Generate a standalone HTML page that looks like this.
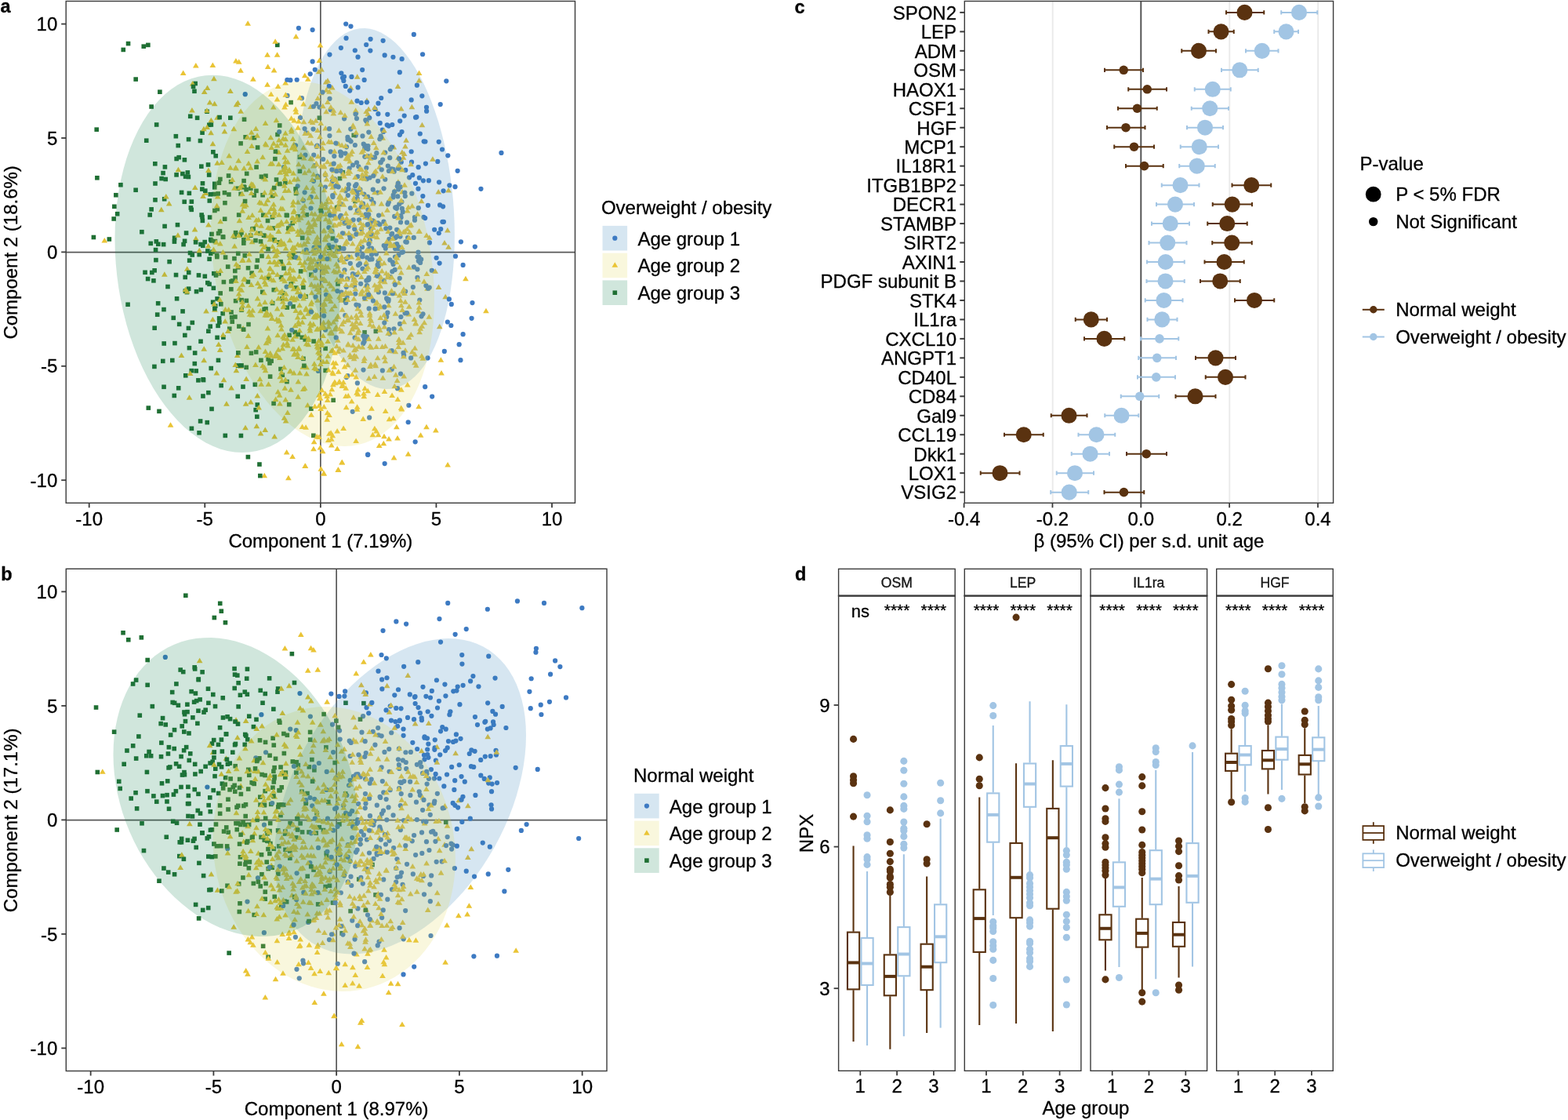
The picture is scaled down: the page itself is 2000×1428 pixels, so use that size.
<!DOCTYPE html>
<html lang="en">
<head>
<meta charset="utf-8">
<title>Figure: proteomic age associations by weight group</title>
<style>
html,body{margin:0;padding:0;background:#fff;}
body{width:2000px;height:1428px;overflow:hidden;}
svg{display:block;font-family:'Liberation Sans', sans-serif;}
text{stroke:#000;stroke-width:0.3px;}
</style>
</head>
<body>
<svg width="2000" height="1428" viewBox="0 0 2000 1428">
<rect x="0" y="0" width="2000" height="1428" fill="#ffffff"/>
<text x="0.6" y="16.4" font-size="23.5" font-weight="bold">a</text>
<line x1="84.2" y1="321.7" x2="733.5" y2="321.7" stroke="#585858" stroke-width="1.7"/>
<line x1="408.85" y1="1.5" x2="408.85" y2="641.3" stroke="#585858" stroke-width="1.7"/>
<g fill="#3D7AC2"><circle cx="583.65" cy="217.8" r="3.1"/></g>
<g fill="#1F6F33"><rect x="146.86" y="269.92" width="5.6" height="5.6"/><rect x="239.92" y="145.45" width="5.6" height="5.6"/></g>
<g fill="#3D7AC2"><circle cx="400.51" cy="315.55" r="3.1"/><circle cx="531.87" cy="108.63" r="3.1"/></g>
<g fill="#1F6F33"><rect x="296.49" y="298.91" width="5.6" height="5.6"/><rect x="178.09" y="292.92" width="5.6" height="5.6"/></g>
<g fill="#3D7AC2"><circle cx="378.68" cy="101.74" r="3.1"/><circle cx="561.69" cy="133.1" r="3.1"/><circle cx="365.56" cy="365.55" r="3.1"/></g>
<g fill="#1F6F33"><rect x="309.5" y="323.11" width="5.6" height="5.6"/></g>
<g fill="#3D7AC2"><circle cx="482.4" cy="145.13" r="3.1"/></g>
<g fill="#1F6F33"><rect x="268.23" y="318.39" width="5.6" height="5.6"/></g>
<g fill="#3D7AC2"><circle cx="419.43" cy="290.07" r="3.1"/><circle cx="470.19" cy="273.32" r="3.1"/><circle cx="462.49" cy="324.84" r="3.1"/><circle cx="456.13" cy="224.99" r="3.1"/></g>
<g fill="#1F6F33"><rect x="275.67" y="456.55" width="5.6" height="5.6"/><rect x="240.57" y="262.14" width="5.6" height="5.6"/></g>
<g fill="#3D7AC2"><circle cx="469.15" cy="579.7" r="3.1"/></g>
<g fill="#1F6F33"><rect x="357.15" y="377.9" width="5.6" height="5.6"/></g>
<g fill="#3D7AC2"><circle cx="511.01" cy="283.47" r="3.1"/><circle cx="466.28" cy="153.07" r="3.1"/><circle cx="447.47" cy="33.61" r="3.1"/><circle cx="529.65" cy="563.34" r="3.1"/><circle cx="468.17" cy="328.35" r="3.1"/></g>
<g fill="#1F6F33"><rect x="284.14" y="255.91" width="5.6" height="5.6"/></g>
<g fill="#3D7AC2"><circle cx="511.54" cy="277.31" r="3.1"/></g>
<g fill="#1F6F33"><rect x="287.91" y="337.28" width="5.6" height="5.6"/></g>
<g fill="#3D7AC2"><circle cx="497.75" cy="353.2" r="3.1"/></g>
<g fill="#1F6F33"><rect x="311.32" y="238.91" width="5.6" height="5.6"/><rect x="308.02" y="307.26" width="5.6" height="5.6"/></g>
<g fill="#3D7AC2"><circle cx="312.73" cy="120.14" r="3.1"/><circle cx="510.48" cy="301.57" r="3.1"/><circle cx="467.82" cy="228.23" r="3.1"/></g>
<g fill="#1F6F33"><rect x="281.61" y="299.13" width="5.6" height="5.6"/><rect x="430.68" y="224.77" width="5.6" height="5.6"/></g>
<g fill="#3D7AC2"><circle cx="474.05" cy="298.68" r="3.1"/><circle cx="450.64" cy="280.32" r="3.1"/><circle cx="539.89" cy="230.32" r="3.1"/><circle cx="467.11" cy="337.18" r="3.1"/><circle cx="546.9" cy="230.17" r="3.1"/></g>
<g fill="#1F6F33"><rect x="384.15" y="454.53" width="5.6" height="5.6"/></g>
<g fill="#3D7AC2"><circle cx="515.07" cy="452.97" r="3.1"/><circle cx="547.75" cy="366.52" r="3.1"/></g>
<g fill="#1F6F33"><rect x="246.35" y="103.67" width="5.6" height="5.6"/><rect x="313.74" y="338.87" width="5.6" height="5.6"/></g>
<g fill="#3D7AC2"><circle cx="410" cy="270.52" r="3.1"/></g>
<g fill="#1F6F33"><rect x="307.2" y="490.29" width="5.6" height="5.6"/></g>
<g fill="#3D7AC2"><circle cx="414.83" cy="238.48" r="3.1"/><circle cx="435.08" cy="260.03" r="3.1"/></g>
<g fill="#1F6F33"><rect x="231.29" y="308.83" width="5.6" height="5.6"/><rect x="331.92" y="369.51" width="5.6" height="5.6"/></g>
<g fill="#3D7AC2"><circle cx="469.91" cy="199.35" r="3.1"/><circle cx="435.34" cy="93.26" r="3.1"/><circle cx="414.99" cy="420.6" r="3.1"/></g>
<g fill="#1F6F33"><rect x="205.25" y="217.8" width="5.6" height="5.6"/><rect x="305.15" y="293.99" width="5.6" height="5.6"/><rect x="361.1" y="230.03" width="5.6" height="5.6"/></g>
<g fill="#3D7AC2"><circle cx="558.28" cy="205.97" r="3.1"/><circle cx="433.58" cy="331.73" r="3.1"/><circle cx="453.75" cy="172.69" r="3.1"/></g>
<g fill="#1F6F33"><rect x="317.64" y="447.52" width="5.6" height="5.6"/><rect x="344.87" y="383.72" width="5.6" height="5.6"/></g>
<g fill="#3D7AC2"><circle cx="507.79" cy="214.71" r="3.1"/><circle cx="443.22" cy="355.27" r="3.1"/><circle cx="465.34" cy="199.86" r="3.1"/></g>
<g fill="#1F6F33"><rect x="421.55" y="301.24" width="5.6" height="5.6"/></g>
<g fill="#3D7AC2"><circle cx="505.9" cy="264.01" r="3.1"/><circle cx="389.45" cy="197.7" r="3.1"/><circle cx="444.81" cy="235.35" r="3.1"/></g>
<g fill="#1F6F33"><rect x="462.25" y="420.9" width="5.6" height="5.6"/><rect x="331.18" y="323.66" width="5.6" height="5.6"/><rect x="254.35" y="271.22" width="5.6" height="5.6"/></g>
<g fill="#3D7AC2"><circle cx="457.3" cy="212.35" r="3.1"/></g>
<g fill="#1F6F33"><rect x="363.31" y="271.81" width="5.6" height="5.6"/></g>
<g fill="#3D7AC2"><circle cx="456.54" cy="72.69" r="3.1"/><circle cx="470.67" cy="393.44" r="3.1"/></g>
<g fill="#1F6F33"><rect x="277.04" y="408.21" width="5.6" height="5.6"/></g>
<g fill="#3D7AC2"><circle cx="401.76" cy="88.74" r="3.1"/><circle cx="435.19" cy="194.66" r="3.1"/><circle cx="454.95" cy="244.14" r="3.1"/></g>
<g fill="#1F6F33"><rect x="276.42" y="346.05" width="5.6" height="5.6"/><rect x="343.33" y="457.46" width="5.6" height="5.6"/><rect x="379.62" y="215.56" width="5.6" height="5.6"/><rect x="304.36" y="244.57" width="5.6" height="5.6"/><rect x="234.78" y="294.25" width="5.6" height="5.6"/><rect x="365.96" y="512.93" width="5.6" height="5.6"/><rect x="274.28" y="427.56" width="5.6" height="5.6"/><rect x="333.19" y="223.73" width="5.6" height="5.6"/><rect x="422.36" y="507.45" width="5.6" height="5.6"/><rect x="336.17" y="221.43" width="5.6" height="5.6"/><rect x="195.78" y="315.78" width="5.6" height="5.6"/></g>
<g fill="#3D7AC2"><circle cx="434.88" cy="61.11" r="3.1"/><circle cx="515.69" cy="147.58" r="3.1"/></g>
<g fill="#1F6F33"><rect x="293.42" y="407.37" width="5.6" height="5.6"/><rect x="394.01" y="347.42" width="5.6" height="5.6"/></g>
<g fill="#3D7AC2"><circle cx="379.58" cy="237.32" r="3.1"/></g>
<g fill="#1F6F33"><rect x="265.98" y="320.42" width="5.6" height="5.6"/></g>
<g fill="#3D7AC2"><circle cx="420.42" cy="173.09" r="3.1"/></g>
<g fill="#1F6F33"><rect x="253.5" y="366.66" width="5.6" height="5.6"/></g>
<g fill="#3D7AC2"><circle cx="474.48" cy="330.43" r="3.1"/><circle cx="533.47" cy="240.65" r="3.1"/><circle cx="432.7" cy="359.21" r="3.1"/><circle cx="433.68" cy="277.17" r="3.1"/></g>
<g fill="#1F6F33"><rect x="190.33" y="133.22" width="5.6" height="5.6"/></g>
<g fill="#3D7AC2"><circle cx="362.13" cy="213.14" r="3.1"/></g>
<g fill="#1F6F33"><rect x="272.43" y="195.96" width="5.6" height="5.6"/></g>
<g fill="#3D7AC2"><circle cx="509.83" cy="92.22" r="3.1"/></g>
<g fill="#1F6F33"><rect x="388.38" y="271.02" width="5.6" height="5.6"/></g>
<g fill="#3D7AC2"><circle cx="488.14" cy="203.54" r="3.1"/><circle cx="587.46" cy="459.15" r="3.1"/><circle cx="460.1" cy="361.81" r="3.1"/><circle cx="480.29" cy="195.2" r="3.1"/><circle cx="444.7" cy="327.58" r="3.1"/><circle cx="501.43" cy="72.73" r="3.1"/><circle cx="493.1" cy="380.38" r="3.1"/><circle cx="403.81" cy="186.9" r="3.1"/><circle cx="370.1" cy="288.3" r="3.1"/></g>
<g fill="#1F6F33"><rect x="310.34" y="172.01" width="5.6" height="5.6"/><rect x="196.12" y="328.78" width="5.6" height="5.6"/><rect x="359.16" y="339.17" width="5.6" height="5.6"/><rect x="476.53" y="419.59" width="5.6" height="5.6"/><rect x="274.53" y="263.76" width="5.6" height="5.6"/><rect x="217" y="456.66" width="5.6" height="5.6"/><rect x="237.67" y="415.62" width="5.6" height="5.6"/></g>
<g fill="#3D7AC2"><circle cx="462.43" cy="342.56" r="3.1"/></g>
<g fill="#1F6F33"><rect x="265.4" y="413.34" width="5.6" height="5.6"/><rect x="219.49" y="501.64" width="5.6" height="5.6"/></g>
<g fill="#3D7AC2"><circle cx="390.62" cy="169.32" r="3.1"/><circle cx="537.56" cy="403.3" r="3.1"/></g>
<g fill="#1F6F33"><rect x="208.43" y="225.7" width="5.6" height="5.6"/></g>
<g fill="#3D7AC2"><circle cx="485.61" cy="173.48" r="3.1"/><circle cx="462.03" cy="315.02" r="3.1"/></g>
<g fill="#1F6F33"><rect x="248.81" y="147.49" width="5.6" height="5.6"/></g>
<g fill="#3D7AC2"><circle cx="569.31" cy="103.3" r="3.1"/><circle cx="503.15" cy="275.88" r="3.1"/></g>
<g fill="#1F6F33"><rect x="339.34" y="455.11" width="5.6" height="5.6"/></g>
<g fill="#3D7AC2"><circle cx="452.04" cy="364.7" r="3.1"/><circle cx="547.92" cy="309.45" r="3.1"/><circle cx="412.19" cy="202.99" r="3.1"/><circle cx="525.04" cy="206.71" r="3.1"/></g>
<g fill="#1F6F33"><rect x="351" y="54.57" width="5.6" height="5.6"/></g>
<g fill="#3D7AC2"><circle cx="440.78" cy="243.29" r="3.1"/><circle cx="573.34" cy="236.35" r="3.1"/><circle cx="443.54" cy="178.1" r="3.1"/><circle cx="522.03" cy="226.3" r="3.1"/><circle cx="531.3" cy="149.16" r="3.1"/></g>
<g fill="#1F6F33"><rect x="253.24" y="432.46" width="5.6" height="5.6"/><rect x="256.16" y="502.22" width="5.6" height="5.6"/></g>
<g fill="#3D7AC2"><circle cx="467.32" cy="214.05" r="3.1"/><circle cx="452.8" cy="64.24" r="3.1"/><circle cx="551.16" cy="505.53" r="3.1"/><circle cx="434.87" cy="316.73" r="3.1"/></g>
<g fill="#1F6F33"><rect x="275.79" y="294.75" width="5.6" height="5.6"/></g>
<g fill="#3D7AC2"><circle cx="496.43" cy="304.84" r="3.1"/><circle cx="513.81" cy="270.14" r="3.1"/></g>
<g fill="#1F6F33"><rect x="355.51" y="308.12" width="5.6" height="5.6"/></g>
<g fill="#3D7AC2"><circle cx="575.36" cy="415.01" r="3.1"/><circle cx="435.65" cy="278.71" r="3.1"/></g>
<g fill="#1F6F33"><rect x="377.23" y="273.15" width="5.6" height="5.6"/></g>
<g fill="#3D7AC2"><circle cx="545.95" cy="261.83" r="3.1"/><circle cx="503.98" cy="327.54" r="3.1"/></g>
<g fill="#1F6F33"><rect x="282.1" y="427.24" width="5.6" height="5.6"/></g>
<g fill="#3D7AC2"><circle cx="532.5" cy="327.5" r="3.1"/></g>
<g fill="#1F6F33"><rect x="211.19" y="362.7" width="5.6" height="5.6"/></g>
<g fill="#3D7AC2"><circle cx="550.78" cy="344.76" r="3.1"/></g>
<g fill="#1F6F33"><rect x="296.98" y="342.67" width="5.6" height="5.6"/><rect x="368.3" y="127.77" width="5.6" height="5.6"/><rect x="237.79" y="174.86" width="5.6" height="5.6"/></g>
<g fill="#3D7AC2"><circle cx="495.9" cy="217.98" r="3.1"/><circle cx="451.53" cy="356.68" r="3.1"/></g>
<g fill="#1F6F33"><rect x="366.31" y="424.48" width="5.6" height="5.6"/></g>
<g fill="#3D7AC2"><circle cx="485.7" cy="207.23" r="3.1"/><circle cx="501.08" cy="216.36" r="3.1"/></g>
<g fill="#1F6F33"><rect x="160.28" y="385.44" width="5.6" height="5.6"/><rect x="412.35" y="469.57" width="5.6" height="5.6"/><rect x="198.85" y="383.95" width="5.6" height="5.6"/></g>
<g fill="#3D7AC2"><circle cx="390.68" cy="318.56" r="3.1"/></g>
<g fill="#1F6F33"><rect x="328.15" y="589.24" width="5.6" height="5.6"/></g>
<g fill="#3D7AC2"><circle cx="564.38" cy="282.78" r="3.1"/><circle cx="439.34" cy="284.68" r="3.1"/><circle cx="459.4" cy="241.71" r="3.1"/></g>
<g fill="#1F6F33"><rect x="304.3" y="180.04" width="5.6" height="5.6"/><rect x="284.49" y="552.59" width="5.6" height="5.6"/><rect x="303.46" y="296.56" width="5.6" height="5.6"/></g>
<g fill="#3D7AC2"><circle cx="613.45" cy="240.87" r="3.1"/><circle cx="482.03" cy="350.35" r="3.1"/></g>
<g fill="#1F6F33"><rect x="370.17" y="325.11" width="5.6" height="5.6"/></g>
<g fill="#3D7AC2"><circle cx="416.01" cy="375.76" r="3.1"/><circle cx="511.74" cy="206.7" r="3.1"/><circle cx="406.77" cy="313.49" r="3.1"/><circle cx="453.06" cy="237.19" r="3.1"/><circle cx="467.18" cy="57.01" r="3.1"/></g>
<g fill="#1F6F33"><rect x="264.31" y="327.47" width="5.6" height="5.6"/><rect x="222.8" y="377.98" width="5.6" height="5.6"/><rect x="186.07" y="54.57" width="5.6" height="5.6"/><rect x="264.25" y="359.51" width="5.6" height="5.6"/></g>
<g fill="#3D7AC2"><circle cx="472.21" cy="285.39" r="3.1"/><circle cx="501.69" cy="248.7" r="3.1"/><circle cx="501.5" cy="251.52" r="3.1"/><circle cx="430.21" cy="319.93" r="3.1"/></g>
<g fill="#1F6F33"><rect x="222.27" y="220.09" width="5.6" height="5.6"/></g>
<g fill="#3D7AC2"><circle cx="590.59" cy="426.21" r="3.1"/><circle cx="458.92" cy="336.17" r="3.1"/></g>
<g fill="#1F6F33"><rect x="434.58" y="216.94" width="5.6" height="5.6"/></g>
<g fill="#3D7AC2"><circle cx="471.29" cy="316.98" r="3.1"/><circle cx="437.08" cy="99.14" r="3.1"/><circle cx="530.05" cy="149.65" r="3.1"/></g>
<g fill="#1F6F33"><rect x="183.94" y="176.4" width="5.6" height="5.6"/></g>
<g fill="#EAC435"><path d="M363.01 423.32l3.85 6.5h-7.7z"/><path d="M288.95 511.2l3.85 6.5h-7.7z"/><path d="M386.34 317.23l3.85 6.5h-7.7z"/><path d="M286.44 164.02l3.85 6.5h-7.7z"/></g>
<g fill="#1F6F33"><rect x="450.2" y="253.74" width="5.6" height="5.6"/></g>
<g fill="#EAC435"><path d="M441.54 280.82l3.85 6.5h-7.7z"/></g>
<g fill="#1F6F33"><rect x="373.31" y="420.75" width="5.6" height="5.6"/></g>
<g fill="#EAC435"><path d="M455.07 291.59l3.85 6.5h-7.7z"/><path d="M422.08 548.28l3.85 6.5h-7.7z"/></g>
<g fill="#1F6F33"><rect x="196.89" y="156.17" width="5.6" height="5.6"/></g>
<g fill="#EAC435"><path d="M429.47 437.72l3.85 6.5h-7.7z"/><path d="M395.23 415.09l3.85 6.5h-7.7z"/><path d="M426.91 386.4l3.85 6.5h-7.7z"/><path d="M508.63 356.64l3.85 6.5h-7.7z"/></g>
<g fill="#3D7AC2"><circle cx="504.11" cy="317.07" r="3.1"/><circle cx="467.37" cy="357.73" r="3.1"/><circle cx="469.21" cy="579.72" r="3.1"/></g>
<g fill="#1F6F33"><rect x="224.9" y="492.03" width="5.6" height="5.6"/></g>
<g fill="#EAC435"><path d="M401.39 280.39l3.85 6.5h-7.7z"/><path d="M357.18 216.34l3.85 6.5h-7.7z"/></g>
<g fill="#1F6F33"><rect x="352.86" y="306.06" width="5.6" height="5.6"/></g>
<g fill="#3D7AC2"><circle cx="441.98" cy="187.28" r="3.1"/></g>
<g fill="#EAC435"><path d="M379.25 447.04l3.85 6.5h-7.7z"/></g>
<g fill="#1F6F33"><rect x="228.8" y="242.6" width="5.6" height="5.6"/><rect x="186.52" y="517.31" width="5.6" height="5.6"/><rect x="241.47" y="264.55" width="5.6" height="5.6"/></g>
<g fill="#EAC435"><path d="M451.48 357.47l3.85 6.5h-7.7z"/><path d="M388.81 216.74l3.85 6.5h-7.7z"/><path d="M249.89 300.62l3.85 6.5h-7.7z"/><path d="M497.26 370.62l3.85 6.5h-7.7z"/></g>
<g fill="#1F6F33"><rect x="225.87" y="410.58" width="5.6" height="5.6"/><rect x="136.55" y="302.19" width="5.6" height="5.6"/></g>
<g fill="#EAC435"><path d="M490.46 495.52l3.85 6.5h-7.7z"/><path d="M371.7 161.38l3.85 6.5h-7.7z"/></g>
<g fill="#3D7AC2"><circle cx="516.76" cy="250.06" r="3.1"/></g>
<g fill="#EAC435"><path d="M276.6 258.78l3.85 6.5h-7.7z"/><path d="M514.69 292.34l3.85 6.5h-7.7z"/></g>
<g fill="#3D7AC2"><circle cx="539.34" cy="250.1" r="3.1"/></g>
<g fill="#EAC435"><path d="M503.32 239.82l3.85 6.5h-7.7z"/><path d="M292.19 194.93l3.85 6.5h-7.7z"/><path d="M479.52 383.34l3.85 6.5h-7.7z"/><path d="M360.89 374.9l3.85 6.5h-7.7z"/><path d="M426.81 242.19l3.85 6.5h-7.7z"/></g>
<g fill="#3D7AC2"><circle cx="464.64" cy="101.9" r="3.1"/></g>
<g fill="#EAC435"><path d="M363.15 354.79l3.85 6.5h-7.7z"/></g>
<g fill="#1F6F33"><rect x="250.68" y="348.11" width="5.6" height="5.6"/></g>
<g fill="#3D7AC2"><circle cx="440.31" cy="402.16" r="3.1"/></g>
<g fill="#EAC435"><path d="M436.56 391.24l3.85 6.5h-7.7z"/><path d="M406.49 365.39l3.85 6.5h-7.7z"/></g>
<g fill="#3D7AC2"><circle cx="446.03" cy="300.42" r="3.1"/><circle cx="520.68" cy="538.24" r="3.1"/><circle cx="421.76" cy="193.42" r="3.1"/><circle cx="481.7" cy="245.59" r="3.1"/></g>
<g fill="#1F6F33"><rect x="255.19" y="273.79" width="5.6" height="5.6"/></g>
<g fill="#3D7AC2"><circle cx="505.95" cy="265.78" r="3.1"/></g>
<g fill="#1F6F33"><rect x="194.34" y="342.02" width="5.6" height="5.6"/></g>
<g fill="#EAC435"><path d="M436.27 585.7l3.85 6.5h-7.7z"/><path d="M356.56 500.28l3.85 6.5h-7.7z"/><path d="M422.78 443.86l3.85 6.5h-7.7z"/></g>
<g fill="#1F6F33"><rect x="297.76" y="293.85" width="5.6" height="5.6"/></g>
<g fill="#3D7AC2"><circle cx="470.38" cy="354.14" r="3.1"/></g>
<g fill="#EAC435"><path d="M470.9 297.54l3.85 6.5h-7.7z"/><path d="M391.19 318.28l3.85 6.5h-7.7z"/><path d="M282.89 203.54l3.85 6.5h-7.7z"/></g>
<g fill="#1F6F33"><rect x="247.39" y="470.1" width="5.6" height="5.6"/><rect x="301.88" y="271.21" width="5.6" height="5.6"/></g>
<g fill="#EAC435"><path d="M346.34 246.48l3.85 6.5h-7.7z"/></g>
<g fill="#1F6F33"><rect x="345.17" y="246.41" width="5.6" height="5.6"/><rect x="308.17" y="235.27" width="5.6" height="5.6"/><rect x="207.62" y="210.09" width="5.6" height="5.6"/><rect x="371.25" y="388.08" width="5.6" height="5.6"/></g>
<g fill="#EAC435"><path d="M420.02 113.21l3.85 6.5h-7.7z"/></g>
<g fill="#1F6F33"><rect x="291" y="147.44" width="5.6" height="5.6"/></g>
<g fill="#3D7AC2"><circle cx="454.56" cy="235.06" r="3.1"/></g>
<g fill="#EAC435"><path d="M309.78 327.91l3.85 6.5h-7.7z"/></g>
<g fill="#3D7AC2"><circle cx="411.16" cy="356.38" r="3.1"/></g>
<g fill="#EAC435"><path d="M521.82 387.35l3.85 6.5h-7.7z"/><path d="M403.37 204.8l3.85 6.5h-7.7z"/></g>
<g fill="#3D7AC2"><circle cx="536.12" cy="334.91" r="3.1"/></g>
<g fill="#EAC435"><path d="M397.2 285.46l3.85 6.5h-7.7z"/><path d="M496.81 306.48l3.85 6.5h-7.7z"/></g>
<g fill="#1F6F33"><rect x="346.46" y="366.8" width="5.6" height="5.6"/></g>
<g fill="#EAC435"><path d="M425.37 141.09l3.85 6.5h-7.7z"/></g>
<g fill="#3D7AC2"><circle cx="388.63" cy="245.34" r="3.1"/></g>
<g fill="#EAC435"><path d="M342.45 486.27l3.85 6.5h-7.7z"/><path d="M525.7 444.92l3.85 6.5h-7.7z"/></g>
<g fill="#3D7AC2"><circle cx="513.96" cy="321.29" r="3.1"/><circle cx="401.65" cy="210.99" r="3.1"/></g>
<g fill="#EAC435"><path d="M551.93 199.29l3.85 6.5h-7.7z"/></g>
<g fill="#3D7AC2"><circle cx="495.3" cy="384.2" r="3.1"/></g>
<g fill="#EAC435"><path d="M425.31 406.89l3.85 6.5h-7.7z"/></g>
<g fill="#3D7AC2"><circle cx="488.61" cy="51.86" r="3.1"/></g>
<g fill="#EAC435"><path d="M406.93 326.7l3.85 6.5h-7.7z"/><path d="M463.87 256.77l3.85 6.5h-7.7z"/><path d="M427.71 484.83l3.85 6.5h-7.7z"/></g>
<g fill="#3D7AC2"><circle cx="454.39" cy="388.58" r="3.1"/></g>
<g fill="#1F6F33"><rect x="241.55" y="254.31" width="5.6" height="5.6"/><rect x="283.88" y="276.4" width="5.6" height="5.6"/></g>
<g fill="#3D7AC2"><circle cx="512.84" cy="265.92" r="3.1"/></g>
<g fill="#EAC435"><path d="M464.96 342.52l3.85 6.5h-7.7z"/></g>
<g fill="#3D7AC2"><circle cx="566.84" cy="447.94" r="3.1"/></g>
<g fill="#EAC435"><path d="M472.5 198.18l3.85 6.5h-7.7z"/><path d="M308.85 232.92l3.85 6.5h-7.7z"/><path d="M332.52 549.03l3.85 6.5h-7.7z"/></g>
<g fill="#3D7AC2"><circle cx="441.55" cy="48.64" r="3.1"/></g>
<g fill="#EAC435"><path d="M452.68 356.64l3.85 6.5h-7.7z"/></g>
<g fill="#3D7AC2"><circle cx="465.63" cy="185.68" r="3.1"/></g>
<g fill="#EAC435"><path d="M509.53 433.19l3.85 6.5h-7.7z"/><path d="M436.36 409.87l3.85 6.5h-7.7z"/><path d="M284.58 423.24l3.85 6.5h-7.7z"/></g>
<g fill="#1F6F33"><rect x="281.39" y="396.96" width="5.6" height="5.6"/></g>
<g fill="#EAC435"><path d="M414.07 384.6l3.85 6.5h-7.7z"/><path d="M293.87 210.36l3.85 6.5h-7.7z"/><path d="M559.5 362.43l3.85 6.5h-7.7z"/></g>
<g fill="#1F6F33"><rect x="246.81" y="306.05" width="5.6" height="5.6"/></g>
<g fill="#EAC435"><path d="M358.98 416.08l3.85 6.5h-7.7z"/><path d="M417.26 531.15l3.85 6.5h-7.7z"/></g>
<g fill="#1F6F33"><rect x="397.03" y="552.5" width="5.6" height="5.6"/><rect x="297.79" y="380.85" width="5.6" height="5.6"/></g>
<g fill="#EAC435"><path d="M504.33 444.71l3.85 6.5h-7.7z"/><path d="M345.92 449.94l3.85 6.5h-7.7z"/><path d="M367.92 605.87l3.85 6.5h-7.7z"/><path d="M423.75 108.11l3.85 6.5h-7.7z"/><path d="M516.92 183.07l3.85 6.5h-7.7z"/></g>
<g fill="#1F6F33"><rect x="300.45" y="502.54" width="5.6" height="5.6"/></g>
<g fill="#EAC435"><path d="M418.34 337.1l3.85 6.5h-7.7z"/><path d="M399.85 275.9l3.85 6.5h-7.7z"/><path d="M364.21 173.7l3.85 6.5h-7.7z"/><path d="M441.67 515.76l3.85 6.5h-7.7z"/></g>
<g fill="#1F6F33"><rect x="292.05" y="365.9" width="5.6" height="5.6"/><rect x="206.25" y="490.49" width="5.6" height="5.6"/></g>
<g fill="#EAC435"><path d="M395.86 330.92l3.85 6.5h-7.7z"/><path d="M514.85 450.64l3.85 6.5h-7.7z"/></g>
<g fill="#3D7AC2"><circle cx="384.96" cy="125.19" r="3.1"/></g>
<g fill="#1F6F33"><rect x="300.38" y="237.41" width="5.6" height="5.6"/></g>
<g fill="#EAC435"><path d="M450.3 156.35l3.85 6.5h-7.7z"/></g>
<g fill="#1F6F33"><rect x="263.87" y="220.22" width="5.6" height="5.6"/></g>
<g fill="#3D7AC2"><circle cx="453.27" cy="374.53" r="3.1"/></g>
<g fill="#EAC435"><path d="M372.32 185.12l3.85 6.5h-7.7z"/><path d="M309.39 385.89l3.85 6.5h-7.7z"/><path d="M572.04 238.94l3.85 6.5h-7.7z"/></g>
<g fill="#1F6F33"><rect x="323.87" y="446.11" width="5.6" height="5.6"/></g>
<g fill="#3D7AC2"><circle cx="503.88" cy="312.06" r="3.1"/></g>
<g fill="#EAC435"><path d="M409.38 594.22l3.85 6.5h-7.7z"/></g>
<g fill="#1F6F33"><rect x="355.17" y="467.68" width="5.6" height="5.6"/><rect x="206.88" y="250.97" width="5.6" height="5.6"/></g>
<g fill="#EAC435"><path d="M428.56 231.25l3.85 6.5h-7.7z"/><path d="M419.98 525.62l3.85 6.5h-7.7z"/><path d="M485.04 386.56l3.85 6.5h-7.7z"/></g>
<g fill="#1F6F33"><rect x="428.18" y="359.23" width="5.6" height="5.6"/></g>
<g fill="#EAC435"><path d="M399 235.89l3.85 6.5h-7.7z"/><path d="M479.02 135.23l3.85 6.5h-7.7z"/><path d="M436.71 352.69l3.85 6.5h-7.7z"/><path d="M477.87 542.77l3.85 6.5h-7.7z"/><path d="M547.74 299.27l3.85 6.5h-7.7z"/><path d="M367.82 286.41l3.85 6.5h-7.7z"/><path d="M399.76 208.01l3.85 6.5h-7.7z"/></g>
<g fill="#3D7AC2"><circle cx="366.54" cy="121.88" r="3.1"/></g>
<g fill="#EAC435"><path d="M503.21 355.19l3.85 6.5h-7.7z"/><path d="M469.89 203.7l3.85 6.5h-7.7z"/><path d="M327.36 539.66l3.85 6.5h-7.7z"/><path d="M332.27 392.86l3.85 6.5h-7.7z"/><path d="M478.27 342.55l3.85 6.5h-7.7z"/><path d="M368.92 212.75l3.85 6.5h-7.7z"/></g>
<g fill="#3D7AC2"><circle cx="440.58" cy="195.53" r="3.1"/></g>
<g fill="#EAC435"><path d="M399.38 291.16l3.85 6.5h-7.7z"/></g>
<g fill="#3D7AC2"><circle cx="512.47" cy="321.84" r="3.1"/></g>
<g fill="#EAC435"><path d="M347.88 298.65l3.85 6.5h-7.7z"/><path d="M423.14 229.99l3.85 6.5h-7.7z"/></g>
<g fill="#3D7AC2"><circle cx="400.02" cy="230.78" r="3.1"/><circle cx="400.23" cy="197.71" r="3.1"/></g>
<g fill="#EAC435"><path d="M231.45 449.61l3.85 6.5h-7.7z"/><path d="M443.47 196.54l3.85 6.5h-7.7z"/></g>
<g fill="#3D7AC2"><circle cx="497.54" cy="116.08" r="3.1"/></g>
<g fill="#EAC435"><path d="M395.39 338.37l3.85 6.5h-7.7z"/><path d="M338.25 544.5l3.85 6.5h-7.7z"/><path d="M391.07 464.85l3.85 6.5h-7.7z"/></g>
<g fill="#3D7AC2"><circle cx="439.02" cy="97.85" r="3.1"/></g>
<g fill="#EAC435"><path d="M352.19 447.22l3.85 6.5h-7.7z"/></g>
<g fill="#3D7AC2"><circle cx="473.76" cy="254.22" r="3.1"/></g>
<g fill="#EAC435"><path d="M374.98 448.18l3.85 6.5h-7.7z"/><path d="M415.11 159.92l3.85 6.5h-7.7z"/><path d="M517.02 443.04l3.85 6.5h-7.7z"/><path d="M473.46 374.78l3.85 6.5h-7.7z"/></g>
<g fill="#3D7AC2"><circle cx="575.8" cy="387.89" r="3.1"/></g>
<g fill="#EAC435"><path d="M508.93 491.69l3.85 6.5h-7.7z"/><path d="M479.19 462.77l3.85 6.5h-7.7z"/><path d="M392.38 513.05l3.85 6.5h-7.7z"/><path d="M307.15 138.31l3.85 6.5h-7.7z"/><path d="M380.63 406.91l3.85 6.5h-7.7z"/><path d="M355.05 442.13l3.85 6.5h-7.7z"/></g>
<g fill="#3D7AC2"><circle cx="518.79" cy="308.67" r="3.1"/></g>
<g fill="#EAC435"><path d="M500.08 500.47l3.85 6.5h-7.7z"/></g>
<g fill="#1F6F33"><rect x="397.33" y="432.31" width="5.6" height="5.6"/></g>
<g fill="#3D7AC2"><circle cx="452.87" cy="185.02" r="3.1"/></g>
<g fill="#1F6F33"><rect x="258.51" y="349.49" width="5.6" height="5.6"/></g>
<g fill="#3D7AC2"><circle cx="507.34" cy="250.42" r="3.1"/></g>
<g fill="#EAC435"><path d="M406.12 273.89l3.85 6.5h-7.7z"/></g>
<g fill="#3D7AC2"><circle cx="471.54" cy="330.75" r="3.1"/><circle cx="411.92" cy="342.83" r="3.1"/></g>
<g fill="#EAC435"><path d="M400.64 559.71l3.85 6.5h-7.7z"/><path d="M371.76 286.66l3.85 6.5h-7.7z"/></g>
<g fill="#3D7AC2"><circle cx="428.62" cy="306.74" r="3.1"/></g>
<g fill="#EAC435"><path d="M417.1 501.51l3.85 6.5h-7.7z"/></g>
<g fill="#3D7AC2"><circle cx="484.44" cy="286.19" r="3.1"/></g>
<g fill="#EAC435"><path d="M382.82 331.38l3.85 6.5h-7.7z"/><path d="M389 308.09l3.85 6.5h-7.7z"/><path d="M345.16 205.13l3.85 6.5h-7.7z"/><path d="M317.42 327.89l3.85 6.5h-7.7z"/><path d="M390.35 389.51l3.85 6.5h-7.7z"/><path d="M456.61 492.91l3.85 6.5h-7.7z"/></g>
<g fill="#1F6F33"><rect x="370.47" y="281.66" width="5.6" height="5.6"/><rect x="362.57" y="271.51" width="5.6" height="5.6"/></g>
<g fill="#EAC435"><path d="M333.69 133.03l3.85 6.5h-7.7z"/><path d="M355.09 291.47l3.85 6.5h-7.7z"/><path d="M518.09 175.26l3.85 6.5h-7.7z"/><path d="M404.13 416.13l3.85 6.5h-7.7z"/></g>
<g fill="#1F6F33"><rect x="318.35" y="345.32" width="5.6" height="5.6"/><rect x="374.33" y="238.17" width="5.6" height="5.6"/></g>
<g fill="#EAC435"><path d="M444.2 500.89l3.85 6.5h-7.7z"/></g>
<g fill="#3D7AC2"><circle cx="509.96" cy="171.87" r="3.1"/></g>
<g fill="#EAC435"><path d="M341.7 81.5l3.85 6.5h-7.7z"/><path d="M347.29 237.66l3.85 6.5h-7.7z"/><path d="M455.02 497.22l3.85 6.5h-7.7z"/><path d="M435.43 418.65l3.85 6.5h-7.7z"/><path d="M407.96 170.86l3.85 6.5h-7.7z"/></g>
<g fill="#3D7AC2"><circle cx="491.77" cy="316.72" r="3.1"/><circle cx="455.88" cy="488.47" r="3.1"/></g>
<g fill="#EAC435"><path d="M469.24 337.09l3.85 6.5h-7.7z"/></g>
<g fill="#3D7AC2"><circle cx="533.75" cy="265.15" r="3.1"/><circle cx="434.8" cy="274.84" r="3.1"/></g>
<g fill="#1F6F33"><rect x="207.28" y="285.67" width="5.6" height="5.6"/></g>
<g fill="#EAC435"><path d="M339.66 297.28l3.85 6.5h-7.7z"/></g>
<g fill="#1F6F33"><rect x="379.59" y="197.53" width="5.6" height="5.6"/></g>
<g fill="#EAC435"><path d="M429.84 229.67l3.85 6.5h-7.7z"/><path d="M536.59 551.17l3.85 6.5h-7.7z"/></g>
<g fill="#3D7AC2"><circle cx="452.57" cy="430.48" r="3.1"/></g>
<g fill="#EAC435"><path d="M422.61 317.17l3.85 6.5h-7.7z"/></g>
<g fill="#1F6F33"><rect x="268.87" y="382.45" width="5.6" height="5.6"/></g>
<g fill="#3D7AC2"><circle cx="484.38" cy="177.24" r="3.1"/></g>
<g fill="#EAC435"><path d="M397.57 253.75l3.85 6.5h-7.7z"/><path d="M451.57 453.73l3.85 6.5h-7.7z"/><path d="M480.08 347.52l3.85 6.5h-7.7z"/><path d="M308.29 289.65l3.85 6.5h-7.7z"/></g>
<g fill="#3D7AC2"><circle cx="445.66" cy="214.57" r="3.1"/></g>
<g fill="#EAC435"><path d="M547.29 400.17l3.85 6.5h-7.7z"/></g>
<g fill="#3D7AC2"><circle cx="478.43" cy="139.04" r="3.1"/></g>
<g fill="#EAC435"><path d="M248.85 235.39l3.85 6.5h-7.7z"/></g>
<g fill="#1F6F33"><rect x="255.25" y="166.4" width="5.6" height="5.6"/></g>
<g fill="#EAC435"><path d="M321.53 304.67l3.85 6.5h-7.7z"/><path d="M406.93 275.78l3.85 6.5h-7.7z"/><path d="M469.41 282.33l3.85 6.5h-7.7z"/></g>
<g fill="#3D7AC2"><circle cx="490.83" cy="373.41" r="3.1"/></g>
<g fill="#EAC435"><path d="M315.52 189.39l3.85 6.5h-7.7z"/><path d="M322.88 97.19l3.85 6.5h-7.7z"/><path d="M441.51 377.95l3.85 6.5h-7.7z"/><path d="M244.93 137.1l3.85 6.5h-7.7z"/></g>
<g fill="#1F6F33"><rect x="357.79" y="370.8" width="5.6" height="5.6"/></g>
<g fill="#EAC435"><path d="M260.73 113.59l3.85 6.5h-7.7z"/><path d="M388.36 340.27l3.85 6.5h-7.7z"/><path d="M356.5 308.23l3.85 6.5h-7.7z"/><path d="M413.56 290.16l3.85 6.5h-7.7z"/></g>
<g fill="#3D7AC2"><circle cx="471.62" cy="226.49" r="3.1"/></g>
<g fill="#EAC435"><path d="M403.39 306.19l3.85 6.5h-7.7z"/></g>
<g fill="#3D7AC2"><circle cx="478.08" cy="200.72" r="3.1"/></g>
<g fill="#1F6F33"><rect x="267.25" y="518.6" width="5.6" height="5.6"/></g>
<g fill="#EAC435"><path d="M375.11 278.76l3.85 6.5h-7.7z"/></g>
<g fill="#3D7AC2"><circle cx="495.82" cy="160.62" r="3.1"/></g>
<g fill="#EAC435"><path d="M451.46 377.32l3.85 6.5h-7.7z"/></g>
<g fill="#1F6F33"><rect x="205.84" y="308.84" width="5.6" height="5.6"/></g>
<g fill="#EAC435"><path d="M488.19 172.13l3.85 6.5h-7.7z"/></g>
<g fill="#1F6F33"><rect x="266.43" y="466.73" width="5.6" height="5.6"/></g>
<g fill="#EAC435"><path d="M619.95 392.76l3.85 6.5h-7.7z"/><path d="M260.15 455.79l3.85 6.5h-7.7z"/></g>
<g fill="#1F6F33"><rect x="196.51" y="305.08" width="5.6" height="5.6"/></g>
<g fill="#EAC435"><path d="M350.97 322.86l3.85 6.5h-7.7z"/><path d="M444.69 404.7l3.85 6.5h-7.7z"/></g>
<g fill="#3D7AC2"><circle cx="511.39" cy="404.02" r="3.1"/></g>
<g fill="#EAC435"><path d="M416.17 138.73l3.85 6.5h-7.7z"/><path d="M363.4 223.81l3.85 6.5h-7.7z"/></g>
<g fill="#1F6F33"><rect x="333.75" y="297.34" width="5.6" height="5.6"/></g>
<g fill="#3D7AC2"><circle cx="503.74" cy="343.97" r="3.1"/><circle cx="471.14" cy="532.45" r="3.1"/></g>
<g fill="#EAC435"><path d="M480.43 336.38l3.85 6.5h-7.7z"/></g>
<g fill="#3D7AC2"><circle cx="482.59" cy="333.11" r="3.1"/><circle cx="543.45" cy="364.2" r="3.1"/></g>
<g fill="#1F6F33"><rect x="247.73" y="368.9" width="5.6" height="5.6"/><rect x="345.44" y="288.23" width="5.6" height="5.6"/></g>
<g fill="#EAC435"><path d="M348.77 132.93l3.85 6.5h-7.7z"/><path d="M484.24 325.71l3.85 6.5h-7.7z"/></g>
<g fill="#3D7AC2"><circle cx="487.82" cy="165.55" r="3.1"/></g>
<g fill="#1F6F33"><rect x="308.29" y="227.77" width="5.6" height="5.6"/></g>
<g fill="#EAC435"><path d="M509.49 373.02l3.85 6.5h-7.7z"/><path d="M433.34 355.23l3.85 6.5h-7.7z"/></g>
<g fill="#1F6F33"><rect x="251.27" y="549.01" width="5.6" height="5.6"/></g>
<g fill="#EAC435"><path d="M422.04 205.76l3.85 6.5h-7.7z"/></g>
<g fill="#3D7AC2"><circle cx="461.02" cy="291.89" r="3.1"/></g>
<g fill="#EAC435"><path d="M471.84 281.45l3.85 6.5h-7.7z"/></g>
<g fill="#3D7AC2"><circle cx="489.43" cy="282.69" r="3.1"/></g>
<g fill="#EAC435"><path d="M568.15 374.86l3.85 6.5h-7.7z"/></g>
<g fill="#3D7AC2"><circle cx="440.89" cy="283.71" r="3.1"/><circle cx="465.35" cy="226.07" r="3.1"/></g>
<g fill="#1F6F33"><rect x="308.74" y="149.45" width="5.6" height="5.6"/></g>
<g fill="#EAC435"><path d="M425.79 214.06l3.85 6.5h-7.7z"/><path d="M355.62 190.48l3.85 6.5h-7.7z"/></g>
<g fill="#1F6F33"><rect x="195.21" y="231.18" width="5.6" height="5.6"/></g>
<g fill="#EAC435"><path d="M451.61 248.47l3.85 6.5h-7.7z"/><path d="M401.78 269.14l3.85 6.5h-7.7z"/><path d="M453.37 364.96l3.85 6.5h-7.7z"/><path d="M339.02 310.4l3.85 6.5h-7.7z"/><path d="M352.91 403.62l3.85 6.5h-7.7z"/></g>
<g fill="#1F6F33"><rect x="297.25" y="351.24" width="5.6" height="5.6"/></g>
<g fill="#EAC435"><path d="M390.95 235.48l3.85 6.5h-7.7z"/><path d="M408.13 503.44l3.85 6.5h-7.7z"/><path d="M425.89 341.71l3.85 6.5h-7.7z"/><path d="M408.91 413.93l3.85 6.5h-7.7z"/></g>
<g fill="#3D7AC2"><circle cx="463.32" cy="437.93" r="3.1"/></g>
<g fill="#EAC435"><path d="M359.12 397.13l3.85 6.5h-7.7z"/></g>
<g fill="#1F6F33"><rect x="317.05" y="237.26" width="5.6" height="5.6"/></g>
<g fill="#3D7AC2"><circle cx="516.61" cy="399.36" r="3.1"/><circle cx="449.96" cy="349.13" r="3.1"/></g>
<g fill="#EAC435"><path d="M280.83 306.95l3.85 6.5h-7.7z"/></g>
<g fill="#1F6F33"><rect x="269.58" y="364.51" width="5.6" height="5.6"/></g>
<g fill="#3D7AC2"><circle cx="423.97" cy="230.99" r="3.1"/></g>
<g fill="#EAC435"><path d="M491.47 437.7l3.85 6.5h-7.7z"/></g>
<g fill="#1F6F33"><rect x="116.61" y="299.72" width="5.6" height="5.6"/></g>
<g fill="#EAC435"><path d="M360.73 307.78l3.85 6.5h-7.7z"/><path d="M436.42 488.48l3.85 6.5h-7.7z"/></g>
<g fill="#3D7AC2"><circle cx="565.55" cy="243.3" r="3.1"/></g>
<g fill="#EAC435"><path d="M361.4 387.77l3.85 6.5h-7.7z"/><path d="M455.57 401.86l3.85 6.5h-7.7z"/><path d="M410.28 433.15l3.85 6.5h-7.7z"/><path d="M364.11 101.89l3.85 6.5h-7.7z"/><path d="M312.71 352.81l3.85 6.5h-7.7z"/><path d="M379.9 307.93l3.85 6.5h-7.7z"/></g>
<g fill="#3D7AC2"><circle cx="442.58" cy="378.86" r="3.1"/><circle cx="497.87" cy="190.15" r="3.1"/><circle cx="443.88" cy="249.03" r="3.1"/></g>
<g fill="#1F6F33"><rect x="291.75" y="228.91" width="5.6" height="5.6"/></g>
<g fill="#EAC435"><path d="M509.34 294.47l3.85 6.5h-7.7z"/><path d="M360.62 262.81l3.85 6.5h-7.7z"/><path d="M512.94 190.53l3.85 6.5h-7.7z"/><path d="M408.48 566.88l3.85 6.5h-7.7z"/></g>
<g fill="#3D7AC2"><circle cx="458.5" cy="319.84" r="3.1"/><circle cx="540.69" cy="180.31" r="3.1"/></g>
<g fill="#EAC435"><path d="M413.18 412.68l3.85 6.5h-7.7z"/></g>
<g fill="#3D7AC2"><circle cx="495.37" cy="352.38" r="3.1"/></g>
<g fill="#EAC435"><path d="M469.18 494.64l3.85 6.5h-7.7z"/><path d="M419.99 549.14l3.85 6.5h-7.7z"/></g>
<g fill="#1F6F33"><rect x="267.26" y="295.63" width="5.6" height="5.6"/></g>
<g fill="#3D7AC2"><circle cx="565.06" cy="263.35" r="3.1"/></g>
<g fill="#EAC435"><path d="M373.17 354.81l3.85 6.5h-7.7z"/></g>
<g fill="#1F6F33"><rect x="245.17" y="113.49" width="5.6" height="5.6"/></g>
<g fill="#EAC435"><path d="M360.64 381.06l3.85 6.5h-7.7z"/><path d="M436.08 181.44l3.85 6.5h-7.7z"/><path d="M426.68 189.29l3.85 6.5h-7.7z"/></g>
<g fill="#1F6F33"><rect x="206.19" y="391.78" width="5.6" height="5.6"/></g>
<g fill="#EAC435"><path d="M380.41 483.08l3.85 6.5h-7.7z"/></g>
<g fill="#3D7AC2"><circle cx="485.21" cy="207.06" r="3.1"/></g>
<g fill="#1F6F33"><rect x="219.63" y="305.29" width="5.6" height="5.6"/></g>
<g fill="#EAC435"><path d="M438.14 542.52l3.85 6.5h-7.7z"/></g>
<g fill="#3D7AC2"><circle cx="533.67" cy="213.13" r="3.1"/></g>
<g fill="#EAC435"><path d="M366.61 188.25l3.85 6.5h-7.7z"/><path d="M374.81 180.19l3.85 6.5h-7.7z"/></g>
<g fill="#3D7AC2"><circle cx="580.51" cy="238.19" r="3.1"/><circle cx="447.55" cy="180.33" r="3.1"/><circle cx="482.11" cy="230.81" r="3.1"/><circle cx="439.11" cy="151.3" r="3.1"/></g>
<g fill="#EAC435"><path d="M383.11 145.29l3.85 6.5h-7.7z"/></g>
<g fill="#3D7AC2"><circle cx="486.2" cy="124.99" r="3.1"/></g>
<g fill="#1F6F33"><rect x="293.88" y="355.19" width="5.6" height="5.6"/></g>
<g fill="#EAC435"><path d="M374.65 350.69l3.85 6.5h-7.7z"/><path d="M415.07 269.39l3.85 6.5h-7.7z"/><path d="M313.92 257.64l3.85 6.5h-7.7z"/><path d="M398.63 152.51l3.85 6.5h-7.7z"/><path d="M410.05 85.09l3.85 6.5h-7.7z"/></g>
<g fill="#1F6F33"><rect x="339.69" y="351.46" width="5.6" height="5.6"/></g>
<g fill="#EAC435"><path d="M411.07 337.37l3.85 6.5h-7.7z"/></g>
<g fill="#3D7AC2"><circle cx="426.27" cy="199.05" r="3.1"/><circle cx="565.94" cy="282.78" r="3.1"/></g>
<g fill="#EAC435"><path d="M431.12 400.36l3.85 6.5h-7.7z"/><path d="M338.86 358.99l3.85 6.5h-7.7z"/></g>
<g fill="#3D7AC2"><circle cx="372.22" cy="420.77" r="3.1"/><circle cx="463.5" cy="471.6" r="3.1"/><circle cx="482.88" cy="339.39" r="3.1"/></g>
<g fill="#EAC435"><path d="M327.13 293.29l3.85 6.5h-7.7z"/></g>
<g fill="#3D7AC2"><circle cx="455.19" cy="350.21" r="3.1"/></g>
<g fill="#1F6F33"><rect x="334.29" y="391.49" width="5.6" height="5.6"/></g>
<g fill="#EAC435"><path d="M387.83 307.15l3.85 6.5h-7.7z"/></g>
<g fill="#1F6F33"><rect x="189.44" y="307.57" width="5.6" height="5.6"/></g>
<g fill="#EAC435"><path d="M504.74 309.42l3.85 6.5h-7.7z"/><path d="M455.6 515.24l3.85 6.5h-7.7z"/><path d="M413.49 392.9l3.85 6.5h-7.7z"/><path d="M544.06 296.52l3.85 6.5h-7.7z"/><path d="M309.57 256.99l3.85 6.5h-7.7z"/><path d="M559.24 240.93l3.85 6.5h-7.7z"/></g>
<g fill="#1F6F33"><rect x="145.07" y="245.94" width="5.6" height="5.6"/><rect x="279.36" y="488.73" width="5.6" height="5.6"/></g>
<g fill="#EAC435"><path d="M444.22 217.41l3.85 6.5h-7.7z"/><path d="M454.42 426.79l3.85 6.5h-7.7z"/><path d="M462.36 439.06l3.85 6.5h-7.7z"/></g>
<g fill="#3D7AC2"><circle cx="500.34" cy="346.22" r="3.1"/></g>
<g fill="#1F6F33"><rect x="266.56" y="156.2" width="5.6" height="5.6"/></g>
<g fill="#EAC435"><path d="M320.65 231.03l3.85 6.5h-7.7z"/><path d="M416.3 111.31l3.85 6.5h-7.7z"/><path d="M512.97 240.91l3.85 6.5h-7.7z"/></g>
<g fill="#1F6F33"><rect x="238.65" y="440.84" width="5.6" height="5.6"/></g>
<g fill="#EAC435"><path d="M317.92 320.19l3.85 6.5h-7.7z"/><path d="M426.17 212.57l3.85 6.5h-7.7z"/><path d="M460.93 323.57l3.85 6.5h-7.7z"/><path d="M433 210.72l3.85 6.5h-7.7z"/></g>
<g fill="#3D7AC2"><circle cx="481.03" cy="351.84" r="3.1"/></g>
<g fill="#EAC435"><path d="M423.31 421.31l3.85 6.5h-7.7z"/><path d="M425.66 365.05l3.85 6.5h-7.7z"/></g>
<g fill="#1F6F33"><rect x="241.44" y="469.84" width="5.6" height="5.6"/></g>
<g fill="#3D7AC2"><circle cx="561.12" cy="261.39" r="3.1"/></g>
<g fill="#EAC435"><path d="M408.48 53.94l3.85 6.5h-7.7z"/><path d="M403.66 247.44l3.85 6.5h-7.7z"/></g>
<g fill="#1F6F33"><rect x="239.72" y="319.71" width="5.6" height="5.6"/></g>
<g fill="#EAC435"><path d="M455.8 315.21l3.85 6.5h-7.7z"/><path d="M477.89 241.84l3.85 6.5h-7.7z"/></g>
<g fill="#1F6F33"><rect x="252.79" y="534.17" width="5.6" height="5.6"/></g>
<g fill="#EAC435"><path d="M347.68 310.82l3.85 6.5h-7.7z"/><path d="M524.22 422.91l3.85 6.5h-7.7z"/><path d="M499.91 349.89l3.85 6.5h-7.7z"/><path d="M439.84 143.41l3.85 6.5h-7.7z"/><path d="M444.07 194.38l3.85 6.5h-7.7z"/></g>
<g fill="#3D7AC2"><circle cx="511.26" cy="275.07" r="3.1"/></g>
<g fill="#EAC435"><path d="M409.56 114.74l3.85 6.5h-7.7z"/></g>
<g fill="#1F6F33"><rect x="374.9" y="364.12" width="5.6" height="5.6"/></g>
<g fill="#EAC435"><path d="M375.34 225.31l3.85 6.5h-7.7z"/><path d="M423.35 492.69l3.85 6.5h-7.7z"/><path d="M350.62 330.7l3.85 6.5h-7.7z"/></g>
<g fill="#3D7AC2"><circle cx="494.83" cy="211.58" r="3.1"/></g>
<g fill="#EAC435"><path d="M456.09 311.67l3.85 6.5h-7.7z"/><path d="M381.18 409.72l3.85 6.5h-7.7z"/></g>
<g fill="#3D7AC2"><circle cx="532.43" cy="353.89" r="3.1"/></g>
<g fill="#1F6F33"><rect x="185.83" y="352.75" width="5.6" height="5.6"/></g>
<g fill="#EAC435"><path d="M335.93 222.82l3.85 6.5h-7.7z"/><path d="M387.14 270.9l3.85 6.5h-7.7z"/></g>
<g fill="#1F6F33"><rect x="348.08" y="199.77" width="5.6" height="5.6"/></g>
<g fill="#EAC435"><path d="M448.6 508.09l3.85 6.5h-7.7z"/><path d="M413.21 207.61l3.85 6.5h-7.7z"/><path d="M205.8 263.64l3.85 6.5h-7.7z"/><path d="M412.12 457.57l3.85 6.5h-7.7z"/><path d="M469.23 141.65l3.85 6.5h-7.7z"/><path d="M352.89 333.68l3.85 6.5h-7.7z"/></g>
<g fill="#1F6F33"><rect x="316.9" y="297.43" width="5.6" height="5.6"/></g>
<g fill="#EAC435"><path d="M362.39 307.05l3.85 6.5h-7.7z"/></g>
<g fill="#1F6F33"><rect x="233.63" y="368.23" width="5.6" height="5.6"/></g>
<g fill="#3D7AC2"><circle cx="535.79" cy="170.51" r="3.1"/></g>
<g fill="#EAC435"><path d="M439.67 293.94l3.85 6.5h-7.7z"/></g>
<g fill="#3D7AC2"><circle cx="413.14" cy="402.69" r="3.1"/></g>
<g fill="#EAC435"><path d="M355.05 377.1l3.85 6.5h-7.7z"/></g>
<g fill="#3D7AC2"><circle cx="469.46" cy="267.37" r="3.1"/></g>
<g fill="#EAC435"><path d="M373.65 173.48l3.85 6.5h-7.7z"/><path d="M473.57 439.24l3.85 6.5h-7.7z"/></g>
<g fill="#1F6F33"><rect x="262.72" y="207.2" width="5.6" height="5.6"/></g>
<g fill="#3D7AC2"><circle cx="493.75" cy="159.37" r="3.1"/></g>
<g fill="#EAC435"><path d="M409.72 269.35l3.85 6.5h-7.7z"/><path d="M507.86 197.2l3.85 6.5h-7.7z"/></g>
<g fill="#1F6F33"><rect x="273.85" y="322.78" width="5.6" height="5.6"/></g>
<g fill="#EAC435"><path d="M367.02 202.98l3.85 6.5h-7.7z"/><path d="M413.48 320.11l3.85 6.5h-7.7z"/></g>
<g fill="#3D7AC2"><circle cx="516.28" cy="245.53" r="3.1"/></g>
<g fill="#EAC435"><path d="M431.97 179.79l3.85 6.5h-7.7z"/><path d="M412.77 325.48l3.85 6.5h-7.7z"/></g>
<g fill="#1F6F33"><rect x="301.05" y="337.99" width="5.6" height="5.6"/></g>
<g fill="#EAC435"><path d="M534.38 291.31l3.85 6.5h-7.7z"/><path d="M372.66 376.69l3.85 6.5h-7.7z"/></g>
<g fill="#3D7AC2"><circle cx="456.94" cy="338.09" r="3.1"/></g>
<g fill="#1F6F33"><rect x="242.46" y="322.19" width="5.6" height="5.6"/></g>
<g fill="#EAC435"><path d="M322.27 392.32l3.85 6.5h-7.7z"/></g>
<g fill="#1F6F33"><rect x="265.43" y="244.97" width="5.6" height="5.6"/></g>
<g fill="#3D7AC2"><circle cx="559.79" cy="297.26" r="3.1"/></g>
<g fill="#1F6F33"><rect x="266.82" y="304.02" width="5.6" height="5.6"/></g>
<g fill="#3D7AC2"><circle cx="370.02" cy="387.21" r="3.1"/></g>
<g fill="#EAC435"><path d="M420.21 265.42l3.85 6.5h-7.7z"/><path d="M467.26 339.31l3.85 6.5h-7.7z"/><path d="M385.98 261.56l3.85 6.5h-7.7z"/><path d="M419.92 319.44l3.85 6.5h-7.7z"/></g>
<g fill="#1F6F33"><rect x="344.69" y="274.06" width="5.6" height="5.6"/></g>
<g fill="#3D7AC2"><circle cx="465.65" cy="432.72" r="3.1"/></g>
<g fill="#1F6F33"><rect x="241.63" y="543.48" width="5.6" height="5.6"/></g>
<g fill="#EAC435"><path d="M377.46 424.89l3.85 6.5h-7.7z"/><path d="M396.16 132.56l3.85 6.5h-7.7z"/><path d="M448.08 360.04l3.85 6.5h-7.7z"/><path d="M481.68 499.51l3.85 6.5h-7.7z"/><path d="M334.44 307.72l3.85 6.5h-7.7z"/><path d="M415.55 354.61l3.85 6.5h-7.7z"/><path d="M326.41 160.47l3.85 6.5h-7.7z"/><path d="M399.06 315.21l3.85 6.5h-7.7z"/><path d="M332.37 340.9l3.85 6.5h-7.7z"/><path d="M495.74 385.69l3.85 6.5h-7.7z"/><path d="M364.05 202.41l3.85 6.5h-7.7z"/></g>
<g fill="#3D7AC2"><circle cx="448.47" cy="97.9" r="3.1"/></g>
<g fill="#EAC435"><path d="M472.27 402.84l3.85 6.5h-7.7z"/><path d="M427.77 283.77l3.85 6.5h-7.7z"/></g>
<g fill="#3D7AC2"><circle cx="405.01" cy="336.77" r="3.1"/><circle cx="475.35" cy="281.23" r="3.1"/></g>
<g fill="#EAC435"><path d="M435.11 379.31l3.85 6.5h-7.7z"/><path d="M382.03 385.82l3.85 6.5h-7.7z"/></g>
<g fill="#3D7AC2"><circle cx="446.95" cy="265.24" r="3.1"/></g>
<g fill="#EAC435"><path d="M487.14 342.02l3.85 6.5h-7.7z"/></g>
<g fill="#1F6F33"><rect x="297.13" y="401.19" width="5.6" height="5.6"/></g>
<g fill="#EAC435"><path d="M333.18 255.26l3.85 6.5h-7.7z"/></g>
<g fill="#3D7AC2"><circle cx="491.28" cy="228.76" r="3.1"/><circle cx="457.41" cy="389.44" r="3.1"/><circle cx="462.96" cy="259.64" r="3.1"/></g>
<g fill="#EAC435"><path d="M305.35 364.23l3.85 6.5h-7.7z"/></g>
<g fill="#1F6F33"><rect x="288.76" y="221.23" width="5.6" height="5.6"/></g>
<g fill="#EAC435"><path d="M327.05 282.95l3.85 6.5h-7.7z"/></g>
<g fill="#3D7AC2"><circle cx="502.52" cy="419.27" r="3.1"/></g>
<g fill="#EAC435"><path d="M440.56 236.79l3.85 6.5h-7.7z"/><path d="M368.64 287.16l3.85 6.5h-7.7z"/><path d="M503.08 419.92l3.85 6.5h-7.7z"/><path d="M396.84 411.19l3.85 6.5h-7.7z"/><path d="M299.17 310.18l3.85 6.5h-7.7z"/><path d="M215.67 256.12l3.85 6.5h-7.7z"/><path d="M373.55 311.84l3.85 6.5h-7.7z"/><path d="M342.14 286.51l3.85 6.5h-7.7z"/></g>
<g fill="#1F6F33"><rect x="336.26" y="390.85" width="5.6" height="5.6"/></g>
<g fill="#EAC435"><path d="M521.54 426.62l3.85 6.5h-7.7z"/></g>
<g fill="#3D7AC2"><circle cx="554.13" cy="292.73" r="3.1"/></g>
<g fill="#1F6F33"><rect x="253.29" y="308.76" width="5.6" height="5.6"/></g>
<g fill="#3D7AC2"><circle cx="533.44" cy="321.66" r="3.1"/></g>
<g fill="#1F6F33"><rect x="264.83" y="274.27" width="5.6" height="5.6"/></g>
<g fill="#EAC435"><path d="M345.85 298.28l3.85 6.5h-7.7z"/><path d="M571.1 589.04l3.85 6.5h-7.7z"/></g>
<g fill="#1F6F33"><rect x="387.25" y="375.28" width="5.6" height="5.6"/></g>
<g fill="#3D7AC2"><circle cx="423.32" cy="294.93" r="3.1"/></g>
<g fill="#EAC435"><path d="M410.53 493.76l3.85 6.5h-7.7z"/></g>
<g fill="#1F6F33"><rect x="271.63" y="304.81" width="5.6" height="5.6"/></g>
<g fill="#EAC435"><path d="M422.28 253.75l3.85 6.5h-7.7z"/><path d="M498.01 309.75l3.85 6.5h-7.7z"/><path d="M415.7 101.06l3.85 6.5h-7.7z"/><path d="M430.82 430.24l3.85 6.5h-7.7z"/><path d="M303.43 127.59l3.85 6.5h-7.7z"/><path d="M508.81 429.58l3.85 6.5h-7.7z"/></g>
<g fill="#3D7AC2"><circle cx="494.71" cy="260.48" r="3.1"/></g>
<g fill="#EAC435"><path d="M344.61 287l3.85 6.5h-7.7z"/><path d="M477.92 359.96l3.85 6.5h-7.7z"/><path d="M465.76 377.51l3.85 6.5h-7.7z"/><path d="M355.56 205.69l3.85 6.5h-7.7z"/><path d="M493.97 264.22l3.85 6.5h-7.7z"/><path d="M263.03 393.04l3.85 6.5h-7.7z"/></g>
<g fill="#1F6F33"><rect x="262.08" y="317.19" width="5.6" height="5.6"/><rect x="160.75" y="52.77" width="5.6" height="5.6"/></g>
<g fill="#3D7AC2"><circle cx="487.87" cy="472.44" r="3.1"/></g>
<g fill="#EAC435"><path d="M332.54 264.47l3.85 6.5h-7.7z"/><path d="M534.65 388.3l3.85 6.5h-7.7z"/><path d="M412.14 178.87l3.85 6.5h-7.7z"/><path d="M302.78 449.62l3.85 6.5h-7.7z"/></g>
<g fill="#1F6F33"><rect x="308.07" y="302.96" width="5.6" height="5.6"/><rect x="328.8" y="294.82" width="5.6" height="5.6"/></g>
<g fill="#EAC435"><path d="M432.57 317.23l3.85 6.5h-7.7z"/><path d="M406.62 369.12l3.85 6.5h-7.7z"/></g>
<g fill="#3D7AC2"><circle cx="493.13" cy="403.95" r="3.1"/></g>
<g fill="#1F6F33"><rect x="346.29" y="511.56" width="5.6" height="5.6"/></g>
<g fill="#EAC435"><path d="M466.73 218.62l3.85 6.5h-7.7z"/><path d="M491.31 456.78l3.85 6.5h-7.7z"/><path d="M404.13 364.8l3.85 6.5h-7.7z"/><path d="M432.9 374.65l3.85 6.5h-7.7z"/><path d="M370.95 493.2l3.85 6.5h-7.7z"/><path d="M375.05 441.43l3.85 6.5h-7.7z"/></g>
<g fill="#3D7AC2"><circle cx="447.26" cy="164.58" r="3.1"/></g>
<g fill="#1F6F33"><rect x="289.94" y="416.37" width="5.6" height="5.6"/></g>
<g fill="#EAC435"><path d="M422.43 361.06l3.85 6.5h-7.7z"/><path d="M449.43 239.18l3.85 6.5h-7.7z"/><path d="M265.9 213.55l3.85 6.5h-7.7z"/><path d="M368.14 239.3l3.85 6.5h-7.7z"/><path d="M450.87 353.11l3.85 6.5h-7.7z"/><path d="M341.4 251.45l3.85 6.5h-7.7z"/><path d="M396.26 198.42l3.85 6.5h-7.7z"/></g>
<g fill="#3D7AC2"><circle cx="482.84" cy="372.39" r="3.1"/></g>
<g fill="#1F6F33"><rect x="437.59" y="380.12" width="5.6" height="5.6"/></g>
<g fill="#EAC435"><path d="M310.11 415.1l3.85 6.5h-7.7z"/></g>
<g fill="#3D7AC2"><circle cx="528.98" cy="277.05" r="3.1"/><circle cx="503.88" cy="363.1" r="3.1"/><circle cx="543.98" cy="136.85" r="3.1"/></g>
<g fill="#1F6F33"><rect x="279.05" y="384.98" width="5.6" height="5.6"/></g>
<g fill="#3D7AC2"><circle cx="399.96" cy="135.75" r="3.1"/><circle cx="510.75" cy="238.24" r="3.1"/></g>
<g fill="#EAC435"><path d="M339.54 181.11l3.85 6.5h-7.7z"/><path d="M400.87 319.53l3.85 6.5h-7.7z"/></g>
<g fill="#1F6F33"><rect x="412.32" y="441.58" width="5.6" height="5.6"/></g>
<g fill="#3D7AC2"><circle cx="438.54" cy="316.9" r="3.1"/></g>
<g fill="#EAC435"><path d="M269.08 165.78l3.85 6.5h-7.7z"/></g>
<g fill="#3D7AC2"><circle cx="497.25" cy="201.14" r="3.1"/></g>
<g fill="#1F6F33"><rect x="313.58" y="579.83" width="5.6" height="5.6"/></g>
<g fill="#EAC435"><path d="M464.75 224.33l3.85 6.5h-7.7z"/></g>
<g fill="#3D7AC2"><circle cx="399.53" cy="164.61" r="3.1"/><circle cx="534.49" cy="327.48" r="3.1"/><circle cx="560.06" cy="232.29" r="3.1"/></g>
<g fill="#EAC435"><path d="M515.26 476.07l3.85 6.5h-7.7z"/></g>
<g fill="#3D7AC2"><circle cx="377.04" cy="185.24" r="3.1"/></g>
<g fill="#1F6F33"><rect x="374.75" y="243.68" width="5.6" height="5.6"/></g>
<g fill="#EAC435"><path d="M432.33 162.83l3.85 6.5h-7.7z"/><path d="M428.76 413.24l3.85 6.5h-7.7z"/><path d="M507.01 554.98l3.85 6.5h-7.7z"/></g>
<g fill="#3D7AC2"><circle cx="490.65" cy="70.44" r="3.1"/><circle cx="520.13" cy="303" r="3.1"/></g>
<g fill="#EAC435"><path d="M396.3 169.14l3.85 6.5h-7.7z"/><path d="M421.13 498.95l3.85 6.5h-7.7z"/><path d="M529.06 447.99l3.85 6.5h-7.7z"/></g>
<g fill="#1F6F33"><rect x="193.12" y="355.04" width="5.6" height="5.6"/></g>
<g fill="#3D7AC2"><circle cx="509.31" cy="260.35" r="3.1"/><circle cx="462.46" cy="173.47" r="3.1"/></g>
<g fill="#1F6F33"><rect x="363.51" y="389.27" width="5.6" height="5.6"/><rect x="238.55" y="243.55" width="5.6" height="5.6"/></g>
<g fill="#3D7AC2"><circle cx="533.74" cy="332.78" r="3.1"/></g>
<g fill="#EAC435"><path d="M427.53 322.4l3.85 6.5h-7.7z"/><path d="M428.98 333.2l3.85 6.5h-7.7z"/></g>
<g fill="#3D7AC2"><circle cx="473.98" cy="324.66" r="3.1"/></g>
<g fill="#EAC435"><path d="M385.63 407.37l3.85 6.5h-7.7z"/></g>
<g fill="#3D7AC2"><circle cx="405.92" cy="472.98" r="3.1"/><circle cx="488.92" cy="168.01" r="3.1"/></g>
<g fill="#EAC435"><path d="M419.46 377.8l3.85 6.5h-7.7z"/><path d="M407.62 446.95l3.85 6.5h-7.7z"/><path d="M331.38 361.68l3.85 6.5h-7.7z"/><path d="M479.76 184.73l3.85 6.5h-7.7z"/></g>
<g fill="#3D7AC2"><circle cx="404.24" cy="314.83" r="3.1"/></g>
<g fill="#EAC435"><path d="M396.61 384l3.85 6.5h-7.7z"/><path d="M308.86 243.59l3.85 6.5h-7.7z"/></g>
<g fill="#3D7AC2"><circle cx="601.57" cy="405.82" r="3.1"/></g>
<g fill="#EAC435"><path d="M397.57 369.77l3.85 6.5h-7.7z"/></g>
<g fill="#3D7AC2"><circle cx="493.94" cy="381.76" r="3.1"/><circle cx="454.35" cy="298.63" r="3.1"/></g>
<g fill="#EAC435"><path d="M365.64 278.72l3.85 6.5h-7.7z"/><path d="M379.57 368.65l3.85 6.5h-7.7z"/><path d="M422 380.38l3.85 6.5h-7.7z"/><path d="M570.86 290.06l3.85 6.5h-7.7z"/><path d="M404.59 302.72l3.85 6.5h-7.7z"/><path d="M424.79 321.28l3.85 6.5h-7.7z"/><path d="M593.95 351.75l3.85 6.5h-7.7z"/><path d="M272.92 96.77l3.85 6.5h-7.7z"/><path d="M342.16 323.42l3.85 6.5h-7.7z"/><path d="M471.96 410.16l3.85 6.5h-7.7z"/><path d="M395.74 391.38l3.85 6.5h-7.7z"/></g>
<g fill="#3D7AC2"><circle cx="492.3" cy="291.25" r="3.1"/></g>
<g fill="#EAC435"><path d="M389.43 590.41l3.85 6.5h-7.7z"/><path d="M485.86 288.25l3.85 6.5h-7.7z"/><path d="M352.46 149.63l3.85 6.5h-7.7z"/><path d="M417.66 253.88l3.85 6.5h-7.7z"/></g>
<g fill="#1F6F33"><rect x="346.92" y="236.7" width="5.6" height="5.6"/></g>
<g fill="#EAC435"><path d="M532.56 269.27l3.85 6.5h-7.7z"/><path d="M416.89 457.54l3.85 6.5h-7.7z"/><path d="M337.22 602.73l3.85 6.5h-7.7z"/><path d="M293.85 112.44l3.85 6.5h-7.7z"/></g>
<g fill="#3D7AC2"><circle cx="456.69" cy="390.34" r="3.1"/></g>
<g fill="#EAC435"><path d="M492.57 344.81l3.85 6.5h-7.7z"/><path d="M276.45 344.28l3.85 6.5h-7.7z"/></g>
<g fill="#1F6F33"><rect x="121.09" y="223.98" width="5.6" height="5.6"/></g>
<g fill="#EAC435"><path d="M513.72 367.63l3.85 6.5h-7.7z"/></g>
<g fill="#3D7AC2"><circle cx="443.55" cy="479.12" r="3.1"/></g>
<g fill="#EAC435"><path d="M374.14 266.66l3.85 6.5h-7.7z"/><path d="M374 341.05l3.85 6.5h-7.7z"/><path d="M432.74 483.64l3.85 6.5h-7.7z"/></g>
<g fill="#1F6F33"><rect x="351.17" y="168.73" width="5.6" height="5.6"/></g>
<g fill="#3D7AC2"><circle cx="587.9" cy="308.32" r="3.1"/><circle cx="514.53" cy="449.95" r="3.1"/></g>
<g fill="#EAC435"><path d="M477.5 216.29l3.85 6.5h-7.7z"/></g>
<g fill="#3D7AC2"><circle cx="464.96" cy="380.12" r="3.1"/></g>
<g fill="#EAC435"><path d="M528.54 403.43l3.85 6.5h-7.7z"/><path d="M382.15 417.8l3.85 6.5h-7.7z"/></g>
<g fill="#1F6F33"><rect x="254.03" y="209.36" width="5.6" height="5.6"/><rect x="282.6" y="356.75" width="5.6" height="5.6"/></g>
<g fill="#3D7AC2"><circle cx="501.62" cy="336.95" r="3.1"/></g>
<g fill="#1F6F33"><rect x="225.36" y="197.86" width="5.6" height="5.6"/><rect x="195.02" y="205.98" width="5.6" height="5.6"/></g>
<g fill="#EAC435"><path d="M457.6 438.33l3.85 6.5h-7.7z"/></g>
<g fill="#1F6F33"><rect x="448.42" y="169.63" width="5.6" height="5.6"/></g>
<g fill="#3D7AC2"><circle cx="396.68" cy="251.14" r="3.1"/><circle cx="572.89" cy="381.4" r="3.1"/></g>
<g fill="#EAC435"><path d="M440.23 307.3l3.85 6.5h-7.7z"/><path d="M418.82 406.7l3.85 6.5h-7.7z"/><path d="M348.61 271.23l3.85 6.5h-7.7z"/><path d="M544.27 345.39l3.85 6.5h-7.7z"/><path d="M462.17 367.37l3.85 6.5h-7.7z"/><path d="M446.19 201.92l3.85 6.5h-7.7z"/></g>
<g fill="#3D7AC2"><circle cx="427.07" cy="228.29" r="3.1"/></g>
<g fill="#EAC435"><path d="M387.07 377.07l3.85 6.5h-7.7z"/></g>
<g fill="#1F6F33"><rect x="242.5" y="408.57" width="5.6" height="5.6"/></g>
<g fill="#3D7AC2"><circle cx="414.96" cy="223.02" r="3.1"/></g>
<g fill="#1F6F33"><rect x="120.42" y="162.35" width="5.6" height="5.6"/></g>
<g fill="#3D7AC2"><circle cx="469.33" cy="190.05" r="3.1"/></g>
<g fill="#EAC435"><path d="M426.19 464.29l3.85 6.5h-7.7z"/></g>
<g fill="#3D7AC2"><circle cx="529" cy="280.75" r="3.1"/><circle cx="446.8" cy="335.87" r="3.1"/></g>
<g fill="#EAC435"><path d="M422.85 291.02l3.85 6.5h-7.7z"/><path d="M472.82 285.48l3.85 6.5h-7.7z"/><path d="M543.99 540.87l3.85 6.5h-7.7z"/><path d="M241.54 503.31l3.85 6.5h-7.7z"/><path d="M454.41 406.64l3.85 6.5h-7.7z"/><path d="M472.94 461.27l3.85 6.5h-7.7z"/></g>
<g fill="#1F6F33"><rect x="274.3" y="378.11" width="5.6" height="5.6"/></g>
<g fill="#EAC435"><path d="M481.71 452.81l3.85 6.5h-7.7z"/><path d="M540.95 355.22l3.85 6.5h-7.7z"/><path d="M474.96 313.68l3.85 6.5h-7.7z"/></g>
<g fill="#3D7AC2"><circle cx="474.06" cy="316.65" r="3.1"/></g>
<g fill="#1F6F33"><rect x="323.17" y="303.8" width="5.6" height="5.6"/></g>
<g fill="#EAC435"><path d="M385.75 452.54l3.85 6.5h-7.7z"/><path d="M419.69 372.95l3.85 6.5h-7.7z"/><path d="M363.38 491.21l3.85 6.5h-7.7z"/></g>
<g fill="#1F6F33"><rect x="404.58" y="147.46" width="5.6" height="5.6"/></g>
<g fill="#3D7AC2"><circle cx="571.32" cy="198.3" r="3.1"/></g>
<g fill="#EAC435"><path d="M280.47 378.44l3.85 6.5h-7.7z"/><path d="M477.04 218.12l3.85 6.5h-7.7z"/></g>
<g fill="#3D7AC2"><circle cx="580.96" cy="326.72" r="3.1"/></g>
<g fill="#EAC435"><path d="M423.09 390.63l3.85 6.5h-7.7z"/><path d="M404.71 337.63l3.85 6.5h-7.7z"/></g>
<g fill="#3D7AC2"><circle cx="444.37" cy="240.71" r="3.1"/></g>
<g fill="#EAC435"><path d="M407.06 499.89l3.85 6.5h-7.7z"/><path d="M399.97 568.67l3.85 6.5h-7.7z"/><path d="M352.78 365.29l3.85 6.5h-7.7z"/><path d="M373.71 288.41l3.85 6.5h-7.7z"/><path d="M476.7 178.59l3.85 6.5h-7.7z"/><path d="M378.6 376.94l3.85 6.5h-7.7z"/><path d="M447.4 108.24l3.85 6.5h-7.7z"/></g>
<g fill="#3D7AC2"><circle cx="540.45" cy="276.89" r="3.1"/></g>
<g fill="#EAC435"><path d="M411.52 342.46l3.85 6.5h-7.7z"/><path d="M329.74 276.61l3.85 6.5h-7.7z"/><path d="M317.12 273.4l3.85 6.5h-7.7z"/></g>
<g fill="#3D7AC2"><circle cx="460.69" cy="131.01" r="3.1"/></g>
<g fill="#EAC435"><path d="M475.42 550.72l3.85 6.5h-7.7z"/><path d="M421.07 374.26l3.85 6.5h-7.7z"/></g>
<g fill="#3D7AC2"><circle cx="402.6" cy="378.64" r="3.1"/></g>
<g fill="#EAC435"><path d="M367.03 291.72l3.85 6.5h-7.7z"/></g>
<g fill="#1F6F33"><rect x="325.48" y="513.25" width="5.6" height="5.6"/></g>
<g fill="#EAC435"><path d="M317.83 393.34l3.85 6.5h-7.7z"/></g>
<g fill="#1F6F33"><rect x="321.36" y="246.22" width="5.6" height="5.6"/></g>
<g fill="#EAC435"><path d="M393.38 280.16l3.85 6.5h-7.7z"/></g>
<g fill="#1F6F33"><rect x="292.19" y="395.22" width="5.6" height="5.6"/></g>
<g fill="#3D7AC2"><circle cx="510.07" cy="412.92" r="3.1"/></g>
<g fill="#1F6F33"><rect x="264.48" y="253.17" width="5.6" height="5.6"/></g>
<g fill="#3D7AC2"><circle cx="468.71" cy="357.14" r="3.1"/></g>
<g fill="#EAC435"><path d="M513.2 391.53l3.85 6.5h-7.7z"/><path d="M386.23 464.33l3.85 6.5h-7.7z"/><path d="M359.3 306.33l3.85 6.5h-7.7z"/><path d="M467.96 124.38l3.85 6.5h-7.7z"/></g>
<g fill="#3D7AC2"><circle cx="506.98" cy="495.21" r="3.1"/></g>
<g fill="#1F6F33"><rect x="467.7" y="374.73" width="5.6" height="5.6"/></g>
<g fill="#EAC435"><path d="M514.55 197.26l3.85 6.5h-7.7z"/><path d="M477.03 297.45l3.85 6.5h-7.7z"/><path d="M368.75 214.52l3.85 6.5h-7.7z"/><path d="M511.81 385.73l3.85 6.5h-7.7z"/></g>
<g fill="#3D7AC2"><circle cx="526.24" cy="223.2" r="3.1"/></g>
<g fill="#EAC435"><path d="M373.54 258.03l3.85 6.5h-7.7z"/><path d="M487.53 269.74l3.85 6.5h-7.7z"/><path d="M424.11 235.19l3.85 6.5h-7.7z"/><path d="M520.68 575.15l3.85 6.5h-7.7z"/></g>
<g fill="#1F6F33"><rect x="255.66" y="230.97" width="5.6" height="5.6"/></g>
<g fill="#EAC435"><path d="M545.06 364.36l3.85 6.5h-7.7z"/><path d="M462.5 292.56l3.85 6.5h-7.7z"/></g>
<g fill="#1F6F33"><rect x="284.78" y="325.28" width="5.6" height="5.6"/></g>
<g fill="#EAC435"><path d="M425.28 224.94l3.85 6.5h-7.7z"/><path d="M471.94 463.5l3.85 6.5h-7.7z"/><path d="M345.69 262.39l3.85 6.5h-7.7z"/><path d="M393.92 286.04l3.85 6.5h-7.7z"/></g>
<g fill="#3D7AC2"><circle cx="446.22" cy="115.6" r="3.1"/></g>
<g fill="#1F6F33"><rect x="332.98" y="271.45" width="5.6" height="5.6"/><rect x="233.96" y="476.01" width="5.6" height="5.6"/></g>
<g fill="#3D7AC2"><circle cx="441.97" cy="329.79" r="3.1"/></g>
<g fill="#EAC435"><path d="M368.29 286.93l3.85 6.5h-7.7z"/><path d="M512.36 518.02l3.85 6.5h-7.7z"/></g>
<g fill="#3D7AC2"><circle cx="456.6" cy="111.47" r="3.1"/><circle cx="504.2" cy="264.67" r="3.1"/></g>
<g fill="#1F6F33"><rect x="270.02" y="345.88" width="5.6" height="5.6"/></g>
<g fill="#EAC435"><path d="M383.47 394.48l3.85 6.5h-7.7z"/><path d="M373.18 429.18l3.85 6.5h-7.7z"/></g>
<g fill="#1F6F33"><rect x="276.67" y="230.4" width="5.6" height="5.6"/></g>
<g fill="#3D7AC2"><circle cx="419.45" cy="312.58" r="3.1"/><circle cx="457.98" cy="280.32" r="3.1"/></g>
<g fill="#EAC435"><path d="M451.01 158.28l3.85 6.5h-7.7z"/></g>
<g fill="#1F6F33"><rect x="325.05" y="528.47" width="5.6" height="5.6"/></g>
<g fill="#3D7AC2"><circle cx="441.21" cy="385.92" r="3.1"/></g>
<g fill="#EAC435"><path d="M481.28 389.58l3.85 6.5h-7.7z"/><path d="M273.9 391.2l3.85 6.5h-7.7z"/><path d="M436.93 487.08l3.85 6.5h-7.7z"/></g>
<g fill="#3D7AC2"><circle cx="562.23" cy="291.99" r="3.1"/><circle cx="510.99" cy="476.54" r="3.1"/></g>
<g fill="#1F6F33"><rect x="230.27" y="394.09" width="5.6" height="5.6"/></g>
<g fill="#EAC435"><path d="M402.55 398.12l3.85 6.5h-7.7z"/><path d="M442.83 404.45l3.85 6.5h-7.7z"/><path d="M321.43 398l3.85 6.5h-7.7z"/></g>
<g fill="#3D7AC2"><circle cx="435.44" cy="372.64" r="3.1"/></g>
<g fill="#EAC435"><path d="M342.95 346.33l3.85 6.5h-7.7z"/><path d="M366.8 522.47l3.85 6.5h-7.7z"/></g>
<g fill="#1F6F33"><rect x="256.33" y="480.94" width="5.6" height="5.6"/></g>
<g fill="#3D7AC2"><circle cx="542.19" cy="493.21" r="3.1"/></g>
<g fill="#1F6F33"><rect x="348.64" y="190.35" width="5.6" height="5.6"/><rect x="190.33" y="264.08" width="5.6" height="5.6"/></g>
<g fill="#EAC435"><path d="M354.18 423.84l3.85 6.5h-7.7z"/></g>
<g fill="#1F6F33"><rect x="224.44" y="182.8" width="5.6" height="5.6"/></g>
<g fill="#EAC435"><path d="M438.31 257.16l3.85 6.5h-7.7z"/></g>
<g fill="#3D7AC2"><circle cx="471.7" cy="306.4" r="3.1"/></g>
<g fill="#EAC435"><path d="M413.52 208.9l3.85 6.5h-7.7z"/><path d="M338.48 225.11l3.85 6.5h-7.7z"/></g>
<g fill="#1F6F33"><rect x="220.17" y="434.79" width="5.6" height="5.6"/></g>
<g fill="#EAC435"><path d="M363.12 196.94l3.85 6.5h-7.7z"/></g>
<g fill="#1F6F33"><rect x="182.24" y="344.49" width="5.6" height="5.6"/></g>
<g fill="#EAC435"><path d="M398.13 225.39l3.85 6.5h-7.7z"/></g>
<g fill="#1F6F33"><rect x="180.47" y="56.36" width="5.6" height="5.6"/><rect x="270.34" y="244.77" width="5.6" height="5.6"/><rect x="270.96" y="231.54" width="5.6" height="5.6"/></g>
<g fill="#EAC435"><path d="M260.22 441.21l3.85 6.5h-7.7z"/><path d="M442.95 278.15l3.85 6.5h-7.7z"/><path d="M414.94 216.91l3.85 6.5h-7.7z"/></g>
<g fill="#1F6F33"><rect x="194.37" y="415.41" width="5.6" height="5.6"/></g>
<g fill="#EAC435"><path d="M277.7 247.09l3.85 6.5h-7.7z"/><path d="M333.2 486.2l3.85 6.5h-7.7z"/><path d="M357.2 369.36l3.85 6.5h-7.7z"/><path d="M472.01 437.59l3.85 6.5h-7.7z"/><path d="M440.99 501.39l3.85 6.5h-7.7z"/><path d="M528.9 337.03l3.85 6.5h-7.7z"/><path d="M504.82 474.27l3.85 6.5h-7.7z"/><path d="M383.41 370.84l3.85 6.5h-7.7z"/><path d="M505.57 330.56l3.85 6.5h-7.7z"/></g>
<g fill="#3D7AC2"><circle cx="398.62" cy="38.1" r="3.1"/></g>
<g fill="#1F6F33"><rect x="271.93" y="387.31" width="5.6" height="5.6"/></g>
<g fill="#EAC435"><path d="M407.55 333.42l3.85 6.5h-7.7z"/><path d="M394.97 284.61l3.85 6.5h-7.7z"/></g>
<g fill="#3D7AC2"><circle cx="499.76" cy="470.76" r="3.1"/></g>
<g fill="#1F6F33"><rect x="261.24" y="139.42" width="5.6" height="5.6"/></g>
<g fill="#EAC435"><path d="M473.77 374.8l3.85 6.5h-7.7z"/><path d="M364.6 344.81l3.85 6.5h-7.7z"/></g>
<g fill="#3D7AC2"><circle cx="464.57" cy="435.77" r="3.1"/></g>
<g fill="#EAC435"><path d="M370.35 349.32l3.85 6.5h-7.7z"/></g>
<g fill="#1F6F33"><rect x="307.87" y="417.35" width="5.6" height="5.6"/></g>
<g fill="#3D7AC2"><circle cx="506.16" cy="292.79" r="3.1"/><circle cx="524.15" cy="456.44" r="3.1"/><circle cx="489.55" cy="240.3" r="3.1"/></g>
<g fill="#EAC435"><path d="M470.39 374.77l3.85 6.5h-7.7z"/><path d="M338.03 350.71l3.85 6.5h-7.7z"/><path d="M304.73 75.23l3.85 6.5h-7.7z"/><path d="M433.1 254.81l3.85 6.5h-7.7z"/></g>
<g fill="#3D7AC2"><circle cx="465.24" cy="188.96" r="3.1"/></g>
<g fill="#1F6F33"><rect x="251.41" y="321.84" width="5.6" height="5.6"/></g>
<g fill="#EAC435"><path d="M413.74 238.83l3.85 6.5h-7.7z"/></g>
<g fill="#1F6F33"><rect x="292.83" y="401.86" width="5.6" height="5.6"/></g>
<g fill="#EAC435"><path d="M375.74 447.37l3.85 6.5h-7.7z"/><path d="M374.88 472.02l3.85 6.5h-7.7z"/></g>
<g fill="#1F6F33"><rect x="339.2" y="314.77" width="5.6" height="5.6"/></g>
<g fill="#EAC435"><path d="M363.01 132.96l3.85 6.5h-7.7z"/><path d="M473.7 297.34l3.85 6.5h-7.7z"/></g>
<g fill="#1F6F33"><rect x="324.25" y="210.26" width="5.6" height="5.6"/></g>
<g fill="#3D7AC2"><circle cx="396.51" cy="265.48" r="3.1"/></g>
<g fill="#EAC435"><path d="M519.33 288.14l3.85 6.5h-7.7z"/></g>
<g fill="#3D7AC2"><circle cx="468.92" cy="286.15" r="3.1"/></g>
<g fill="#1F6F33"><rect x="380.77" y="343.1" width="5.6" height="5.6"/></g>
<g fill="#EAC435"><path d="M442.13 398.76l3.85 6.5h-7.7z"/><path d="M562.36 455.27l3.85 6.5h-7.7z"/></g>
<g fill="#3D7AC2"><circle cx="475.74" cy="241.71" r="3.1"/></g>
<g fill="#EAC435"><path d="M538.4 155.79l3.85 6.5h-7.7z"/></g>
<g fill="#3D7AC2"><circle cx="434.04" cy="193.69" r="3.1"/><circle cx="585.66" cy="439.21" r="3.1"/></g>
<g fill="#EAC435"><path d="M349.82 268.19l3.85 6.5h-7.7z"/><path d="M454.05 267.17l3.85 6.5h-7.7z"/></g>
<g fill="#3D7AC2"><circle cx="430.33" cy="371.06" r="3.1"/><circle cx="476.22" cy="224.24" r="3.1"/><circle cx="440.76" cy="109.97" r="3.1"/></g>
<g fill="#1F6F33"><rect x="320.4" y="288.8" width="5.6" height="5.6"/><rect x="292.15" y="356.14" width="5.6" height="5.6"/></g>
<g fill="#EAC435"><path d="M428.32 459.56l3.85 6.5h-7.7z"/></g>
<g fill="#3D7AC2"><circle cx="470.31" cy="168.58" r="3.1"/></g>
<g fill="#EAC435"><path d="M405.51 359.94l3.85 6.5h-7.7z"/></g>
<g fill="#1F6F33"><rect x="206.38" y="435.18" width="5.6" height="5.6"/></g>
<g fill="#EAC435"><path d="M291.69 391.3l3.85 6.5h-7.7z"/><path d="M373.52 312.46l3.85 6.5h-7.7z"/><path d="M450.38 413.58l3.85 6.5h-7.7z"/></g>
<g fill="#3D7AC2"><circle cx="532.4" cy="343.32" r="3.1"/></g>
<g fill="#1F6F33"><rect x="255.56" y="278.57" width="5.6" height="5.6"/></g>
<g fill="#EAC435"><path d="M306.97 86.21l3.85 6.5h-7.7z"/></g>
<g fill="#1F6F33"><rect x="245.51" y="460.82" width="5.6" height="5.6"/></g>
<g fill="#EAC435"><path d="M496.03 556.1l3.85 6.5h-7.7z"/><path d="M394.37 336.26l3.85 6.5h-7.7z"/><path d="M405.91 439.96l3.85 6.5h-7.7z"/><path d="M337.4 464.98l3.85 6.5h-7.7z"/><path d="M404.58 398.22l3.85 6.5h-7.7z"/><path d="M419.42 106.54l3.85 6.5h-7.7z"/><path d="M355.54 291.6l3.85 6.5h-7.7z"/></g>
<g fill="#1F6F33"><rect x="222.34" y="199.68" width="5.6" height="5.6"/></g>
<g fill="#EAC435"><path d="M245.7 103.1l3.85 6.5h-7.7z"/><path d="M461.3 212.41l3.85 6.5h-7.7z"/><path d="M489.94 162.7l3.85 6.5h-7.7z"/><path d="M454.41 398.7l3.85 6.5h-7.7z"/></g>
<g fill="#3D7AC2"><circle cx="560.61" cy="335.6" r="3.1"/><circle cx="508.01" cy="316.98" r="3.1"/></g>
<g fill="#1F6F33"><rect x="338.69" y="278.67" width="5.6" height="5.6"/></g>
<g fill="#EAC435"><path d="M390.76 434.86l3.85 6.5h-7.7z"/><path d="M394.78 290.13l3.85 6.5h-7.7z"/></g>
<g fill="#3D7AC2"><circle cx="506.31" cy="311.17" r="3.1"/></g>
<g fill="#EAC435"><path d="M371.8 376.31l3.85 6.5h-7.7z"/><path d="M346.38 184.62l3.85 6.5h-7.7z"/><path d="M422.51 419.5l3.85 6.5h-7.7z"/></g>
<g fill="#1F6F33"><rect x="250.12" y="482.07" width="5.6" height="5.6"/></g>
<g fill="#EAC435"><path d="M406.58 430.66l3.85 6.5h-7.7z"/><path d="M361.08 425.75l3.85 6.5h-7.7z"/></g>
<g fill="#3D7AC2"><circle cx="434.4" cy="217.63" r="3.1"/><circle cx="602.47" cy="386.1" r="3.1"/></g>
<g fill="#EAC435"><path d="M435.46 372.18l3.85 6.5h-7.7z"/></g>
<g fill="#3D7AC2"><circle cx="497.32" cy="290.54" r="3.1"/><circle cx="492.25" cy="312.07" r="3.1"/></g>
<g fill="#EAC435"><path d="M359.75 367.38l3.85 6.5h-7.7z"/><path d="M375.53 378.82l3.85 6.5h-7.7z"/><path d="M386.63 265.98l3.85 6.5h-7.7z"/><path d="M275.89 305.24l3.85 6.5h-7.7z"/><path d="M466.41 360.83l3.85 6.5h-7.7z"/><path d="M426.62 262.32l3.85 6.5h-7.7z"/><path d="M374.36 320.22l3.85 6.5h-7.7z"/></g>
<g fill="#3D7AC2"><circle cx="409.04" cy="327.52" r="3.1"/></g>
<g fill="#1F6F33"><rect x="304.62" y="552.7" width="5.6" height="5.6"/></g>
<g fill="#EAC435"><path d="M483.39 413.57l3.85 6.5h-7.7z"/></g>
<g fill="#1F6F33"><rect x="289.1" y="245.15" width="5.6" height="5.6"/></g>
<g fill="#3D7AC2"><circle cx="512.63" cy="75.16" r="3.1"/></g>
<g fill="#EAC435"><path d="M382.13 395.22l3.85 6.5h-7.7z"/><path d="M355.93 270.24l3.85 6.5h-7.7z"/></g>
<g fill="#1F6F33"><rect x="233.83" y="222.33" width="5.6" height="5.6"/></g>
<g fill="#EAC435"><path d="M470.57 369.97l3.85 6.5h-7.7z"/><path d="M238.75 339.23l3.85 6.5h-7.7z"/></g>
<g fill="#3D7AC2"><circle cx="369.39" cy="325.89" r="3.1"/></g>
<g fill="#EAC435"><path d="M507.89 228.36l3.85 6.5h-7.7z"/><path d="M420.97 421.1l3.85 6.5h-7.7z"/><path d="M345.32 171.77l3.85 6.5h-7.7z"/></g>
<g fill="#3D7AC2"><circle cx="420.52" cy="125.82" r="3.1"/></g>
<g fill="#1F6F33"><rect x="203.28" y="224.81" width="5.6" height="5.6"/></g>
<g fill="#3D7AC2"><circle cx="495.84" cy="257.83" r="3.1"/></g>
<g fill="#1F6F33"><rect x="237.61" y="222.72" width="5.6" height="5.6"/></g>
<g fill="#EAC435"><path d="M406.5 274.36l3.85 6.5h-7.7z"/><path d="M471.41 303.85l3.85 6.5h-7.7z"/><path d="M304.45 296.59l3.85 6.5h-7.7z"/></g>
<g fill="#3D7AC2"><circle cx="404.98" cy="224.48" r="3.1"/></g>
<g fill="#EAC435"><path d="M442.61 305.21l3.85 6.5h-7.7z"/><path d="M534.57 89.56l3.85 6.5h-7.7z"/><path d="M365.68 572.93l3.85 6.5h-7.7z"/><path d="M358.43 303.61l3.85 6.5h-7.7z"/></g>
<g fill="#3D7AC2"><circle cx="539.06" cy="69.24" r="3.1"/></g>
<g fill="#EAC435"><path d="M508.98 429.27l3.85 6.5h-7.7z"/><path d="M320.72 171.91l3.85 6.5h-7.7z"/><path d="M351.63 505.4l3.85 6.5h-7.7z"/><path d="M360.65 332.84l3.85 6.5h-7.7z"/><path d="M398.08 330.1l3.85 6.5h-7.7z"/></g>
<g fill="#3D7AC2"><circle cx="455.51" cy="128.67" r="3.1"/><circle cx="491.26" cy="194.58" r="3.1"/></g>
<g fill="#EAC435"><path d="M284.45 317.91l3.85 6.5h-7.7z"/><path d="M449.78 297.59l3.85 6.5h-7.7z"/><path d="M511.76 344.01l3.85 6.5h-7.7z"/></g>
<g fill="#1F6F33"><rect x="236.55" y="217.15" width="5.6" height="5.6"/></g>
<g fill="#3D7AC2"><circle cx="398.62" cy="78.43" r="3.1"/></g>
<g fill="#EAC435"><path d="M392.2 304.48l3.85 6.5h-7.7z"/><path d="M443.38 199.06l3.85 6.5h-7.7z"/><path d="M374.16 274.51l3.85 6.5h-7.7z"/><path d="M530.15 409.08l3.85 6.5h-7.7z"/><path d="M304.26 201.25l3.85 6.5h-7.7z"/><path d="M276.32 471.94l3.85 6.5h-7.7z"/><path d="M314.16 479.49l3.85 6.5h-7.7z"/><path d="M321.86 270.72l3.85 6.5h-7.7z"/><path d="M412.17 424.44l3.85 6.5h-7.7z"/><path d="M424.16 471.19l3.85 6.5h-7.7z"/><path d="M452.06 449.74l3.85 6.5h-7.7z"/><path d="M345.07 397.19l3.85 6.5h-7.7z"/><path d="M376.56 411.6l3.85 6.5h-7.7z"/><path d="M300.68 210.06l3.85 6.5h-7.7z"/></g>
<g fill="#3D7AC2"><circle cx="402.13" cy="344.84" r="3.1"/></g>
<g fill="#EAC435"><path d="M359.3 282.1l3.85 6.5h-7.7z"/></g>
<g fill="#3D7AC2"><circle cx="443.42" cy="174.88" r="3.1"/></g>
<g fill="#EAC435"><path d="M483.96 209.16l3.85 6.5h-7.7z"/><path d="M405.9 273.89l3.85 6.5h-7.7z"/><path d="M438.05 483.8l3.85 6.5h-7.7z"/></g>
<g fill="#1F6F33"><rect x="368.45" y="359.37" width="5.6" height="5.6"/></g>
<g fill="#EAC435"><path d="M408.31 261.81l3.85 6.5h-7.7z"/><path d="M304.87 376.41l3.85 6.5h-7.7z"/><path d="M473.04 315.49l3.85 6.5h-7.7z"/><path d="M368.69 331.62l3.85 6.5h-7.7z"/></g>
<g fill="#1F6F33"><rect x="394.09" y="518.41" width="5.6" height="5.6"/></g>
<g fill="#EAC435"><path d="M457.4 428.71l3.85 6.5h-7.7z"/></g>
<g fill="#1F6F33"><rect x="330.59" y="222.48" width="5.6" height="5.6"/><rect x="355.73" y="350.77" width="5.6" height="5.6"/><rect x="275.34" y="244.1" width="5.6" height="5.6"/></g>
<g fill="#EAC435"><path d="M327.66 293.53l3.85 6.5h-7.7z"/><path d="M269.32 149.67l3.85 6.5h-7.7z"/><path d="M510.98 379.62l3.85 6.5h-7.7z"/></g>
<g fill="#1F6F33"><rect x="238.85" y="329.33" width="5.6" height="5.6"/></g>
<g fill="#EAC435"><path d="M419.51 325.1l3.85 6.5h-7.7z"/><path d="M349.97 315.08l3.85 6.5h-7.7z"/></g>
<g fill="#3D7AC2"><circle cx="482.49" cy="131.64" r="3.1"/><circle cx="529.97" cy="233.83" r="3.1"/></g>
<g fill="#1F6F33"><rect x="332.32" y="245.96" width="5.6" height="5.6"/></g>
<g fill="#EAC435"><path d="M405.31 121.87l3.85 6.5h-7.7z"/><path d="M520.84 260.6l3.85 6.5h-7.7z"/></g>
<g fill="#1F6F33"><rect x="305.32" y="379.8" width="5.6" height="5.6"/></g>
<g fill="#EAC435"><path d="M387.53 151.85l3.85 6.5h-7.7z"/></g>
<g fill="#3D7AC2"><circle cx="525.33" cy="246.66" r="3.1"/></g>
<g fill="#EAC435"><path d="M422.48 177.5l3.85 6.5h-7.7z"/><path d="M519.67 264.88l3.85 6.5h-7.7z"/><path d="M470.08 247.4l3.85 6.5h-7.7z"/></g>
<g fill="#1F6F33"><rect x="341.19" y="460.23" width="5.6" height="5.6"/></g>
<g fill="#3D7AC2"><circle cx="521.35" cy="516.73" r="3.1"/></g>
<g fill="#EAC435"><path d="M386.8 492.48l3.85 6.5h-7.7z"/></g>
<g fill="#1F6F33"><rect x="355.33" y="330.88" width="5.6" height="5.6"/><rect x="365.05" y="288.22" width="5.6" height="5.6"/></g>
<g fill="#EAC435"><path d="M439.53 463.89l3.85 6.5h-7.7z"/></g>
<g fill="#3D7AC2"><circle cx="512.32" cy="257.42" r="3.1"/><circle cx="495.97" cy="420.08" r="3.1"/></g>
<g fill="#EAC435"><path d="M453.04 222.62l3.85 6.5h-7.7z"/></g>
<g fill="#3D7AC2"><circle cx="455.84" cy="247.74" r="3.1"/></g>
<g fill="#EAC435"><path d="M431.02 335.89l3.85 6.5h-7.7z"/></g>
<g fill="#3D7AC2"><circle cx="425.91" cy="274.75" r="3.1"/></g>
<g fill="#EAC435"><path d="M453.95 441.28l3.85 6.5h-7.7z"/></g>
<g fill="#3D7AC2"><circle cx="570.87" cy="410.52" r="3.1"/></g>
<g fill="#1F6F33"><rect x="329.04" y="603.81" width="5.6" height="5.6"/></g>
<g fill="#3D7AC2"><circle cx="508.93" cy="214.46" r="3.1"/><circle cx="441.76" cy="365.85" r="3.1"/></g>
<g fill="#EAC435"><path d="M464.32 501.83l3.85 6.5h-7.7z"/><path d="M467.41 371.3l3.85 6.5h-7.7z"/></g>
<g fill="#3D7AC2"><circle cx="500.79" cy="334.36" r="3.1"/></g>
<g fill="#1F6F33"><rect x="237.85" y="365.37" width="5.6" height="5.6"/></g>
<g fill="#3D7AC2"><circle cx="436.96" cy="297.25" r="3.1"/></g>
<g fill="#EAC435"><path d="M337 369.83l3.85 6.5h-7.7z"/><path d="M437.53 217.9l3.85 6.5h-7.7z"/><path d="M376.36 352.27l3.85 6.5h-7.7z"/></g>
<g fill="#1F6F33"><rect x="188.41" y="271.17" width="5.6" height="5.6"/></g>
<g fill="#EAC435"><path d="M418.12 450.22l3.85 6.5h-7.7z"/><path d="M370.05 338.85l3.85 6.5h-7.7z"/><path d="M316.55 300.3l3.85 6.5h-7.7z"/></g>
<g fill="#1F6F33"><rect x="357.51" y="475.37" width="5.6" height="5.6"/></g>
<g fill="#3D7AC2"><circle cx="455.71" cy="324.9" r="3.1"/></g>
<g fill="#EAC435"><path d="M441.27 268.5l3.85 6.5h-7.7z"/></g>
<g fill="#1F6F33"><rect x="311.53" y="380.57" width="5.6" height="5.6"/></g>
<g fill="#EAC435"><path d="M333.63 316.11l3.85 6.5h-7.7z"/></g>
<g fill="#3D7AC2"><circle cx="380.92" cy="35.85" r="3.1"/></g>
<g fill="#EAC435"><path d="M303.79 335.78l3.85 6.5h-7.7z"/></g>
<g fill="#1F6F33"><rect x="200.19" y="521.57" width="5.6" height="5.6"/></g>
<g fill="#EAC435"><path d="M404.76 298.8l3.85 6.5h-7.7z"/><path d="M417.59 522.68l3.85 6.5h-7.7z"/></g>
<g fill="#3D7AC2"><circle cx="441.87" cy="481.05" r="3.1"/></g>
<g fill="#EAC435"><path d="M418.7 297.08l3.85 6.5h-7.7z"/><path d="M376.52 424.81l3.85 6.5h-7.7z"/></g>
<g fill="#3D7AC2"><circle cx="468.15" cy="277.16" r="3.1"/></g>
<g fill="#1F6F33"><rect x="382.48" y="427.44" width="5.6" height="5.6"/></g>
<g fill="#EAC435"><path d="M442.43 352.6l3.85 6.5h-7.7z"/><path d="M449.72 306.93l3.85 6.5h-7.7z"/><path d="M453.33 353.64l3.85 6.5h-7.7z"/><path d="M369.85 289.06l3.85 6.5h-7.7z"/></g>
<g fill="#1F6F33"><rect x="233.43" y="350.66" width="5.6" height="5.6"/></g>
<g fill="#EAC435"><path d="M411.47 260.19l3.85 6.5h-7.7z"/></g>
<g fill="#1F6F33"><rect x="219.81" y="300.53" width="5.6" height="5.6"/></g>
<g fill="#EAC435"><path d="M388.62 331l3.85 6.5h-7.7z"/><path d="M375.05 264.94l3.85 6.5h-7.7z"/></g>
<g fill="#1F6F33"><rect x="324.54" y="337.53" width="5.6" height="5.6"/><rect x="406.52" y="265.82" width="5.6" height="5.6"/></g>
<g fill="#EAC435"><path d="M431.29 257.93l3.85 6.5h-7.7z"/></g>
<g fill="#3D7AC2"><circle cx="508.35" cy="325.42" r="3.1"/><circle cx="470.21" cy="276.93" r="3.1"/></g>
<g fill="#EAC435"><path d="M374.12 253.67l3.85 6.5h-7.7z"/></g>
<g fill="#3D7AC2"><circle cx="527.91" cy="340.28" r="3.1"/></g>
<g fill="#EAC435"><path d="M344.16 338.56l3.85 6.5h-7.7z"/></g>
<g fill="#1F6F33"><rect x="325.6" y="329.25" width="5.6" height="5.6"/></g>
<g fill="#EAC435"><path d="M363.83 215.43l3.85 6.5h-7.7z"/></g>
<g fill="#3D7AC2"><circle cx="473.48" cy="291.81" r="3.1"/></g>
<g fill="#EAC435"><path d="M360.27 248.7l3.85 6.5h-7.7z"/></g>
<g fill="#1F6F33"><rect x="386.44" y="430.12" width="5.6" height="5.6"/></g>
<g fill="#3D7AC2"><circle cx="519.07" cy="283.68" r="3.1"/></g>
<g fill="#EAC435"><path d="M379.74 224.81l3.85 6.5h-7.7z"/></g>
<g fill="#3D7AC2"><circle cx="423.41" cy="216.25" r="3.1"/></g>
<g fill="#1F6F33"><rect x="243.74" y="107.67" width="5.6" height="5.6"/></g>
<g fill="#EAC435"><path d="M479.8 339.43l3.85 6.5h-7.7z"/><path d="M416.09 261.24l3.85 6.5h-7.7z"/><path d="M418.81 249.39l3.85 6.5h-7.7z"/><path d="M316.76 385.93l3.85 6.5h-7.7z"/><path d="M487.51 438.44l3.85 6.5h-7.7z"/><path d="M468.17 365.47l3.85 6.5h-7.7z"/><path d="M242.65 472.59l3.85 6.5h-7.7z"/></g>
<g fill="#1F6F33"><rect x="274.03" y="324.76" width="5.6" height="5.6"/></g>
<g fill="#3D7AC2"><circle cx="527.85" cy="43.92" r="3.1"/></g>
<g fill="#EAC435"><path d="M359.52 481.72l3.85 6.5h-7.7z"/><path d="M429.62 211.81l3.85 6.5h-7.7z"/><path d="M482.59 550.72l3.85 6.5h-7.7z"/></g>
<g fill="#3D7AC2"><circle cx="535.32" cy="382.5" r="3.1"/></g>
<g fill="#EAC435"><path d="M410.51 256.39l3.85 6.5h-7.7z"/></g>
<g fill="#1F6F33"><rect x="271.09" y="390.73" width="5.6" height="5.6"/></g>
<g fill="#3D7AC2"><circle cx="544.1" cy="141.7" r="3.1"/></g>
<g fill="#1F6F33"><rect x="325.8" y="185.22" width="5.6" height="5.6"/></g>
<g fill="#EAC435"><path d="M515.44 369.02l3.85 6.5h-7.7z"/><path d="M354.48 450.57l3.85 6.5h-7.7z"/><path d="M471.64 395.79l3.85 6.5h-7.7z"/></g>
<g fill="#3D7AC2"><circle cx="454.07" cy="144.24" r="3.1"/><circle cx="473.16" cy="298.41" r="3.1"/></g>
<g fill="#EAC435"><path d="M458.38 235.92l3.85 6.5h-7.7z"/></g>
<g fill="#1F6F33"><rect x="218.46" y="402.5" width="5.6" height="5.6"/></g>
<g fill="#3D7AC2"><circle cx="370.39" cy="102.18" r="3.1"/></g>
<g fill="#EAC435"><path d="M380.22 502.26l3.85 6.5h-7.7z"/><path d="M409.25 153.46l3.85 6.5h-7.7z"/><path d="M415.29 218.86l3.85 6.5h-7.7z"/></g>
<g fill="#3D7AC2"><circle cx="460.86" cy="263.8" r="3.1"/><circle cx="556.63" cy="328.74" r="3.1"/></g>
<g fill="#EAC435"><path d="M344.14 330.6l3.85 6.5h-7.7z"/><path d="M328.85 357.48l3.85 6.5h-7.7z"/></g>
<g fill="#1F6F33"><rect x="309.76" y="253.74" width="5.6" height="5.6"/></g>
<g fill="#EAC435"><path d="M485.11 241.16l3.85 6.5h-7.7z"/><path d="M350.68 450.38l3.85 6.5h-7.7z"/></g>
<g fill="#1F6F33"><rect x="205" y="457.58" width="5.6" height="5.6"/></g>
<g fill="#3D7AC2"><circle cx="469.04" cy="250.81" r="3.1"/></g>
<g fill="#EAC435"><path d="M309.06 381.52l3.85 6.5h-7.7z"/><path d="M451.79 442.74l3.85 6.5h-7.7z"/></g>
<g fill="#3D7AC2"><circle cx="464.33" cy="247.56" r="3.1"/></g>
<g fill="#EAC435"><path d="M391.65 291.73l3.85 6.5h-7.7z"/><path d="M307.03 463.13l3.85 6.5h-7.7z"/><path d="M357.8 230.81l3.85 6.5h-7.7z"/><path d="M389.15 166.55l3.85 6.5h-7.7z"/><path d="M412.53 290.97l3.85 6.5h-7.7z"/></g>
<g fill="#3D7AC2"><circle cx="395.71" cy="94.34" r="3.1"/><circle cx="463.45" cy="428.24" r="3.1"/></g>
<g fill="#1F6F33"><rect x="230.07" y="218.78" width="5.6" height="5.6"/></g>
<g fill="#EAC435"><path d="M340.19 398.33l3.85 6.5h-7.7z"/><path d="M397.59 268.6l3.85 6.5h-7.7z"/><path d="M427.27 416.02l3.85 6.5h-7.7z"/><path d="M397.14 359.2l3.85 6.5h-7.7z"/></g>
<g fill="#3D7AC2"><circle cx="496.82" cy="425.55" r="3.1"/><circle cx="546.06" cy="367.69" r="3.1"/></g>
<g fill="#EAC435"><path d="M344.91 339.28l3.85 6.5h-7.7z"/><path d="M449.34 416.06l3.85 6.5h-7.7z"/></g>
<g fill="#3D7AC2"><circle cx="468.09" cy="429.43" r="3.1"/></g>
<g fill="#EAC435"><path d="M355.24 283.44l3.85 6.5h-7.7z"/></g>
<g fill="#3D7AC2"><circle cx="444.63" cy="289.11" r="3.1"/></g>
<g fill="#EAC435"><path d="M444.36 436l3.85 6.5h-7.7z"/><path d="M374.2 217.21l3.85 6.5h-7.7z"/></g>
<g fill="#1F6F33"><rect x="377.46" y="423.64" width="5.6" height="5.6"/></g>
<g fill="#EAC435"><path d="M408.33 316.03l3.85 6.5h-7.7z"/><path d="M491.93 403.42l3.85 6.5h-7.7z"/></g>
<g fill="#1F6F33"><rect x="311.93" y="218.57" width="5.6" height="5.6"/></g>
<g fill="#EAC435"><path d="M426.85 274.95l3.85 6.5h-7.7z"/><path d="M387.15 128.91l3.85 6.5h-7.7z"/></g>
<g fill="#3D7AC2"><circle cx="524.67" cy="193.27" r="3.1"/><circle cx="434.95" cy="198.48" r="3.1"/></g>
<g fill="#EAC435"><path d="M438.22 454.92l3.85 6.5h-7.7z"/><path d="M360.74 213.31l3.85 6.5h-7.7z"/><path d="M370.69 469.74l3.85 6.5h-7.7z"/></g>
<g fill="#3D7AC2"><circle cx="465.09" cy="431.75" r="3.1"/></g>
<g fill="#1F6F33"><rect x="265.92" y="302.65" width="5.6" height="5.6"/></g>
<g fill="#EAC435"><path d="M398.58 337.31l3.85 6.5h-7.7z"/></g>
<g fill="#3D7AC2"><circle cx="455.9" cy="268.25" r="3.1"/></g>
<g fill="#1F6F33"><rect x="314.21" y="410.75" width="5.6" height="5.6"/></g>
<g fill="#3D7AC2"><circle cx="534.86" cy="226.63" r="3.1"/></g>
<g fill="#1F6F33"><rect x="261.45" y="535.82" width="5.6" height="5.6"/></g>
<g fill="#3D7AC2"><circle cx="510.2" cy="154.34" r="3.1"/><circle cx="524.68" cy="127.38" r="3.1"/></g>
<g fill="#EAC435"><path d="M355.85 404.4l3.85 6.5h-7.7z"/><path d="M419.19 326.78l3.85 6.5h-7.7z"/><path d="M503.7 370.45l3.85 6.5h-7.7z"/><path d="M412.3 326.47l3.85 6.5h-7.7z"/></g>
<g fill="#3D7AC2"><circle cx="431.87" cy="317.45" r="3.1"/></g>
<g fill="#EAC435"><path d="M473.98 517.2l3.85 6.5h-7.7z"/><path d="M535.01 291.25l3.85 6.5h-7.7z"/><path d="M377.56 42.96l3.85 6.5h-7.7z"/><path d="M277.14 146.34l3.85 6.5h-7.7z"/><path d="M393.25 326.29l3.85 6.5h-7.7z"/><path d="M453.65 137.35l3.85 6.5h-7.7z"/><path d="M249.83 79.93l3.85 6.5h-7.7z"/><path d="M480.35 366.01l3.85 6.5h-7.7z"/><path d="M400.83 327.32l3.85 6.5h-7.7z"/><path d="M403.79 205.94l3.85 6.5h-7.7z"/><path d="M393.33 435.67l3.85 6.5h-7.7z"/></g>
<g fill="#1F6F33"><rect x="311.41" y="465.58" width="5.6" height="5.6"/><rect x="232.79" y="304.48" width="5.6" height="5.6"/></g>
<g fill="#3D7AC2"><circle cx="509.78" cy="354.81" r="3.1"/></g>
<g fill="#EAC435"><path d="M422.81 556.2l3.85 6.5h-7.7z"/><path d="M399.56 240.24l3.85 6.5h-7.7z"/><path d="M381.62 348.98l3.85 6.5h-7.7z"/></g>
<g fill="#3D7AC2"><circle cx="499.68" cy="447.13" r="3.1"/></g>
<g fill="#EAC435"><path d="M435.74 351.07l3.85 6.5h-7.7z"/><path d="M524.02 205.72l3.85 6.5h-7.7z"/></g>
<g fill="#1F6F33"><rect x="296.13" y="326.86" width="5.6" height="5.6"/></g>
<g fill="#3D7AC2"><circle cx="471.24" cy="150.32" r="3.1"/></g>
<g fill="#EAC435"><path d="M495.51 346.93l3.85 6.5h-7.7z"/><path d="M444.24 214.43l3.85 6.5h-7.7z"/></g>
<g fill="#3D7AC2"><circle cx="509.01" cy="315.05" r="3.1"/><circle cx="439.54" cy="344.31" r="3.1"/></g>
<g fill="#EAC435"><path d="M366.34 428.28l3.85 6.5h-7.7z"/><path d="M262.34 242.46l3.85 6.5h-7.7z"/></g>
<g fill="#1F6F33"><rect x="278.06" y="225.64" width="5.6" height="5.6"/></g>
<g fill="#EAC435"><path d="M555.86 545.12l3.85 6.5h-7.7z"/></g>
<g fill="#1F6F33"><rect x="278.39" y="371.11" width="5.6" height="5.6"/></g>
<g fill="#EAC435"><path d="M353.93 230.14l3.85 6.5h-7.7z"/></g>
<g fill="#1F6F33"><rect x="221.56" y="170.91" width="5.6" height="5.6"/></g>
<g fill="#EAC435"><path d="M380.11 254.16l3.85 6.5h-7.7z"/></g>
<g fill="#3D7AC2"><circle cx="500.8" cy="374.17" r="3.1"/><circle cx="417.42" cy="330.07" r="3.1"/></g>
<g fill="#EAC435"><path d="M418.13 431.52l3.85 6.5h-7.7z"/></g>
<g fill="#3D7AC2"><circle cx="454.98" cy="151.09" r="3.1"/><circle cx="407.45" cy="136.58" r="3.1"/></g>
<g fill="#EAC435"><path d="M331.11 254.26l3.85 6.5h-7.7z"/><path d="M353.55 315.78l3.85 6.5h-7.7z"/></g>
<g fill="#1F6F33"><rect x="170.34" y="239.46" width="5.6" height="5.6"/></g>
<g fill="#EAC435"><path d="M398.59 347.83l3.85 6.5h-7.7z"/><path d="M427.11 446.18l3.85 6.5h-7.7z"/><path d="M470.64 293.03l3.85 6.5h-7.7z"/></g>
<g fill="#1F6F33"><rect x="235.68" y="369.77" width="5.6" height="5.6"/></g>
<g fill="#EAC435"><path d="M380.05 363.94l3.85 6.5h-7.7z"/><path d="M298.33 160.7l3.85 6.5h-7.7z"/><path d="M316.65 424.57l3.85 6.5h-7.7z"/></g>
<g fill="#1F6F33"><rect x="300.73" y="463.23" width="5.6" height="5.6"/><rect x="269.06" y="190.99" width="5.6" height="5.6"/></g>
<g fill="#EAC435"><path d="M511.94 493.32l3.85 6.5h-7.7z"/></g>
<g fill="#3D7AC2"><circle cx="434.04" cy="275.73" r="3.1"/></g>
<g fill="#EAC435"><path d="M433.33 441.11l3.85 6.5h-7.7z"/></g>
<g fill="#3D7AC2"><circle cx="483.09" cy="274.54" r="3.1"/></g>
<g fill="#EAC435"><path d="M420.44 279.67l3.85 6.5h-7.7z"/><path d="M296.37 225.42l3.85 6.5h-7.7z"/><path d="M501.71 529.7l3.85 6.5h-7.7z"/><path d="M479.22 214.45l3.85 6.5h-7.7z"/></g>
<g fill="#3D7AC2"><circle cx="486.79" cy="216.35" r="3.1"/><circle cx="499.24" cy="298.94" r="3.1"/></g>
<g fill="#EAC435"><path d="M468.68 257.96l3.85 6.5h-7.7z"/><path d="M355.45 405.97l3.85 6.5h-7.7z"/><path d="M385.55 540.42l3.85 6.5h-7.7z"/></g>
<g fill="#3D7AC2"><circle cx="470.15" cy="375.65" r="3.1"/></g>
<g fill="#EAC435"><path d="M472.46 315.52l3.85 6.5h-7.7z"/></g>
<g fill="#3D7AC2"><circle cx="420.05" cy="164.17" r="3.1"/></g>
<g fill="#1F6F33"><rect x="300.96" y="320.52" width="5.6" height="5.6"/></g>
<g fill="#EAC435"><path d="M459.61 408.6l3.85 6.5h-7.7z"/></g>
<g fill="#1F6F33"><rect x="384.08" y="363.64" width="5.6" height="5.6"/><rect x="417.14" y="313.24" width="5.6" height="5.6"/><rect x="255.05" y="238.32" width="5.6" height="5.6"/></g>
<g fill="#EAC435"><path d="M430.14 545.93l3.85 6.5h-7.7z"/><path d="M391.5 317.94l3.85 6.5h-7.7z"/></g>
<g fill="#3D7AC2"><circle cx="463.73" cy="183.69" r="3.1"/></g>
<g fill="#EAC435"><path d="M401.42 282.93l3.85 6.5h-7.7z"/><path d="M364.09 166.27l3.85 6.5h-7.7z"/><path d="M317.13 204.71l3.85 6.5h-7.7z"/></g>
<g fill="#1F6F33"><rect x="143.05" y="260.51" width="5.6" height="5.6"/></g>
<g fill="#EAC435"><path d="M379.66 401.05l3.85 6.5h-7.7z"/></g>
<g fill="#3D7AC2"><circle cx="455.74" cy="252.99" r="3.1"/><circle cx="517.3" cy="216.88" r="3.1"/></g>
<g fill="#EAC435"><path d="M338.55 153.58l3.85 6.5h-7.7z"/><path d="M407 553.57l3.85 6.5h-7.7z"/><path d="M511.26 415.21l3.85 6.5h-7.7z"/><path d="M421.75 289.17l3.85 6.5h-7.7z"/><path d="M499.47 367.02l3.85 6.5h-7.7z"/></g>
<g fill="#3D7AC2"><circle cx="469.42" cy="186.17" r="3.1"/></g>
<g fill="#EAC435"><path d="M376.75 186.81l3.85 6.5h-7.7z"/><path d="M388.68 259.03l3.85 6.5h-7.7z"/><path d="M465.16 302.85l3.85 6.5h-7.7z"/><path d="M348.11 343.58l3.85 6.5h-7.7z"/><path d="M387.79 198.01l3.85 6.5h-7.7z"/><path d="M498.29 307.08l3.85 6.5h-7.7z"/><path d="M506.66 481.51l3.85 6.5h-7.7z"/><path d="M454.25 476.9l3.85 6.5h-7.7z"/></g>
<g fill="#3D7AC2"><circle cx="462.21" cy="327.19" r="3.1"/></g>
<g fill="#EAC435"><path d="M285.7 154.87l3.85 6.5h-7.7z"/><path d="M358.81 179.07l3.85 6.5h-7.7z"/><path d="M404.32 434.76l3.85 6.5h-7.7z"/><path d="M485.11 361.27l3.85 6.5h-7.7z"/><path d="M375.16 317.31l3.85 6.5h-7.7z"/></g>
<g fill="#3D7AC2"><circle cx="476.45" cy="200.5" r="3.1"/></g>
<g fill="#EAC435"><path d="M461.15 223.47l3.85 6.5h-7.7z"/></g>
<g fill="#1F6F33"><rect x="275.29" y="412.57" width="5.6" height="5.6"/></g>
<g fill="#3D7AC2"><circle cx="517.29" cy="308.25" r="3.1"/></g>
<g fill="#EAC435"><path d="M413.35 352.06l3.85 6.5h-7.7z"/><path d="M385.96 292.66l3.85 6.5h-7.7z"/><path d="M444.97 293.4l3.85 6.5h-7.7z"/></g>
<g fill="#3D7AC2"><circle cx="490.31" cy="391.42" r="3.1"/><circle cx="388.57" cy="164.12" r="3.1"/></g>
<g fill="#EAC435"><path d="M362.43 464.79l3.85 6.5h-7.7z"/></g>
<g fill="#3D7AC2"><circle cx="467.91" cy="130.31" r="3.1"/></g>
<g fill="#EAC435"><path d="M489.32 190.76l3.85 6.5h-7.7z"/></g>
<g fill="#3D7AC2"><circle cx="542.9" cy="208.56" r="3.1"/></g>
<g fill="#EAC435"><path d="M411.98 344.3l3.85 6.5h-7.7z"/><path d="M419.43 265.73l3.85 6.5h-7.7z"/><path d="M443.51 378.61l3.85 6.5h-7.7z"/><path d="M338.24 398.04l3.85 6.5h-7.7z"/></g>
<g fill="#3D7AC2"><circle cx="386.87" cy="255.62" r="3.1"/><circle cx="383.07" cy="377.58" r="3.1"/></g>
<g fill="#EAC435"><path d="M348.97 179.29l3.85 6.5h-7.7z"/></g>
<g fill="#3D7AC2"><circle cx="504.1" cy="303.15" r="3.1"/></g>
<g fill="#EAC435"><path d="M442.69 324.26l3.85 6.5h-7.7z"/><path d="M414.89 498.36l3.85 6.5h-7.7z"/></g>
<g fill="#3D7AC2"><circle cx="476.51" cy="258.63" r="3.1"/><circle cx="564.01" cy="190.52" r="3.1"/></g>
<g fill="#EAC435"><path d="M521.29 396.91l3.85 6.5h-7.7z"/></g>
<g fill="#1F6F33"><rect x="263.03" y="419.43" width="5.6" height="5.6"/></g>
<g fill="#EAC435"><path d="M572.07 311.29l3.85 6.5h-7.7z"/><path d="M411.33 335.83l3.85 6.5h-7.7z"/><path d="M431.34 595.34l3.85 6.5h-7.7z"/></g>
<g fill="#1F6F33"><rect x="354.05" y="231.67" width="5.6" height="5.6"/></g>
<g fill="#3D7AC2"><circle cx="542.25" cy="278.04" r="3.1"/></g>
<g fill="#EAC435"><path d="M480.09 546.05l3.85 6.5h-7.7z"/></g>
<g fill="#3D7AC2"><circle cx="489.61" cy="357.48" r="3.1"/></g>
<g fill="#EAC435"><path d="M133.3 302.9l3.85 6.5h-7.7z"/><path d="M460.83 398.23l3.85 6.5h-7.7z"/><path d="M404.65 438.27l3.85 6.5h-7.7z"/><path d="M351.18 243.97l3.85 6.5h-7.7z"/><path d="M378.9 273.17l3.85 6.5h-7.7z"/></g>
<g fill="#1F6F33"><rect x="201.09" y="114.4" width="5.6" height="5.6"/></g>
<g fill="#EAC435"><path d="M426.87 483.6l3.85 6.5h-7.7z"/><path d="M442.44 304.63l3.85 6.5h-7.7z"/></g>
<g fill="#1F6F33"><rect x="195.18" y="252.08" width="5.6" height="5.6"/></g>
<g fill="#3D7AC2"><circle cx="538.35" cy="122.36" r="3.1"/></g>
<g fill="#EAC435"><path d="M362.65 529.27l3.85 6.5h-7.7z"/><path d="M485.04 354.63l3.85 6.5h-7.7z"/><path d="M363.46 224.41l3.85 6.5h-7.7z"/><path d="M445.32 280.66l3.85 6.5h-7.7z"/><path d="M396.43 326.31l3.85 6.5h-7.7z"/><path d="M424.42 442.71l3.85 6.5h-7.7z"/></g>
<g fill="#1F6F33"><rect x="313.62" y="356.58" width="5.6" height="5.6"/><rect x="309.04" y="235.95" width="5.6" height="5.6"/></g>
<g fill="#EAC435"><path d="M560.73 412.86l3.85 6.5h-7.7z"/><path d="M416.44 224.93l3.85 6.5h-7.7z"/></g>
<g fill="#3D7AC2"><circle cx="590.59" cy="337.93" r="3.1"/></g>
<g fill="#EAC435"><path d="M448.31 323.99l3.85 6.5h-7.7z"/><path d="M519.83 487l3.85 6.5h-7.7z"/><path d="M534.13 514.65l3.85 6.5h-7.7z"/></g>
<g fill="#3D7AC2"><circle cx="500.29" cy="159.02" r="3.1"/></g>
<g fill="#EAC435"><path d="M380.51 295.56l3.85 6.5h-7.7z"/></g>
<g fill="#3D7AC2"><circle cx="506.78" cy="237.54" r="3.1"/></g>
<g fill="#EAC435"><path d="M339.85 394.72l3.85 6.5h-7.7z"/></g>
<g fill="#3D7AC2"><circle cx="411.47" cy="117.51" r="3.1"/></g>
<g fill="#EAC435"><path d="M494.17 349.85l3.85 6.5h-7.7z"/></g>
<g fill="#1F6F33"><rect x="382.93" y="300.54" width="5.6" height="5.6"/></g>
<g fill="#EAC435"><path d="M470.37 428.54l3.85 6.5h-7.7z"/><path d="M510.37 199.36l3.85 6.5h-7.7z"/></g>
<g fill="#3D7AC2"><circle cx="382.99" cy="149.98" r="3.1"/></g>
<g fill="#EAC435"><path d="M490.36 413.11l3.85 6.5h-7.7z"/><path d="M431.16 399.72l3.85 6.5h-7.7z"/></g>
<g fill="#1F6F33"><rect x="277.29" y="146.77" width="5.6" height="5.6"/></g>
<g fill="#EAC435"><path d="M447.62 451.43l3.85 6.5h-7.7z"/><path d="M506.67 268.85l3.85 6.5h-7.7z"/><path d="M353.6 181.9l3.85 6.5h-7.7z"/><path d="M321.19 348.26l3.85 6.5h-7.7z"/><path d="M388.61 491.19l3.85 6.5h-7.7z"/></g>
<g fill="#3D7AC2"><circle cx="501.59" cy="215.77" r="3.1"/><circle cx="489.69" cy="313" r="3.1"/></g>
<g fill="#1F6F33"><rect x="232.59" y="201.02" width="5.6" height="5.6"/></g>
<g fill="#EAC435"><path d="M319.87 509.01l3.85 6.5h-7.7z"/></g>
<g fill="#3D7AC2"><circle cx="517.12" cy="371.49" r="3.1"/></g>
<g fill="#EAC435"><path d="M432.98 252.08l3.85 6.5h-7.7z"/><path d="M209.84 346.31l3.85 6.5h-7.7z"/><path d="M483.71 564.62l3.85 6.5h-7.7z"/><path d="M508.33 438.53l3.85 6.5h-7.7z"/><path d="M361.42 435.87l3.85 6.5h-7.7z"/><path d="M478.56 460.86l3.85 6.5h-7.7z"/><path d="M368.66 344.27l3.85 6.5h-7.7z"/></g>
<g fill="#3D7AC2"><circle cx="506.18" cy="301.41" r="3.1"/><circle cx="470.38" cy="311.18" r="3.1"/></g>
<g fill="#EAC435"><path d="M377.08 135.63l3.85 6.5h-7.7z"/></g>
<g fill="#3D7AC2"><circle cx="559.7" cy="180.87" r="3.1"/></g>
<g fill="#EAC435"><path d="M406.69 87.78l3.85 6.5h-7.7z"/><path d="M350.37 266.17l3.85 6.5h-7.7z"/><path d="M301.03 211.04l3.85 6.5h-7.7z"/><path d="M465.67 273.13l3.85 6.5h-7.7z"/><path d="M345.75 242.01l3.85 6.5h-7.7z"/><path d="M394.1 213.98l3.85 6.5h-7.7z"/><path d="M534.57 98.97l3.85 6.5h-7.7z"/><path d="M287.5 390.97l3.85 6.5h-7.7z"/></g>
<g fill="#3D7AC2"><circle cx="508.26" cy="241.44" r="3.1"/></g>
<g fill="#EAC435"><path d="M403.33 310.53l3.85 6.5h-7.7z"/><path d="M538.28 412.34l3.85 6.5h-7.7z"/></g>
<g fill="#1F6F33"><rect x="233.04" y="424.65" width="5.6" height="5.6"/><rect x="323.39" y="519.83" width="5.6" height="5.6"/></g>
<g fill="#3D7AC2"><circle cx="475.96" cy="383.48" r="3.1"/></g>
<g fill="#EAC435"><path d="M280.7 442.5l3.85 6.5h-7.7z"/></g>
<g fill="#1F6F33"><rect x="271.12" y="265.7" width="5.6" height="5.6"/></g>
<g fill="#EAC435"><path d="M336.64 311.46l3.85 6.5h-7.7z"/></g>
<g fill="#3D7AC2"><circle cx="466.12" cy="274.85" r="3.1"/></g>
<g fill="#EAC435"><path d="M386.12 250.25l3.85 6.5h-7.7z"/></g>
<g fill="#3D7AC2"><circle cx="356.15" cy="168.12" r="3.1"/></g>
<g fill="#EAC435"><path d="M380.05 451.59l3.85 6.5h-7.7z"/><path d="M446.39 448.96l3.85 6.5h-7.7z"/><path d="M381.36 440.2l3.85 6.5h-7.7z"/></g>
<g fill="#1F6F33"><rect x="370.87" y="321.68" width="5.6" height="5.6"/></g>
<g fill="#EAC435"><path d="M353.47 284.24l3.85 6.5h-7.7z"/><path d="M555.14 342.31l3.85 6.5h-7.7z"/><path d="M456.63 499.11l3.85 6.5h-7.7z"/><path d="M353.8 346.43l3.85 6.5h-7.7z"/><path d="M414.39 301.61l3.85 6.5h-7.7z"/><path d="M541.25 407.83l3.85 6.5h-7.7z"/></g>
<g fill="#3D7AC2"><circle cx="470.32" cy="356.53" r="3.1"/></g>
<g fill="#1F6F33"><rect x="353.91" y="157.15" width="5.6" height="5.6"/></g>
<g fill="#EAC435"><path d="M526.44 369.84l3.85 6.5h-7.7z"/><path d="M392.85 396.23l3.85 6.5h-7.7z"/></g>
<g fill="#3D7AC2"><circle cx="507.78" cy="233.6" r="3.1"/></g>
<g fill="#EAC435"><path d="M386.33 334.72l3.85 6.5h-7.7z"/></g>
<g fill="#3D7AC2"><circle cx="639.44" cy="194.94" r="3.1"/></g>
<g fill="#EAC435"><path d="M370.06 320.89l3.85 6.5h-7.7z"/><path d="M265.65 310.06l3.85 6.5h-7.7z"/><path d="M417.87 126.62l3.85 6.5h-7.7z"/><path d="M438.42 406.38l3.85 6.5h-7.7z"/><path d="M435.81 323.41l3.85 6.5h-7.7z"/></g>
<g fill="#3D7AC2"><circle cx="472.36" cy="64.58" r="3.1"/></g>
<g fill="#EAC435"><path d="M360.27 440.69l3.85 6.5h-7.7z"/><path d="M364.24 181.35l3.85 6.5h-7.7z"/><path d="M448.31 126.23l3.85 6.5h-7.7z"/><path d="M477.67 476.44l3.85 6.5h-7.7z"/><path d="M410.36 436.54l3.85 6.5h-7.7z"/><path d="M354.55 495.95l3.85 6.5h-7.7z"/><path d="M537.61 252.87l3.85 6.5h-7.7z"/><path d="M393.25 166.36l3.85 6.5h-7.7z"/><path d="M466.98 214.67l3.85 6.5h-7.7z"/></g>
<g fill="#1F6F33"><rect x="262.02" y="357.79" width="5.6" height="5.6"/></g>
<g fill="#EAC435"><path d="M453.29 468.17l3.85 6.5h-7.7z"/><path d="M358.54 410.95l3.85 6.5h-7.7z"/><path d="M395.88 335.88l3.85 6.5h-7.7z"/><path d="M412.51 389.56l3.85 6.5h-7.7z"/><path d="M356.8 452.51l3.85 6.5h-7.7z"/></g>
<g fill="#1F6F33"><rect x="330.13" y="456.52" width="5.6" height="5.6"/><rect x="170.39" y="98.26" width="5.6" height="5.6"/><rect x="385.1" y="463.48" width="5.6" height="5.6"/></g>
<g fill="#EAC435"><path d="M484.73 387.71l3.85 6.5h-7.7z"/></g>
<g fill="#1F6F33"><rect x="197.9" y="398.33" width="5.6" height="5.6"/></g>
<g fill="#3D7AC2"><circle cx="424.28" cy="249.13" r="3.1"/></g>
<g fill="#EAC435"><path d="M516.07 232.24l3.85 6.5h-7.7z"/><path d="M434.56 376.42l3.85 6.5h-7.7z"/><path d="M449.22 347.91l3.85 6.5h-7.7z"/><path d="M397.55 392.04l3.85 6.5h-7.7z"/></g>
<g fill="#1F6F33"><rect x="256.02" y="310.46" width="5.6" height="5.6"/></g>
<g fill="#EAC435"><path d="M484.63 326.07l3.85 6.5h-7.7z"/><path d="M502.52 463.67l3.85 6.5h-7.7z"/><path d="M506.36 325.25l3.85 6.5h-7.7z"/></g>
<g fill="#1F6F33"><rect x="258.99" y="240.36" width="5.6" height="5.6"/></g>
<g fill="#EAC435"><path d="M353.58 66.26l3.85 6.5h-7.7z"/><path d="M485.38 332.87l3.85 6.5h-7.7z"/><path d="M411.03 412.05l3.85 6.5h-7.7z"/></g>
<g fill="#3D7AC2"><circle cx="512.51" cy="168.04" r="3.1"/><circle cx="466.51" cy="273.26" r="3.1"/></g>
<g fill="#EAC435"><path d="M411.29 385.15l3.85 6.5h-7.7z"/><path d="M441.81 304.36l3.85 6.5h-7.7z"/><path d="M563.03 472.08l3.85 6.5h-7.7z"/><path d="M366.28 433.87l3.85 6.5h-7.7z"/><path d="M373.04 316.21l3.85 6.5h-7.7z"/><path d="M505.49 323.58l3.85 6.5h-7.7z"/><path d="M394.48 248.79l3.85 6.5h-7.7z"/><path d="M418.82 557.48l3.85 6.5h-7.7z"/></g>
<g fill="#3D7AC2"><circle cx="366.35" cy="101.74" r="3.1"/></g>
<g fill="#EAC435"><path d="M273.66 128.82l3.85 6.5h-7.7z"/></g>
<g fill="#3D7AC2"><circle cx="431.68" cy="238.31" r="3.1"/></g>
<g fill="#EAC435"><path d="M319.73 295.46l3.85 6.5h-7.7z"/></g>
<g fill="#3D7AC2"><circle cx="428.73" cy="430.38" r="3.1"/></g>
<g fill="#EAC435"><path d="M415.27 302.08l3.85 6.5h-7.7z"/><path d="M436.21 585.9l3.85 6.5h-7.7z"/><path d="M383.88 193.79l3.85 6.5h-7.7z"/></g>
<g fill="#1F6F33"><rect x="232.41" y="254.49" width="5.6" height="5.6"/></g>
<g fill="#EAC435"><path d="M471.48 263.84l3.85 6.5h-7.7z"/></g>
<g fill="#1F6F33"><rect x="221.73" y="347.76" width="5.6" height="5.6"/></g>
<g fill="#EAC435"><path d="M439.11 330.43l3.85 6.5h-7.7z"/><path d="M433.97 206.91l3.85 6.5h-7.7z"/><path d="M460.86 349.39l3.85 6.5h-7.7z"/><path d="M405.62 195.85l3.85 6.5h-7.7z"/></g>
<g fill="#3D7AC2"><circle cx="462.15" cy="89.1" r="3.1"/></g>
<g fill="#EAC435"><path d="M476.2 412.24l3.85 6.5h-7.7z"/></g>
<g fill="#3D7AC2"><circle cx="479.97" cy="323.64" r="3.1"/></g>
<g fill="#EAC435"><path d="M390.1 541.2l3.85 6.5h-7.7z"/></g>
<g fill="#3D7AC2"><circle cx="428.42" cy="182.53" r="3.1"/><circle cx="403.51" cy="132.06" r="3.1"/></g>
<g fill="#1F6F33"><rect x="223.68" y="283.88" width="5.6" height="5.6"/></g>
<g fill="#3D7AC2"><circle cx="421.07" cy="274.39" r="3.1"/></g>
<g fill="#EAC435"><path d="M388.76 92.71l3.85 6.5h-7.7z"/></g>
<g fill="#3D7AC2"><circle cx="452.21" cy="292.07" r="3.1"/></g>
<g fill="#EAC435"><path d="M495.05 291.45l3.85 6.5h-7.7z"/><path d="M441.78 475.7l3.85 6.5h-7.7z"/></g>
<g fill="#1F6F33"><rect x="270.94" y="236.06" width="5.6" height="5.6"/></g>
<g fill="#EAC435"><path d="M226.92 296.13l3.85 6.5h-7.7z"/><path d="M333.95 349.56l3.85 6.5h-7.7z"/><path d="M265.94 283l3.85 6.5h-7.7z"/><path d="M380.07 159.34l3.85 6.5h-7.7z"/><path d="M278.91 435.54l3.85 6.5h-7.7z"/><path d="M528.9 458.7l3.85 6.5h-7.7z"/><path d="M505.89 540.87l3.85 6.5h-7.7z"/><path d="M390.08 391.35l3.85 6.5h-7.7z"/></g>
<g fill="#1F6F33"><rect x="321.59" y="172.85" width="5.6" height="5.6"/></g>
<g fill="#EAC435"><path d="M328.34 500.93l3.85 6.5h-7.7z"/><path d="M305.41 277.83l3.85 6.5h-7.7z"/><path d="M409.12 517.55l3.85 6.5h-7.7z"/></g>
<g fill="#3D7AC2"><circle cx="490.27" cy="411.6" r="3.1"/></g>
<g fill="#1F6F33"><rect x="363.18" y="483.81" width="5.6" height="5.6"/></g>
<g fill="#EAC435"><path d="M425.14 459.12l3.85 6.5h-7.7z"/><path d="M460.46 304.19l3.85 6.5h-7.7z"/><path d="M440.72 182.49l3.85 6.5h-7.7z"/><path d="M463.2 188.13l3.85 6.5h-7.7z"/><path d="M405.89 445.22l3.85 6.5h-7.7z"/></g>
<g fill="#3D7AC2"><circle cx="424.52" cy="251.06" r="3.1"/></g>
<g fill="#1F6F33"><rect x="347.16" y="303.02" width="5.6" height="5.6"/></g>
<g fill="#EAC435"><path d="M411.81 131.69l3.85 6.5h-7.7z"/><path d="M424.96 486.8l3.85 6.5h-7.7z"/><path d="M233.69 89.57l3.85 6.5h-7.7z"/><path d="M433.62 245.7l3.85 6.5h-7.7z"/><path d="M267.59 126.95l3.85 6.5h-7.7z"/><path d="M227.4 212.63l3.85 6.5h-7.7z"/></g>
<g fill="#1F6F33"><rect x="349.72" y="226.24" width="5.6" height="5.6"/></g>
<g fill="#EAC435"><path d="M389.15 590.61l3.85 6.5h-7.7z"/><path d="M447.59 192.9l3.85 6.5h-7.7z"/><path d="M435.76 248.64l3.85 6.5h-7.7z"/><path d="M530.21 408.17l3.85 6.5h-7.7z"/></g>
<g fill="#1F6F33"><rect x="324.11" y="240.55" width="5.6" height="5.6"/></g>
<g fill="#EAC435"><path d="M333.14 284.36l3.85 6.5h-7.7z"/><path d="M405 222.56l3.85 6.5h-7.7z"/><path d="M349.55 85.98l3.85 6.5h-7.7z"/><path d="M397.24 359.12l3.85 6.5h-7.7z"/></g>
<g fill="#3D7AC2"><circle cx="377.55" cy="328.13" r="3.1"/></g>
<g fill="#EAC435"><path d="M444 435.12l3.85 6.5h-7.7z"/><path d="M320.7 242.46l3.85 6.5h-7.7z"/><path d="M400.3 400.37l3.85 6.5h-7.7z"/></g>
<g fill="#1F6F33"><rect x="191.04" y="344.67" width="5.6" height="5.6"/></g>
<g fill="#3D7AC2"><circle cx="500.18" cy="297.97" r="3.1"/></g>
<g fill="#1F6F33"><rect x="341.81" y="477.31" width="5.6" height="5.6"/></g>
<g fill="#3D7AC2"><circle cx="435.54" cy="351.5" r="3.1"/></g>
<g fill="#EAC435"><path d="M464.86 453.2l3.85 6.5h-7.7z"/><path d="M502.35 184.04l3.85 6.5h-7.7z"/><path d="M437.77 371.55l3.85 6.5h-7.7z"/><path d="M411.81 391.45l3.85 6.5h-7.7z"/><path d="M415.38 341.3l3.85 6.5h-7.7z"/><path d="M422.26 260.21l3.85 6.5h-7.7z"/></g>
<g fill="#3D7AC2"><circle cx="502.7" cy="218.73" r="3.1"/><circle cx="481.61" cy="337.68" r="3.1"/><circle cx="539.5" cy="400.31" r="3.1"/></g>
<g fill="#EAC435"><path d="M316.16 26.15l3.85 6.5h-7.7z"/><path d="M401.55 361.35l3.85 6.5h-7.7z"/><path d="M432.91 415.7l3.85 6.5h-7.7z"/><path d="M484.31 359.52l3.85 6.5h-7.7z"/><path d="M309.16 359.18l3.85 6.5h-7.7z"/><path d="M301.58 129.67l3.85 6.5h-7.7z"/><path d="M481.9 362.91l3.85 6.5h-7.7z"/><path d="M412.68 407.55l3.85 6.5h-7.7z"/><path d="M362.92 233.3l3.85 6.5h-7.7z"/></g>
<g fill="#3D7AC2"><circle cx="425.75" cy="208.7" r="3.1"/></g>
<g fill="#EAC435"><path d="M489.89 398.04l3.85 6.5h-7.7z"/></g>
<g fill="#3D7AC2"><circle cx="420.46" cy="69.56" r="3.1"/></g>
<g fill="#EAC435"><path d="M344.67 296.36l3.85 6.5h-7.7z"/></g>
<g fill="#1F6F33"><rect x="263.08" y="497.87" width="5.6" height="5.6"/></g>
<g fill="#3D7AC2"><circle cx="545.55" cy="456.46" r="3.1"/></g>
<g fill="#EAC435"><path d="M420.54 408.85l3.85 6.5h-7.7z"/><path d="M419 468.11l3.85 6.5h-7.7z"/><path d="M417.78 506.41l3.85 6.5h-7.7z"/><path d="M369.78 469.78l3.85 6.5h-7.7z"/><path d="M464 498.05l3.85 6.5h-7.7z"/></g>
<g fill="#1F6F33"><rect x="213.33" y="330.89" width="5.6" height="5.6"/><rect x="245.86" y="447.24" width="5.6" height="5.6"/></g>
<g fill="#EAC435"><path d="M478.12 316.01l3.85 6.5h-7.7z"/></g>
<g fill="#3D7AC2"><circle cx="424.6" cy="314.87" r="3.1"/><circle cx="481.99" cy="284.44" r="3.1"/></g>
<g fill="#EAC435"><path d="M308.99 328.41l3.85 6.5h-7.7z"/><path d="M407.36 73.44l3.85 6.5h-7.7z"/></g>
<g fill="#3D7AC2"><circle cx="494.42" cy="398.63" r="3.1"/></g>
<g fill="#1F6F33"><rect x="427.15" y="261.63" width="5.6" height="5.6"/><rect x="319.17" y="289.27" width="5.6" height="5.6"/></g>
<g fill="#3D7AC2"><circle cx="396.93" cy="397.67" r="3.1"/><circle cx="468.13" cy="364.11" r="3.1"/></g>
<g fill="#1F6F33"><rect x="256.76" y="481.79" width="5.6" height="5.6"/></g>
<g fill="#EAC435"><path d="M489.98 552.74l3.85 6.5h-7.7z"/><path d="M339.52 433.69l3.85 6.5h-7.7z"/><path d="M481.4 291.8l3.85 6.5h-7.7z"/><path d="M401.88 304.52l3.85 6.5h-7.7z"/><path d="M530.72 462.27l3.85 6.5h-7.7z"/></g>
<g fill="#1F6F33"><rect x="199" y="308.48" width="5.6" height="5.6"/><rect x="264.05" y="156.46" width="5.6" height="5.6"/></g>
<g fill="#EAC435"><path d="M446.38 215.2l3.85 6.5h-7.7z"/></g>
<g fill="#3D7AC2"><circle cx="526.85" cy="366.04" r="3.1"/></g>
<g fill="#EAC435"><path d="M434.51 280.66l3.85 6.5h-7.7z"/></g>
<g fill="#3D7AC2"><circle cx="428.37" cy="237.42" r="3.1"/></g>
<g fill="#EAC435"><path d="M363.64 239.6l3.85 6.5h-7.7z"/><path d="M457.75 263.75l3.85 6.5h-7.7z"/></g>
<g fill="#1F6F33"><rect x="272.72" y="348.17" width="5.6" height="5.6"/></g>
<g fill="#EAC435"><path d="M364.37 117.37l3.85 6.5h-7.7z"/><path d="M495.13 421.15l3.85 6.5h-7.7z"/><path d="M455.18 413.87l3.85 6.5h-7.7z"/></g>
<g fill="#1F6F33"><rect x="277.69" y="291.9" width="5.6" height="5.6"/></g>
<g fill="#3D7AC2"><circle cx="527.76" cy="302.88" r="3.1"/></g>
<g fill="#EAC435"><path d="M337.57 355.74l3.85 6.5h-7.7z"/><path d="M346.36 287.43l3.85 6.5h-7.7z"/><path d="M435.73 328.55l3.85 6.5h-7.7z"/><path d="M449.16 189.61l3.85 6.5h-7.7z"/></g>
<g fill="#3D7AC2"><circle cx="421.67" cy="139.93" r="3.1"/></g>
<g fill="#EAC435"><path d="M417.73 202.63l3.85 6.5h-7.7z"/></g>
<g fill="#1F6F33"><rect x="194.12" y="464.59" width="5.6" height="5.6"/></g>
<g fill="#EAC435"><path d="M459.04 211.69l3.85 6.5h-7.7z"/></g>
<g fill="#3D7AC2"><circle cx="495.68" cy="381.94" r="3.1"/></g>
<g fill="#EAC435"><path d="M354.91 317.42l3.85 6.5h-7.7z"/><path d="M353.69 389.88l3.85 6.5h-7.7z"/><path d="M290.89 418.51l3.85 6.5h-7.7z"/><path d="M355.04 330.17l3.85 6.5h-7.7z"/><path d="M484.64 417.37l3.85 6.5h-7.7z"/><path d="M300.27 461.41l3.85 6.5h-7.7z"/></g>
<g fill="#3D7AC2"><circle cx="503.07" cy="244.24" r="3.1"/></g>
<g fill="#1F6F33"><rect x="237.94" y="344.68" width="5.6" height="5.6"/></g>
<g fill="#EAC435"><path d="M321.11 182.56l3.85 6.5h-7.7z"/><path d="M272.51 314.58l3.85 6.5h-7.7z"/><path d="M329.86 438.88l3.85 6.5h-7.7z"/><path d="M508.14 273.9l3.85 6.5h-7.7z"/><path d="M473.54 291.12l3.85 6.5h-7.7z"/><path d="M426.57 264.81l3.85 6.5h-7.7z"/><path d="M427.98 225.41l3.85 6.5h-7.7z"/><path d="M491.72 520.46l3.85 6.5h-7.7z"/><path d="M507.27 505.5l3.85 6.5h-7.7z"/></g>
<g fill="#3D7AC2"><circle cx="446.63" cy="304.19" r="3.1"/></g>
<g fill="#1F6F33"><rect x="301.11" y="447.01" width="5.6" height="5.6"/></g>
<g fill="#3D7AC2"><circle cx="468.64" cy="286.48" r="3.1"/><circle cx="429.3" cy="218.22" r="3.1"/></g>
<g fill="#1F6F33"><rect x="276.82" y="403.02" width="5.6" height="5.6"/></g>
<g fill="#EAC435"><path d="M415.6 275.66l3.85 6.5h-7.7z"/></g>
<g fill="#1F6F33"><rect x="154.48" y="60.62" width="5.6" height="5.6"/></g>
<g fill="#EAC435"><path d="M417.96 99.25l3.85 6.5h-7.7z"/><path d="M383.85 274.23l3.85 6.5h-7.7z"/><path d="M515.3 406.64l3.85 6.5h-7.7z"/><path d="M402.79 350.65l3.85 6.5h-7.7z"/></g>
<g fill="#1F6F33"><rect x="142.38" y="276.19" width="5.6" height="5.6"/></g>
<g fill="#EAC435"><path d="M297.49 297.05l3.85 6.5h-7.7z"/></g>
<g fill="#1F6F33"><rect x="258.44" y="305.78" width="5.6" height="5.6"/></g>
<g fill="#3D7AC2"><circle cx="404.65" cy="185.51" r="3.1"/></g>
<g fill="#EAC435"><path d="M346.78 381.05l3.85 6.5h-7.7z"/></g>
<g fill="#1F6F33"><rect x="281.82" y="299.59" width="5.6" height="5.6"/></g>
<g fill="#3D7AC2"><circle cx="455.03" cy="207.25" r="3.1"/></g>
<g fill="#1F6F33"><rect x="302.07" y="413.3" width="5.6" height="5.6"/></g>
<g fill="#3D7AC2"><circle cx="518.99" cy="399.11" r="3.1"/></g>
<g fill="#EAC435"><path d="M521.5 299.47l3.85 6.5h-7.7z"/><path d="M281.18 278.87l3.85 6.5h-7.7z"/><path d="M443.49 461.68l3.85 6.5h-7.7z"/></g>
<g fill="#3D7AC2"><circle cx="484.75" cy="156.95" r="3.1"/></g>
<g fill="#EAC435"><path d="M396.15 150.67l3.85 6.5h-7.7z"/><path d="M358.86 279.44l3.85 6.5h-7.7z"/><path d="M485.75 349.66l3.85 6.5h-7.7z"/></g>
<g fill="#3D7AC2"><circle cx="450.09" cy="210.49" r="3.1"/></g>
<g fill="#1F6F33"><rect x="252.64" y="176.68" width="5.6" height="5.6"/><rect x="151.12" y="232.94" width="5.6" height="5.6"/></g>
<g fill="#EAC435"><path d="M490.44 451.86l3.85 6.5h-7.7z"/><path d="M413.32 514.98l3.85 6.5h-7.7z"/></g>
<g fill="#1F6F33"><rect x="283.65" y="242.91" width="5.6" height="5.6"/></g>
<g fill="#3D7AC2"><circle cx="509" cy="202.29" r="3.1"/></g>
<g fill="#EAC435"><path d="M349.04 256.89l3.85 6.5h-7.7z"/><path d="M335.08 196.63l3.85 6.5h-7.7z"/><path d="M432.02 296.18l3.85 6.5h-7.7z"/></g>
<g fill="#3D7AC2"><circle cx="605.83" cy="314.59" r="3.1"/></g>
<g fill="#EAC435"><path d="M271.44 179.72l3.85 6.5h-7.7z"/><path d="M516.34 291.13l3.85 6.5h-7.7z"/><path d="M509.44 290.95l3.85 6.5h-7.7z"/><path d="M402.44 317.79l3.85 6.5h-7.7z"/><path d="M524.3 283.09l3.85 6.5h-7.7z"/><path d="M504.45 396.23l3.85 6.5h-7.7z"/></g>
<g fill="#3D7AC2"><circle cx="542.44" cy="180.49" r="3.1"/></g>
<g fill="#1F6F33"><rect x="429.26" y="312.75" width="5.6" height="5.6"/></g>
<g fill="#EAC435"><path d="M248.52 288.93l3.85 6.5h-7.7z"/></g>
<g fill="#3D7AC2"><circle cx="537.19" cy="330.67" r="3.1"/></g>
<g fill="#EAC435"><path d="M487.95 221.31l3.85 6.5h-7.7z"/></g>
<g fill="#3D7AC2"><circle cx="478.52" cy="393.68" r="3.1"/><circle cx="499.67" cy="187.53" r="3.1"/></g>
<g fill="#EAC435"><path d="M458.78 307.41l3.85 6.5h-7.7z"/></g>
<g fill="#3D7AC2"><circle cx="490.66" cy="591.12" r="3.1"/></g>
<g fill="#1F6F33"><rect x="305.27" y="392.43" width="5.6" height="5.6"/></g>
<g fill="#EAC435"><path d="M389.43 425.17l3.85 6.5h-7.7z"/><path d="M432.87 482.76l3.85 6.5h-7.7z"/><path d="M285.49 480.76l3.85 6.5h-7.7z"/><path d="M489.88 331.74l3.85 6.5h-7.7z"/></g>
<g fill="#3D7AC2"><circle cx="494.29" cy="145.79" r="3.1"/></g>
<g fill="#EAC435"><path d="M412.96 600.05l3.85 6.5h-7.7z"/><path d="M264.54 108.55l3.85 6.5h-7.7z"/><path d="M511.72 252.11l3.85 6.5h-7.7z"/></g>
<g fill="#1F6F33"><rect x="329.71" y="305.03" width="5.6" height="5.6"/></g>
<g fill="#3D7AC2"><circle cx="438.35" cy="102.94" r="3.1"/></g>
<g fill="#EAC435"><path d="M411.62 571.81l3.85 6.5h-7.7z"/><path d="M271.34 79.49l3.85 6.5h-7.7z"/></g>
<g fill="#3D7AC2"><circle cx="497.39" cy="331.46" r="3.1"/></g>
<g fill="#EAC435"><path d="M408.16 504.14l3.85 6.5h-7.7z"/><path d="M344.37 301.72l3.85 6.5h-7.7z"/><path d="M395.6 418.01l3.85 6.5h-7.7z"/></g>
<g fill="#3D7AC2"><circle cx="467.54" cy="154.79" r="3.1"/></g>
<g fill="#EAC435"><path d="M470.16 135.54l3.85 6.5h-7.7z"/><path d="M489.31 561.7l3.85 6.5h-7.7z"/></g>
<g fill="#3D7AC2"><circle cx="419.77" cy="109.73" r="3.1"/><circle cx="441.2" cy="30.48" r="3.1"/></g>
<g fill="#EAC435"><path d="M354.7 106.6l3.85 6.5h-7.7z"/></g>
<g fill="#3D7AC2"><circle cx="449.71" cy="524.84" r="3.1"/><circle cx="445.51" cy="178.35" r="3.1"/></g>
<g fill="#EAC435"><path d="M335.02 462.75l3.85 6.5h-7.7z"/><path d="M486.55 256.24l3.85 6.5h-7.7z"/><path d="M464.27 456.46l3.85 6.5h-7.7z"/></g>
<g fill="#1F6F33"><rect x="322.54" y="487.52" width="5.6" height="5.6"/></g>
<g fill="#3D7AC2"><circle cx="453.5" cy="145.57" r="3.1"/></g>
<g fill="#EAC435"><path d="M393.52 427.69l3.85 6.5h-7.7z"/><path d="M421.94 132.95l3.85 6.5h-7.7z"/><path d="M387.54 353.83l3.85 6.5h-7.7z"/><path d="M491.64 281.61l3.85 6.5h-7.7z"/><path d="M522.5 292.45l3.85 6.5h-7.7z"/><path d="M465.37 491.53l3.85 6.5h-7.7z"/></g>
<g fill="#3D7AC2"><circle cx="499.29" cy="215.34" r="3.1"/><circle cx="485.99" cy="175.35" r="3.1"/></g>
<g fill="#EAC435"><path d="M211.8 247.1l3.85 6.5h-7.7z"/></g>
<g fill="#3D7AC2"><circle cx="472.61" cy="49.86" r="3.1"/></g>
<g fill="#EAC435"><path d="M436.29 418.67l3.85 6.5h-7.7z"/><path d="M349.47 330.53l3.85 6.5h-7.7z"/></g>
<g fill="#1F6F33"><rect x="305.32" y="463.14" width="5.6" height="5.6"/></g>
<g fill="#EAC435"><path d="M314.97 438.53l3.85 6.5h-7.7z"/></g>
<g fill="#3D7AC2"><circle cx="451.52" cy="243.48" r="3.1"/></g>
<g fill="#EAC435"><path d="M469.16 362.17l3.85 6.5h-7.7z"/><path d="M308.19 366.27l3.85 6.5h-7.7z"/><path d="M449.28 473.63l3.85 6.5h-7.7z"/><path d="M428.35 403.41l3.85 6.5h-7.7z"/><path d="M364.55 129.47l3.85 6.5h-7.7z"/><path d="M340.87 449.33l3.85 6.5h-7.7z"/><path d="M392.8 97.19l3.85 6.5h-7.7z"/><path d="M330.1 515.88l3.85 6.5h-7.7z"/><path d="M432.58 341.67l3.85 6.5h-7.7z"/><path d="M405.15 415.58l3.85 6.5h-7.7z"/><path d="M401.58 514.57l3.85 6.5h-7.7z"/><path d="M401.08 282.4l3.85 6.5h-7.7z"/><path d="M441.44 198.42l3.85 6.5h-7.7z"/><path d="M461.33 254.87l3.85 6.5h-7.7z"/><path d="M342.84 429.32l3.85 6.5h-7.7z"/><path d="M431.31 262.92l3.85 6.5h-7.7z"/><path d="M380.92 205.72l3.85 6.5h-7.7z"/><path d="M315.6 170.99l3.85 6.5h-7.7z"/><path d="M441.54 359.45l3.85 6.5h-7.7z"/><path d="M364.55 312.99l3.85 6.5h-7.7z"/><path d="M450.02 240.22l3.85 6.5h-7.7z"/><path d="M431.77 470.33l3.85 6.5h-7.7z"/><path d="M369.63 302.77l3.85 6.5h-7.7z"/><path d="M375.69 182.81l3.85 6.5h-7.7z"/><path d="M320.61 359.43l3.85 6.5h-7.7z"/><path d="M347.32 205.04l3.85 6.5h-7.7z"/><path d="M408.81 460.62l3.85 6.5h-7.7z"/><path d="M406.38 306.15l3.85 6.5h-7.7z"/><path d="M338.62 179.75l3.85 6.5h-7.7z"/><path d="M413.13 600.02l3.85 6.5h-7.7z"/><path d="M399.9 218.71l3.85 6.5h-7.7z"/><path d="M485.23 401.54l3.85 6.5h-7.7z"/><path d="M436.89 274.43l3.85 6.5h-7.7z"/><path d="M342.63 426.75l3.85 6.5h-7.7z"/><path d="M429.08 273.88l3.85 6.5h-7.7z"/><path d="M363.49 208.01l3.85 6.5h-7.7z"/><path d="M407.08 513.41l3.85 6.5h-7.7z"/><path d="M348.81 353.84l3.85 6.5h-7.7z"/><path d="M339.11 270.75l3.85 6.5h-7.7z"/><path d="M405.05 162.61l3.85 6.5h-7.7z"/><path d="M426.15 283.25l3.85 6.5h-7.7z"/><path d="M509.74 336.9l3.85 6.5h-7.7z"/><path d="M273.19 384.1l3.85 6.5h-7.7z"/><path d="M400.91 460.19l3.85 6.5h-7.7z"/><path d="M450.61 451.61l3.85 6.5h-7.7z"/><path d="M462.2 270.45l3.85 6.5h-7.7z"/><path d="M470.64 478.8l3.85 6.5h-7.7z"/><path d="M407.99 271.09l3.85 6.5h-7.7z"/><path d="M351.79 303.6l3.85 6.5h-7.7z"/><path d="M435.09 298.17l3.85 6.5h-7.7z"/><path d="M478.76 278.86l3.85 6.5h-7.7z"/><path d="M473.22 194.33l3.85 6.5h-7.7z"/><path d="M463.43 260.23l3.85 6.5h-7.7z"/><path d="M459.82 393.77l3.85 6.5h-7.7z"/><path d="M456.82 343.66l3.85 6.5h-7.7z"/><path d="M480.78 362.17l3.85 6.5h-7.7z"/><path d="M373.49 441.15l3.85 6.5h-7.7z"/><path d="M319.68 210.2l3.85 6.5h-7.7z"/><path d="M502.53 580.08l3.85 6.5h-7.7z"/><path d="M480.34 364.21l3.85 6.5h-7.7z"/><path d="M454.15 165.37l3.85 6.5h-7.7z"/><path d="M457.54 417.75l3.85 6.5h-7.7z"/><path d="M456.46 420.84l3.85 6.5h-7.7z"/><path d="M372.39 360.63l3.85 6.5h-7.7z"/><path d="M362.03 386.33l3.85 6.5h-7.7z"/><path d="M313.58 511.13l3.85 6.5h-7.7z"/><path d="M480.86 298.71l3.85 6.5h-7.7z"/><path d="M412.38 414.16l3.85 6.5h-7.7z"/><path d="M424.26 551.67l3.85 6.5h-7.7z"/><path d="M311.06 352.14l3.85 6.5h-7.7z"/><path d="M414.65 256.57l3.85 6.5h-7.7z"/><path d="M442.26 274.76l3.85 6.5h-7.7z"/><path d="M482.75 428.33l3.85 6.5h-7.7z"/><path d="M511.69 134.95l3.85 6.5h-7.7z"/><path d="M388.85 373.87l3.85 6.5h-7.7z"/><path d="M405.61 399.22l3.85 6.5h-7.7z"/><path d="M424.98 472.7l3.85 6.5h-7.7z"/><path d="M345.78 116.54l3.85 6.5h-7.7z"/><path d="M512.74 311.44l3.85 6.5h-7.7z"/><path d="M372.65 274.09l3.85 6.5h-7.7z"/><path d="M488.36 478.23l3.85 6.5h-7.7z"/><path d="M450.16 436.78l3.85 6.5h-7.7z"/><path d="M444.22 370.18l3.85 6.5h-7.7z"/><path d="M421.54 231.16l3.85 6.5h-7.7z"/><path d="M320.77 165.22l3.85 6.5h-7.7z"/><path d="M271.38 403.7l3.85 6.5h-7.7z"/><path d="M236.62 365.53l3.85 6.5h-7.7z"/><path d="M497.51 249.71l3.85 6.5h-7.7z"/><path d="M414.34 315.88l3.85 6.5h-7.7z"/><path d="M455.51 518.36l3.85 6.5h-7.7z"/><path d="M468.44 154l3.85 6.5h-7.7z"/><path d="M467.94 195.05l3.85 6.5h-7.7z"/><path d="M365.12 377.7l3.85 6.5h-7.7z"/><path d="M359.03 471.06l3.85 6.5h-7.7z"/><path d="M369.1 319.73l3.85 6.5h-7.7z"/><path d="M429.01 317.35l3.85 6.5h-7.7z"/><path d="M308.3 233.05l3.85 6.5h-7.7z"/><path d="M516.93 381.25l3.85 6.5h-7.7z"/><path d="M397.13 179.11l3.85 6.5h-7.7z"/><path d="M415.3 341.44l3.85 6.5h-7.7z"/><path d="M371.6 147.28l3.85 6.5h-7.7z"/><path d="M397.03 525.13l3.85 6.5h-7.7z"/><path d="M496.52 530.67l3.85 6.5h-7.7z"/><path d="M466.7 247.26l3.85 6.5h-7.7z"/><path d="M386.89 208.92l3.85 6.5h-7.7z"/><path d="M416.62 342.48l3.85 6.5h-7.7z"/><path d="M309.24 265.29l3.85 6.5h-7.7z"/><path d="M295.08 490.94l3.85 6.5h-7.7z"/><path d="M401.15 465.59l3.85 6.5h-7.7z"/><path d="M375.82 311.92l3.85 6.5h-7.7z"/><path d="M393.37 429.51l3.85 6.5h-7.7z"/><path d="M460.52 369.13l3.85 6.5h-7.7z"/><path d="M403.12 334.02l3.85 6.5h-7.7z"/><path d="M537.95 450.13l3.85 6.5h-7.7z"/><path d="M479.7 343.14l3.85 6.5h-7.7z"/><path d="M490.83 355.69l3.85 6.5h-7.7z"/><path d="M493.43 304.33l3.85 6.5h-7.7z"/><path d="M451.55 250.66l3.85 6.5h-7.7z"/><path d="M322.6 231.84l3.85 6.5h-7.7z"/><path d="M387.44 400.62l3.85 6.5h-7.7z"/><path d="M356.92 511.11l3.85 6.5h-7.7z"/><path d="M529.21 440.25l3.85 6.5h-7.7z"/><path d="M479.95 438.62l3.85 6.5h-7.7z"/><path d="M431.1 260.15l3.85 6.5h-7.7z"/><path d="M434.75 325.61l3.85 6.5h-7.7z"/><path d="M525.74 259.06l3.85 6.5h-7.7z"/><path d="M460.84 286.5l3.85 6.5h-7.7z"/><path d="M349.28 262.58l3.85 6.5h-7.7z"/><path d="M533.84 393.09l3.85 6.5h-7.7z"/><path d="M374.34 364.83l3.85 6.5h-7.7z"/><path d="M338.5 444.42l3.85 6.5h-7.7z"/><path d="M451.32 241.78l3.85 6.5h-7.7z"/><path d="M456.8 325.77l3.85 6.5h-7.7z"/><path d="M392.7 178.25l3.85 6.5h-7.7z"/><path d="M305.79 235.72l3.85 6.5h-7.7z"/><path d="M461.44 190.31l3.85 6.5h-7.7z"/><path d="M326.86 277.1l3.85 6.5h-7.7z"/><path d="M325.95 461.55l3.85 6.5h-7.7z"/><path d="M508.95 433.37l3.85 6.5h-7.7z"/><path d="M449.35 409.48l3.85 6.5h-7.7z"/><path d="M475.42 256.07l3.85 6.5h-7.7z"/><path d="M388.62 372.82l3.85 6.5h-7.7z"/><path d="M300.99 354.57l3.85 6.5h-7.7z"/><path d="M502.44 309.11l3.85 6.5h-7.7z"/><path d="M364.14 211.01l3.85 6.5h-7.7z"/><path d="M426.13 266.3l3.85 6.5h-7.7z"/><path d="M328.14 201.94l3.85 6.5h-7.7z"/><path d="M459.52 268.1l3.85 6.5h-7.7z"/><path d="M338.57 468.8l3.85 6.5h-7.7z"/><path d="M534.35 381.92l3.85 6.5h-7.7z"/><path d="M475.89 286.43l3.85 6.5h-7.7z"/><path d="M536.2 415.31l3.85 6.5h-7.7z"/><path d="M411.43 185.59l3.85 6.5h-7.7z"/><path d="M464.63 301.98l3.85 6.5h-7.7z"/><path d="M507.47 106.4l3.85 6.5h-7.7z"/><path d="M415.33 298.28l3.85 6.5h-7.7z"/><path d="M360.93 352.28l3.85 6.5h-7.7z"/><path d="M415.82 366.08l3.85 6.5h-7.7z"/><path d="M512.89 212.7l3.85 6.5h-7.7z"/><path d="M424.04 221.6l3.85 6.5h-7.7z"/><path d="M431.5 595.54l3.85 6.5h-7.7z"/><path d="M430.22 568.45l3.85 6.5h-7.7z"/><path d="M402.19 401.09l3.85 6.5h-7.7z"/><path d="M415.09 335.76l3.85 6.5h-7.7z"/><path d="M492.86 319.04l3.85 6.5h-7.7z"/><path d="M463.41 283.22l3.85 6.5h-7.7z"/><path d="M454.36 451.04l3.85 6.5h-7.7z"/><path d="M480.73 381.63l3.85 6.5h-7.7z"/><path d="M328.1 169.37l3.85 6.5h-7.7z"/><path d="M370.57 359.91l3.85 6.5h-7.7z"/><path d="M373.08 578.53l3.85 6.5h-7.7z"/><path d="M535.12 419.63l3.85 6.5h-7.7z"/><path d="M405.66 315.45l3.85 6.5h-7.7z"/><path d="M419.85 277.52l3.85 6.5h-7.7z"/><path d="M404.2 552.9l3.85 6.5h-7.7z"/><path d="M446.76 420.64l3.85 6.5h-7.7z"/><path d="M298.99 236.34l3.85 6.5h-7.7z"/><path d="M365.14 218.25l3.85 6.5h-7.7z"/><path d="M331.55 479.74l3.85 6.5h-7.7z"/><path d="M452.57 258.23l3.85 6.5h-7.7z"/><path d="M238.55 368.11l3.85 6.5h-7.7z"/><path d="M440.94 250.07l3.85 6.5h-7.7z"/><path d="M398.4 199.09l3.85 6.5h-7.7z"/><path d="M430.6 399.79l3.85 6.5h-7.7z"/><path d="M447.84 370.46l3.85 6.5h-7.7z"/><path d="M364.6 533l3.85 6.5h-7.7z"/><path d="M514.9 365.19l3.85 6.5h-7.7z"/><path d="M308.13 390.6l3.85 6.5h-7.7z"/><path d="M371.9 164.1l3.85 6.5h-7.7z"/><path d="M259.09 246.46l3.85 6.5h-7.7z"/><path d="M403.28 466.72l3.85 6.5h-7.7z"/><path d="M473.45 405.37l3.85 6.5h-7.7z"/><path d="M515.6 192.39l3.85 6.5h-7.7z"/><path d="M259.95 160.8l3.85 6.5h-7.7z"/><path d="M375.16 150l3.85 6.5h-7.7z"/><path d="M263.89 137.29l3.85 6.5h-7.7z"/><path d="M429.06 311.01l3.85 6.5h-7.7z"/><path d="M467.08 330.71l3.85 6.5h-7.7z"/><path d="M338.93 256.25l3.85 6.5h-7.7z"/><path d="M341.03 66.26l3.85 6.5h-7.7z"/><path d="M301.42 468.73l3.85 6.5h-7.7z"/><path d="M428.33 343.18l3.85 6.5h-7.7z"/><path d="M300.92 73.88l3.85 6.5h-7.7z"/><path d="M395.66 408.78l3.85 6.5h-7.7z"/><path d="M468.18 296.08l3.85 6.5h-7.7z"/><path d="M508.77 207.12l3.85 6.5h-7.7z"/><path d="M459.88 294.11l3.85 6.5h-7.7z"/><path d="M496.9 443.85l3.85 6.5h-7.7z"/><path d="M431.88 282.27l3.85 6.5h-7.7z"/><path d="M304.66 370.96l3.85 6.5h-7.7z"/><path d="M328.48 376.95l3.85 6.5h-7.7z"/><path d="M404.29 182.63l3.85 6.5h-7.7z"/><path d="M217.56 538.2l3.85 6.5h-7.7z"/><path d="M342.99 267.02l3.85 6.5h-7.7z"/><path d="M301.32 333.34l3.85 6.5h-7.7z"/><path d="M392.76 300.01l3.85 6.5h-7.7z"/><path d="M463.2 530.39l3.85 6.5h-7.7z"/><path d="M362.39 427.83l3.85 6.5h-7.7z"/><path d="M408.92 231.62l3.85 6.5h-7.7z"/><path d="M383.4 290.26l3.85 6.5h-7.7z"/><path d="M345.48 352.34l3.85 6.5h-7.7z"/><path d="M364.1 480.51l3.85 6.5h-7.7z"/><path d="M341.03 104.14l3.85 6.5h-7.7z"/><path d="M461.52 242.02l3.85 6.5h-7.7z"/><path d="M449.31 337.9l3.85 6.5h-7.7z"/><path d="M322.93 233.52l3.85 6.5h-7.7z"/><path d="M369.71 228.34l3.85 6.5h-7.7z"/><path d="M353.55 123.03l3.85 6.5h-7.7z"/><path d="M407.25 452.75l3.85 6.5h-7.7z"/><path d="M500.76 300.58l3.85 6.5h-7.7z"/><path d="M337.51 242.12l3.85 6.5h-7.7z"/><path d="M281.19 341.55l3.85 6.5h-7.7z"/><path d="M446.85 278.41l3.85 6.5h-7.7z"/><path d="M496.44 468.37l3.85 6.5h-7.7z"/><path d="M471.64 398.33l3.85 6.5h-7.7z"/><path d="M387.12 184.84l3.85 6.5h-7.7z"/><path d="M567 305.91l3.85 6.5h-7.7z"/><path d="M397.52 381.74l3.85 6.5h-7.7z"/><path d="M332.79 293.94l3.85 6.5h-7.7z"/><path d="M380.59 276.82l3.85 6.5h-7.7z"/><path d="M264.12 158.41l3.85 6.5h-7.7z"/><path d="M511.62 516.6l3.85 6.5h-7.7z"/><path d="M368.88 351.74l3.85 6.5h-7.7z"/><path d="M379.76 291.34l3.85 6.5h-7.7z"/><path d="M369.92 324.89l3.85 6.5h-7.7z"/><path d="M340.32 394.59l3.85 6.5h-7.7z"/><path d="M377.29 392.52l3.85 6.5h-7.7z"/><path d="M355.84 174.9l3.85 6.5h-7.7z"/><path d="M441.18 368.84l3.85 6.5h-7.7z"/><path d="M341.45 415.01l3.85 6.5h-7.7z"/><path d="M351.11 49.23l3.85 6.5h-7.7z"/><path d="M500.52 214.85l3.85 6.5h-7.7z"/><path d="M469.9 316.36l3.85 6.5h-7.7z"/><path d="M350.15 552.88l3.85 6.5h-7.7z"/><path d="M344.76 446.66l3.85 6.5h-7.7z"/><path d="M399.77 409.86l3.85 6.5h-7.7z"/><path d="M357.2 476.66l3.85 6.5h-7.7z"/><path d="M451.86 283.37l3.85 6.5h-7.7z"/><path d="M467.17 138.45l3.85 6.5h-7.7z"/><path d="M454.11 558.47l3.85 6.5h-7.7z"/><path d="M431.24 444.59l3.85 6.5h-7.7z"/><path d="M381.46 325.42l3.85 6.5h-7.7z"/><path d="M521.63 337.17l3.85 6.5h-7.7z"/><path d="M503.31 488.86l3.85 6.5h-7.7z"/><path d="M514.03 433.37l3.85 6.5h-7.7z"/><path d="M382.4 471.89l3.85 6.5h-7.7z"/><path d="M446.51 370.02l3.85 6.5h-7.7z"/><path d="M453.04 411.93l3.85 6.5h-7.7z"/><path d="M539.33 453.23l3.85 6.5h-7.7z"/><path d="M479.78 293l3.85 6.5h-7.7z"/><path d="M419.41 177.03l3.85 6.5h-7.7z"/><path d="M378.28 241.27l3.85 6.5h-7.7z"/><path d="M438.9 343.36l3.85 6.5h-7.7z"/><path d="M455.71 94.28l3.85 6.5h-7.7z"/><path d="M323.58 346.54l3.85 6.5h-7.7z"/><path d="M525.39 132.65l3.85 6.5h-7.7z"/><path d="M346.88 401.93l3.85 6.5h-7.7z"/><path d="M456.93 251.67l3.85 6.5h-7.7z"/><path d="M405.13 379.17l3.85 6.5h-7.7z"/><path d="M422.82 563.97l3.85 6.5h-7.7z"/><path d="M358.23 262.37l3.85 6.5h-7.7z"/><path d="M311.71 259.47l3.85 6.5h-7.7z"/><path d="M410.35 360.8l3.85 6.5h-7.7z"/><path d="M254.3 315.66l3.85 6.5h-7.7z"/><path d="M361.15 173l3.85 6.5h-7.7z"/><path d="M410.2 351.78l3.85 6.5h-7.7z"/><path d="M472.55 274.96l3.85 6.5h-7.7z"/><path d="M287.14 405.91l3.85 6.5h-7.7z"/><path d="M364.23 506.12l3.85 6.5h-7.7z"/><path d="M313.02 541.85l3.85 6.5h-7.7z"/><path d="M374.95 376.24l3.85 6.5h-7.7z"/><path d="M429.94 353.01l3.85 6.5h-7.7z"/><path d="M420.03 357.96l3.85 6.5h-7.7z"/><path d="M432.8 247.83l3.85 6.5h-7.7z"/><path d="M346.61 402.42l3.85 6.5h-7.7z"/><path d="M441.22 491.34l3.85 6.5h-7.7z"/><path d="M460.64 371.16l3.85 6.5h-7.7z"/><path d="M473.37 170.6l3.85 6.5h-7.7z"/><path d="M467.58 315.38l3.85 6.5h-7.7z"/><path d="M459.78 280.54l3.85 6.5h-7.7z"/><path d="M434.45 139.73l3.85 6.5h-7.7z"/><path d="M419.2 413.05l3.85 6.5h-7.7z"/><path d="M477.88 133.62l3.85 6.5h-7.7z"/><path d="M533.07 352.72l3.85 6.5h-7.7z"/><path d="M416.25 311.29l3.85 6.5h-7.7z"/><path d="M467.95 295.66l3.85 6.5h-7.7z"/><path d="M277.11 204.17l3.85 6.5h-7.7z"/><path d="M367.04 436.91l3.85 6.5h-7.7z"/><path d="M382.44 121.07l3.85 6.5h-7.7z"/><path d="M386.08 357.46l3.85 6.5h-7.7z"/><path d="M448.14 401.09l3.85 6.5h-7.7z"/><path d="M377.62 139.26l3.85 6.5h-7.7z"/><path d="M394.15 293.45l3.85 6.5h-7.7z"/><path d="M462.01 218.72l3.85 6.5h-7.7z"/><path d="M342.43 431.85l3.85 6.5h-7.7z"/><path d="M436.47 238.69l3.85 6.5h-7.7z"/><path d="M456.17 389.93l3.85 6.5h-7.7z"/><path d="M438.08 442.89l3.85 6.5h-7.7z"/><path d="M425.46 137.27l3.85 6.5h-7.7z"/><path d="M438.99 220.96l3.85 6.5h-7.7z"/><path d="M478.35 282.69l3.85 6.5h-7.7z"/><path d="M311.29 211.07l3.85 6.5h-7.7z"/><path d="M413.69 382.65l3.85 6.5h-7.7z"/><path d="M409.52 207.88l3.85 6.5h-7.7z"/><path d="M383.24 308.92l3.85 6.5h-7.7z"/><path d="M321.4 288.95l3.85 6.5h-7.7z"/><path d="M359.9 352.49l3.85 6.5h-7.7z"/><path d="M402.83 150.36l3.85 6.5h-7.7z"/><path d="M318.62 397.16l3.85 6.5h-7.7z"/><path d="M431.16 208.61l3.85 6.5h-7.7z"/><path d="M391 472.97l3.85 6.5h-7.7z"/><path d="M313.76 296.26l3.85 6.5h-7.7z"/><path d="M381.02 441.19l3.85 6.5h-7.7z"/><path d="M522.93 284.07l3.85 6.5h-7.7z"/><path d="M337.98 381.77l3.85 6.5h-7.7z"/><path d="M331.4 384.17l3.85 6.5h-7.7z"/><path d="M415.84 377.49l3.85 6.5h-7.7z"/><path d="M380.89 151.09l3.85 6.5h-7.7z"/><path d="M364.78 371.08l3.85 6.5h-7.7z"/><path d="M352.93 321.32l3.85 6.5h-7.7z"/><path d="M515.99 370.42l3.85 6.5h-7.7z"/></g>
<path d="M579.9 300.09L579.68 314.89L579.03 329.49L577.96 343.81L576.45 357.8L574.53 371.4L572.2 384.54L569.46 397.18L566.34 409.25L562.84 420.72L558.99 431.51L554.79 441.61L550.26 450.94L545.43 459.49L540.31 467.21L534.92 474.07L529.3 480.03L523.46 485.08L517.43 489.19L511.23 492.35L504.89 494.53L498.44 495.74L491.91 495.96L485.32 495.2L478.7 493.46L472.08 490.74L465.49 487.06L458.96 482.44L452.51 476.89L446.17 470.43L439.97 463.1L433.94 454.92L428.1 445.94L422.48 436.19L417.09 425.7L411.97 414.54L407.14 402.73L402.61 390.34L398.41 377.42L394.56 364.02L391.06 350.21L387.94 336.03L385.2 321.55L382.87 306.83L380.95 291.94L379.44 276.94L378.37 261.89L377.72 246.86L377.5 231.91L377.72 217.11L378.37 202.51L379.44 188.19L380.95 174.2L382.87 160.6L385.2 147.46L387.94 134.82L391.06 122.75L394.56 111.28L398.41 100.49L402.61 90.39L407.14 81.06L411.97 72.51L417.09 64.79L422.48 57.93L428.1 51.97L433.94 46.92L439.97 42.81L446.17 39.65L452.51 37.47L458.96 36.26L465.49 36.04L472.08 36.8L478.7 38.54L485.32 41.26L491.91 44.94L498.44 49.56L504.89 55.11L511.23 61.57L517.43 68.9L523.46 77.08L529.3 86.06L534.92 95.81L540.31 106.3L545.43 117.46L550.26 129.27L554.79 141.66L558.99 154.58L562.84 167.98L566.34 181.79L569.46 195.97L572.2 210.45L574.53 225.17L576.45 240.06L577.96 255.06L579.03 270.11L579.68 285.14Z" fill="#3183BB" fill-opacity="0.2"/>
<path d="M554 381.37L553.69 396.19L552.78 410.76L551.26 425.01L549.14 438.88L546.44 452.32L543.15 465.25L539.3 477.64L534.91 489.42L529.98 500.55L524.55 510.97L518.64 520.65L512.26 529.54L505.46 537.6L498.25 544.8L490.67 551.11L482.75 556.5L474.53 560.95L466.03 564.43L457.31 566.95L448.38 568.47L439.3 569L430.1 568.53L420.82 567.08L411.5 564.63L402.18 561.21L392.9 556.82L383.7 551.49L374.62 545.24L365.69 538.1L356.97 530.09L348.47 521.26L340.25 511.63L332.33 501.26L324.75 490.17L317.54 478.43L310.74 466.09L304.36 453.18L298.45 439.78L293.02 425.94L288.09 411.71L283.7 397.16L279.85 382.35L276.56 367.34L273.86 352.2L271.74 337L270.22 321.79L269.31 306.65L269 291.63L269.31 276.81L270.22 262.24L271.74 247.99L273.86 234.12L276.56 220.68L279.85 207.75L283.7 195.36L288.09 183.58L293.02 172.45L298.45 162.03L304.36 152.35L310.74 143.46L317.54 135.4L324.75 128.2L332.33 121.89L340.25 116.5L348.47 112.05L356.97 108.57L365.69 106.05L374.62 104.53L383.7 104L392.9 104.47L402.18 105.92L411.5 108.37L420.82 111.79L430.1 116.18L439.3 121.51L448.38 127.76L457.31 134.9L466.03 142.91L474.53 151.74L482.75 161.37L490.67 171.74L498.25 182.83L505.46 194.57L512.26 206.91L518.64 219.82L524.55 233.22L529.98 247.06L534.91 261.29L539.3 275.84L543.15 290.65L546.44 305.66L549.14 320.8L551.26 336L552.78 351.21L553.69 366.35Z" fill="#E1D755" fill-opacity="0.2"/>
<path d="M433.9 368.23L433.59 383.76L432.67 399.09L431.14 414.16L429 428.89L426.27 443.23L422.96 457.11L419.08 470.47L414.65 483.25L409.68 495.41L404.2 506.89L398.24 517.64L391.81 527.61L384.95 536.76L377.68 545.06L370.04 552.46L362.05 558.93L353.76 564.46L345.19 569L336.39 572.55L327.39 575.09L318.23 576.61L308.96 577.1L299.6 576.56L290.2 574.99L280.8 572.39L271.44 568.79L262.17 564.19L253.01 558.62L244.01 552.1L235.21 544.65L226.64 536.31L218.35 527.11L210.36 517.1L202.72 506.31L195.45 494.8L188.59 482.6L182.16 469.78L176.2 456.39L170.72 442.49L165.75 428.13L161.32 413.38L157.44 398.3L154.13 382.95L151.4 367.41L149.26 351.73L147.73 335.99L146.81 320.25L146.5 304.57L146.81 289.04L147.73 273.71L149.26 258.64L151.4 243.91L154.13 229.57L157.44 215.69L161.32 202.33L165.75 189.55L170.72 177.39L176.2 165.91L182.16 155.16L188.59 145.19L195.45 136.04L202.72 127.74L210.36 120.34L218.35 113.87L226.64 108.34L235.21 103.8L244.01 100.25L253.01 97.71L262.17 96.19L271.44 95.7L280.8 96.24L290.2 97.81L299.6 100.41L308.96 104.01L318.23 108.61L327.39 114.18L336.39 120.7L345.19 128.15L353.76 136.49L362.05 145.69L370.04 155.7L377.68 166.49L384.95 178L391.81 190.2L398.24 203.02L404.2 216.41L409.68 230.31L414.65 244.67L419.08 259.42L422.96 274.5L426.27 289.85L429 305.39L431.14 321.07L432.67 336.81L433.59 352.55Z" fill="#148250" fill-opacity="0.2"/>
<rect x="84.2" y="1.5" width="649.3" height="639.8" fill="none" stroke="#3b3b3b" stroke-width="1.4"/>
<line x1="113.71" y1="641.3" x2="113.71" y2="647.3" stroke="#3b3b3b" stroke-width="1.8"/>
<text x="113.71" y="669.7" font-size="24" text-anchor="middle">-10</text>
<line x1="78.2" y1="612.22" x2="84.2" y2="612.22" stroke="#3b3b3b" stroke-width="1.8"/>
<text x="73.3" y="620.82" font-size="24" text-anchor="end">-10</text>
<line x1="261.28" y1="641.3" x2="261.28" y2="647.3" stroke="#3b3b3b" stroke-width="1.8"/>
<text x="261.28" y="669.7" font-size="24" text-anchor="middle">-5</text>
<line x1="78.2" y1="466.81" x2="84.2" y2="466.81" stroke="#3b3b3b" stroke-width="1.8"/>
<text x="73.3" y="475.41" font-size="24" text-anchor="end">-5</text>
<line x1="408.85" y1="641.3" x2="408.85" y2="647.3" stroke="#3b3b3b" stroke-width="1.8"/>
<text x="408.85" y="669.7" font-size="24" text-anchor="middle">0</text>
<line x1="78.2" y1="321.4" x2="84.2" y2="321.4" stroke="#3b3b3b" stroke-width="1.8"/>
<text x="73.3" y="330" font-size="24" text-anchor="end">0</text>
<line x1="556.42" y1="641.3" x2="556.42" y2="647.3" stroke="#3b3b3b" stroke-width="1.8"/>
<text x="556.42" y="669.7" font-size="24" text-anchor="middle">5</text>
<line x1="78.2" y1="175.99" x2="84.2" y2="175.99" stroke="#3b3b3b" stroke-width="1.8"/>
<text x="73.3" y="184.59" font-size="24" text-anchor="end">5</text>
<line x1="703.99" y1="641.3" x2="703.99" y2="647.3" stroke="#3b3b3b" stroke-width="1.8"/>
<text x="703.99" y="669.7" font-size="24" text-anchor="middle">10</text>
<line x1="78.2" y1="30.58" x2="84.2" y2="30.58" stroke="#3b3b3b" stroke-width="1.8"/>
<text x="73.3" y="39.18" font-size="24" text-anchor="end">10</text>
<text x="408.85" y="697.8" font-size="24" text-anchor="middle">Component 1 (7.19%)</text>
<text x="22.4" y="321.9" font-size="24" text-anchor="middle" transform="rotate(-90 22.4 321.9)">Compoent 2 (18.6%)</text>
<text x="766.9" y="272.9" font-size="24">Overweight / obesity</text>
<rect x="768.5" y="287.9" width="31.6" height="31.6" fill="#3183BB" fill-opacity="0.2"/>
<g fill="#3D7AC2"><circle cx="784.3" cy="303.7" r="3.1"/></g>
<text x="813.4" y="312.6" font-size="24">Age group 1</text>
<rect x="768.5" y="322.65" width="31.6" height="31.6" fill="#E1D755" fill-opacity="0.2"/>
<g fill="#EAC435"><path d="M784.3 334.35l3.85 6.5h-7.7z"/></g>
<text x="813.4" y="347.35" font-size="24">Age group 2</text>
<rect x="768.5" y="357.4" width="31.6" height="31.6" fill="#148250" fill-opacity="0.2"/>
<g fill="#1F6F33"><rect x="781.5" y="370.4" width="5.6" height="5.6"/></g>
<text x="813.4" y="382.1" font-size="24">Age group 3</text>
<text x="1.2" y="740" font-size="23.5" font-weight="bold">b</text>
<line x1="84.3" y1="1045.7" x2="774" y2="1045.7" stroke="#585858" stroke-width="1.7"/>
<line x1="429.15" y1="725.3" x2="429.15" y2="1365.5" stroke="#585858" stroke-width="1.7"/>
<g fill="#1F6F33"><rect x="252.72" y="1034.31" width="5.6" height="5.6"/></g>
<g fill="#3D7AC2"><circle cx="480.58" cy="1087.79" r="3.1"/></g>
<g fill="#1F6F33"><rect x="330.24" y="1064.61" width="5.6" height="5.6"/></g>
<g fill="#3D7AC2"><circle cx="561.25" cy="962.31" r="3.1"/><circle cx="541.43" cy="968.35" r="3.1"/></g>
<g fill="#1F6F33"><rect x="301.34" y="867.94" width="5.6" height="5.6"/><rect x="204.77" y="912.81" width="5.6" height="5.6"/><rect x="341.87" y="1046.82" width="5.6" height="5.6"/></g>
<g fill="#3D7AC2"><circle cx="560.46" cy="789.08" r="3.1"/><circle cx="506.75" cy="1118.33" r="3.1"/><circle cx="604.38" cy="1219.33" r="3.1"/><circle cx="545.17" cy="955.52" r="3.1"/></g>
<g fill="#1F6F33"><rect x="421.76" y="1148.29" width="5.6" height="5.6"/><rect x="263.1" y="893.48" width="5.6" height="5.6"/><rect x="355.28" y="975.27" width="5.6" height="5.6"/></g>
<g fill="#3D7AC2"><circle cx="486.36" cy="917.65" r="3.1"/><circle cx="702.07" cy="859.67" r="3.1"/><circle cx="708.12" cy="842.41" r="3.1"/><circle cx="456.2" cy="1045.17" r="3.1"/><circle cx="484.5" cy="1056.98" r="3.1"/><circle cx="450.92" cy="989.95" r="3.1"/><circle cx="513.54" cy="1127.75" r="3.1"/><circle cx="626.56" cy="1026.28" r="3.1"/><circle cx="515.02" cy="1046.01" r="3.1"/></g>
<g fill="#1F6F33"><rect x="361.58" y="982.35" width="5.6" height="5.6"/></g>
<g fill="#3D7AC2"><circle cx="442.28" cy="1014.01" r="3.1"/><circle cx="481.76" cy="1205.47" r="3.1"/><circle cx="537.93" cy="918.22" r="3.1"/><circle cx="482.98" cy="937.24" r="3.1"/><circle cx="550.41" cy="912.8" r="3.1"/></g>
<g fill="#1F6F33"><rect x="217.4" y="892.68" width="5.6" height="5.6"/><rect x="342.07" y="1072.69" width="5.6" height="5.6"/><rect x="297.36" y="973.94" width="5.6" height="5.6"/><rect x="331.14" y="1111.94" width="5.6" height="5.6"/></g>
<g fill="#3D7AC2"><circle cx="605.6" cy="957.8" r="3.1"/><circle cx="441.09" cy="1036.53" r="3.1"/><circle cx="356.76" cy="1104.61" r="3.1"/></g>
<g fill="#1F6F33"><rect x="232.65" y="984.92" width="5.6" height="5.6"/><rect x="417.64" y="1126.44" width="5.6" height="5.6"/></g>
<g fill="#3D7AC2"><circle cx="657.69" cy="978.78" r="3.1"/></g>
<g fill="#1F6F33"><rect x="261.49" y="1066.07" width="5.6" height="5.6"/><rect x="270.16" y="963.12" width="5.6" height="5.6"/></g>
<g fill="#3D7AC2"><circle cx="514.55" cy="929.49" r="3.1"/></g>
<g fill="#1F6F33"><rect x="400.38" y="1059.31" width="5.6" height="5.6"/></g>
<g fill="#3D7AC2"><circle cx="465.97" cy="1012.11" r="3.1"/></g>
<g fill="#1F6F33"><rect x="308.03" y="1024.7" width="5.6" height="5.6"/></g>
<g fill="#3D7AC2"><circle cx="512.09" cy="1112.59" r="3.1"/></g>
<g fill="#1F6F33"><rect x="472.22" y="1099.7" width="5.6" height="5.6"/></g>
<g fill="#3D7AC2"><circle cx="514.71" cy="1197.35" r="3.1"/><circle cx="459.76" cy="990.51" r="3.1"/><circle cx="490.44" cy="958.93" r="3.1"/><circle cx="566.49" cy="1029.92" r="3.1"/></g>
<g fill="#1F6F33"><rect x="266.09" y="1131.55" width="5.6" height="5.6"/></g>
<g fill="#3D7AC2"><circle cx="463.06" cy="913.19" r="3.1"/></g>
<g fill="#1F6F33"><rect x="219.7" y="927.84" width="5.6" height="5.6"/><rect x="263.02" y="1089.28" width="5.6" height="5.6"/></g>
<g fill="#3D7AC2"><circle cx="589.25" cy="835.05" r="3.1"/><circle cx="624.74" cy="991.47" r="3.1"/><circle cx="467.55" cy="902.14" r="3.1"/><circle cx="455.2" cy="1049.98" r="3.1"/><circle cx="633.95" cy="1218.65" r="3.1"/><circle cx="507.95" cy="968.3" r="3.1"/><circle cx="550.82" cy="880.9" r="3.1"/><circle cx="454.05" cy="1086.55" r="3.1"/></g>
<g fill="#1F6F33"><rect x="269.41" y="1004.85" width="5.6" height="5.6"/></g>
<g fill="#3D7AC2"><circle cx="496.58" cy="983.84" r="3.1"/><circle cx="457.17" cy="1024.88" r="3.1"/></g>
<g fill="#1F6F33"><rect x="436.1" y="1037.6" width="5.6" height="5.6"/></g>
<g fill="#3D7AC2"><circle cx="517.78" cy="972" r="3.1"/><circle cx="427.12" cy="1031.23" r="3.1"/></g>
<g fill="#1F6F33"><rect x="413.77" y="1088.52" width="5.6" height="5.6"/></g>
<g fill="#3D7AC2"><circle cx="555.88" cy="969.54" r="3.1"/></g>
<g fill="#1F6F33"><rect x="267.61" y="1055.03" width="5.6" height="5.6"/><rect x="279" y="1075.86" width="5.6" height="5.6"/><rect x="277.93" y="766.57" width="5.6" height="5.6"/><rect x="397.22" y="1106.28" width="5.6" height="5.6"/><rect x="347.28" y="975.88" width="5.6" height="5.6"/></g>
<g fill="#3D7AC2"><circle cx="574.41" cy="907.24" r="3.1"/><circle cx="645.42" cy="927.99" r="3.1"/><circle cx="623.24" cy="836.65" r="3.1"/></g>
<g fill="#1F6F33"><rect x="236.21" y="904.83" width="5.6" height="5.6"/><rect x="242.67" y="1038.08" width="5.6" height="5.6"/><rect x="372.69" y="867.67" width="5.6" height="5.6"/></g>
<g fill="#3D7AC2"><circle cx="683.47" cy="831.66" r="3.1"/><circle cx="566.32" cy="1002.43" r="3.1"/></g>
<g fill="#1F6F33"><rect x="311.91" y="862.35" width="5.6" height="5.6"/><rect x="271.23" y="986.82" width="5.6" height="5.6"/><rect x="356.47" y="1001.02" width="5.6" height="5.6"/><rect x="270.54" y="784.72" width="5.6" height="5.6"/></g>
<g fill="#3D7AC2"><circle cx="553.91" cy="992.53" r="3.1"/><circle cx="520" cy="914.97" r="3.1"/><circle cx="445.73" cy="944.7" r="3.1"/></g>
<g fill="#1F6F33"><rect x="247.9" y="890.75" width="5.6" height="5.6"/></g>
<g fill="#3D7AC2"><circle cx="554.29" cy="1021.58" r="3.1"/></g>
<g fill="#1F6F33"><rect x="281.85" y="1002.17" width="5.6" height="5.6"/><rect x="270.17" y="1073.23" width="5.6" height="5.6"/><rect x="339.19" y="1079.78" width="5.6" height="5.6"/></g>
<g fill="#3D7AC2"><circle cx="328.95" cy="1119.36" r="3.1"/></g>
<g fill="#1F6F33"><rect x="234.02" y="756.48" width="5.6" height="5.6"/></g>
<g fill="#3D7AC2"><circle cx="578.31" cy="881.34" r="3.1"/></g>
<g fill="#1F6F33"><rect x="272.68" y="1048.21" width="5.6" height="5.6"/><rect x="413.47" y="1084.84" width="5.6" height="5.6"/></g>
<g fill="#3D7AC2"><circle cx="564.25" cy="927" r="3.1"/></g>
<g fill="#1F6F33"><rect x="444.29" y="1158.83" width="5.6" height="5.6"/></g>
<g fill="#3D7AC2"><circle cx="336.96" cy="1051.66" r="3.1"/><circle cx="548.35" cy="1127.55" r="3.1"/><circle cx="480.86" cy="1089.68" r="3.1"/><circle cx="393.18" cy="1175.95" r="3.1"/></g>
<g fill="#1F6F33"><rect x="307.28" y="1045.83" width="5.6" height="5.6"/></g>
<g fill="#3D7AC2"><circle cx="594.74" cy="802.08" r="3.1"/><circle cx="465.71" cy="1030.33" r="3.1"/><circle cx="577.66" cy="1023.88" r="3.1"/><circle cx="429.04" cy="1030.2" r="3.1"/><circle cx="476.54" cy="1094.92" r="3.1"/></g>
<g fill="#1F6F33"><rect x="380.29" y="1047.06" width="5.6" height="5.6"/><rect x="255.18" y="1059.21" width="5.6" height="5.6"/></g>
<g fill="#3D7AC2"><circle cx="484.06" cy="1081.36" r="3.1"/></g>
<g fill="#1F6F33"><rect x="391.53" y="975.05" width="5.6" height="5.6"/><rect x="263.65" y="1063.98" width="5.6" height="5.6"/></g>
<g fill="#3D7AC2"><circle cx="539.07" cy="985.89" r="3.1"/><circle cx="486.58" cy="978.45" r="3.1"/></g>
<g fill="#1F6F33"><rect x="366.97" y="1082.17" width="5.6" height="5.6"/></g>
<g fill="#3D7AC2"><circle cx="570.7" cy="953.43" r="3.1"/></g>
<g fill="#1F6F33"><rect x="209.47" y="1064.4" width="5.6" height="5.6"/></g>
<g fill="#3D7AC2"><circle cx="567.43" cy="872.6" r="3.1"/><circle cx="443.93" cy="1077.12" r="3.1"/></g>
<g fill="#1F6F33"><rect x="303.6" y="883.45" width="5.6" height="5.6"/></g>
<g fill="#3D7AC2"><circle cx="401.15" cy="1018.8" r="3.1"/></g>
<g fill="#1F6F33"><rect x="210.94" y="993.07" width="5.6" height="5.6"/><rect x="228.85" y="1066.56" width="5.6" height="5.6"/></g>
<g fill="#3D7AC2"><circle cx="523.42" cy="1013.93" r="3.1"/><circle cx="496.6" cy="1071.84" r="3.1"/><circle cx="509.14" cy="1005.06" r="3.1"/></g>
<g fill="#1F6F33"><rect x="336.26" y="1123.71" width="5.6" height="5.6"/></g>
<g fill="#3D7AC2"><circle cx="513.86" cy="969.47" r="3.1"/><circle cx="447.52" cy="1117.67" r="3.1"/></g>
<g fill="#1F6F33"><rect x="296.42" y="874.7" width="5.6" height="5.6"/><rect x="160.97" y="812.95" width="5.6" height="5.6"/><rect x="245.87" y="850.1" width="5.6" height="5.6"/></g>
<g fill="#3D7AC2"><circle cx="627.06" cy="1031.46" r="3.1"/><circle cx="587.55" cy="941.85" r="3.1"/><circle cx="495.53" cy="1029.44" r="3.1"/></g>
<g fill="#1F6F33"><rect x="351.2" y="879.37" width="5.6" height="5.6"/></g>
<g fill="#3D7AC2"><circle cx="632.03" cy="910.7" r="3.1"/><circle cx="378.6" cy="1113.34" r="3.1"/></g>
<g fill="#1F6F33"><rect x="325.26" y="1042.63" width="5.6" height="5.6"/><rect x="228.29" y="961.75" width="5.6" height="5.6"/></g>
<g fill="#3D7AC2"><circle cx="548.82" cy="1149.18" r="3.1"/><circle cx="535.86" cy="1013.97" r="3.1"/><circle cx="476.45" cy="1051.78" r="3.1"/><circle cx="528.94" cy="888.79" r="3.1"/></g>
<g fill="#1F6F33"><rect x="312.92" y="940.02" width="5.6" height="5.6"/><rect x="437.86" y="1009.2" width="5.6" height="5.6"/></g>
<g fill="#3D7AC2"><circle cx="532.16" cy="954.98" r="3.1"/></g>
<g fill="#1F6F33"><rect x="255.2" y="1059.03" width="5.6" height="5.6"/><rect x="329.19" y="1023.31" width="5.6" height="5.6"/></g>
<g fill="#3D7AC2"><circle cx="552.26" cy="1059.95" r="3.1"/></g>
<g fill="#1F6F33"><rect x="351.81" y="875.25" width="5.6" height="5.6"/></g>
<g fill="#3D7AC2"><circle cx="494.27" cy="1146.63" r="3.1"/></g>
<g fill="#1F6F33"><rect x="251.11" y="1097.59" width="5.6" height="5.6"/><rect x="456.68" y="914.34" width="5.6" height="5.6"/><rect x="310.67" y="1022.96" width="5.6" height="5.6"/><rect x="337.41" y="1096.29" width="5.6" height="5.6"/><rect x="339.39" y="1104.84" width="5.6" height="5.6"/></g>
<g fill="#3D7AC2"><circle cx="539.47" cy="875.78" r="3.1"/><circle cx="600.09" cy="868.41" r="3.1"/><circle cx="643.36" cy="1136.42" r="3.1"/></g>
<g fill="#1F6F33"><rect x="119.74" y="899.21" width="5.6" height="5.6"/></g>
<g fill="#3D7AC2"><circle cx="492.79" cy="839.28" r="3.1"/></g>
<g fill="#1F6F33"><rect x="329.44" y="877.5" width="5.6" height="5.6"/><rect x="354.34" y="1004.86" width="5.6" height="5.6"/></g>
<g fill="#3D7AC2"><circle cx="449.16" cy="1068.03" r="3.1"/></g>
<g fill="#1F6F33"><rect x="279.6" y="940.3" width="5.6" height="5.6"/><rect x="232.02" y="930.25" width="5.6" height="5.6"/><rect x="452.12" y="986.87" width="5.6" height="5.6"/></g>
<g fill="#3D7AC2"><circle cx="556.92" cy="867.24" r="3.1"/><circle cx="538.02" cy="1061.46" r="3.1"/></g>
<g fill="#1F6F33"><rect x="340.83" y="862.04" width="5.6" height="5.6"/></g>
<g fill="#3D7AC2"><circle cx="462.8" cy="1126.57" r="3.1"/></g>
<g fill="#1F6F33"><rect x="184.64" y="981.61" width="5.6" height="5.6"/></g>
<g fill="#3D7AC2"><circle cx="544.98" cy="941.36" r="3.1"/><circle cx="504.33" cy="920.05" r="3.1"/><circle cx="487.11" cy="866.41" r="3.1"/><circle cx="518.22" cy="980.2" r="3.1"/><circle cx="550.13" cy="1060.77" r="3.1"/><circle cx="387.04" cy="1228.33" r="3.1"/><circle cx="382.46" cy="884.09" r="3.1"/></g>
<g fill="#1F6F33"><rect x="454.95" y="1118.26" width="5.6" height="5.6"/></g>
<g fill="#3D7AC2"><circle cx="489.26" cy="1010.45" r="3.1"/><circle cx="376.92" cy="1194.83" r="3.1"/></g>
<g fill="#1F6F33"><rect x="370.5" y="968.15" width="5.6" height="5.6"/></g>
<g fill="#3D7AC2"><circle cx="395.87" cy="913.48" r="3.1"/></g>
<g fill="#1F6F33"><rect x="232.76" y="907.94" width="5.6" height="5.6"/><rect x="228.65" y="1071.06" width="5.6" height="5.6"/><rect x="271.73" y="897.79" width="5.6" height="5.6"/></g>
<g fill="#3D7AC2"><circle cx="632.94" cy="962.52" r="3.1"/></g>
<g fill="#1F6F33"><rect x="347.34" y="987.4" width="5.6" height="5.6"/></g>
<g fill="#3D7AC2"><circle cx="582.44" cy="880.56" r="3.1"/><circle cx="535.88" cy="909.14" r="3.1"/></g>
<g fill="#1F6F33"><rect x="354.05" y="918.46" width="5.6" height="5.6"/></g>
<g fill="#3D7AC2"><circle cx="497.77" cy="900.37" r="3.1"/><circle cx="508.97" cy="954.55" r="3.1"/></g>
<g fill="#1F6F33"><rect x="335.37" y="1143.4" width="5.6" height="5.6"/></g>
<g fill="#3D7AC2"><circle cx="493.48" cy="864.25" r="3.1"/><circle cx="499.99" cy="1134.11" r="3.1"/></g>
<g fill="#1F6F33"><rect x="276.79" y="971.67" width="5.6" height="5.6"/></g>
<g fill="#3D7AC2"><circle cx="470.23" cy="909.37" r="3.1"/><circle cx="465.14" cy="1226.18" r="3.1"/></g>
<g fill="#1F6F33"><rect x="335.75" y="943.53" width="5.6" height="5.6"/><rect x="391.24" y="1058.19" width="5.6" height="5.6"/></g>
<g fill="#3D7AC2"><circle cx="438.03" cy="1027.12" r="3.1"/><circle cx="497.69" cy="1007.19" r="3.1"/><circle cx="499.23" cy="934.27" r="3.1"/></g>
<g fill="#1F6F33"><rect x="367.31" y="1046.83" width="5.6" height="5.6"/><rect x="401.23" y="1033.77" width="5.6" height="5.6"/></g>
<g fill="#3D7AC2"><circle cx="456.49" cy="987.15" r="3.1"/></g>
<g fill="#1F6F33"><rect x="287.21" y="1126.44" width="5.6" height="5.6"/></g>
<g fill="#3D7AC2"><circle cx="598.74" cy="961.01" r="3.1"/></g>
<g fill="#1F6F33"><rect x="171.82" y="1028.09" width="5.6" height="5.6"/><rect x="221.82" y="971.04" width="5.6" height="5.6"/></g>
<g fill="#3D7AC2"><circle cx="529.63" cy="896.99" r="3.1"/></g>
<g fill="#1F6F33"><rect x="320.51" y="1123.6" width="5.6" height="5.6"/><rect x="210.18" y="1019.16" width="5.6" height="5.6"/><rect x="237.09" y="1000.48" width="5.6" height="5.6"/></g>
<g fill="#EAC435"><path d="M507.58 1250.85l3.85 6.5h-7.7z"/></g>
<g fill="#1F6F33"><rect x="222.1" y="869.18" width="5.6" height="5.6"/></g>
<g fill="#3D7AC2"><circle cx="568.02" cy="957.11" r="3.1"/></g>
<g fill="#EAC435"><path d="M491.34 1082.6l3.85 6.5h-7.7z"/></g>
<g fill="#3D7AC2"><circle cx="515.12" cy="849.83" r="3.1"/></g>
<g fill="#1F6F33"><rect x="328.99" y="1013.39" width="5.6" height="5.6"/></g>
<g fill="#EAC435"><path d="M370.07 1078.5l3.85 6.5h-7.7z"/><path d="M401.11 1028.58l3.85 6.5h-7.7z"/></g>
<g fill="#3D7AC2"><circle cx="417.42" cy="1085.76" r="3.1"/></g>
<g fill="#1F6F33"><rect x="216.91" y="879.75" width="5.6" height="5.6"/></g>
<g fill="#3D7AC2"><circle cx="454.31" cy="987.35" r="3.1"/></g>
<g fill="#1F6F33"><rect x="353.23" y="1004.97" width="5.6" height="5.6"/></g>
<g fill="#3D7AC2"><circle cx="491.94" cy="1076.48" r="3.1"/></g>
<g fill="#EAC435"><path d="M528.97 986.65l3.85 6.5h-7.7z"/><path d="M428.51 1179.07l3.85 6.5h-7.7z"/></g>
<g fill="#1F6F33"><rect x="326.58" y="1121.52" width="5.6" height="5.6"/><rect x="318.67" y="1065.36" width="5.6" height="5.6"/></g>
<g fill="#3D7AC2"><circle cx="489.25" cy="1121.44" r="3.1"/></g>
<g fill="#EAC435"><path d="M449.6 1148.36l3.85 6.5h-7.7z"/></g>
<g fill="#1F6F33"><rect x="347.44" y="1140.5" width="5.6" height="5.6"/></g>
<g fill="#EAC435"><path d="M438.34 1026.34l3.85 6.5h-7.7z"/></g>
<g fill="#3D7AC2"><circle cx="625.62" cy="928.47" r="3.1"/></g>
<g fill="#1F6F33"><rect x="329.4" y="1127.12" width="5.6" height="5.6"/></g>
<g fill="#EAC435"><path d="M429.73 967.29l3.85 6.5h-7.7z"/></g>
<g fill="#1F6F33"><rect x="264.11" y="1131.89" width="5.6" height="5.6"/></g>
<g fill="#3D7AC2"><circle cx="433.68" cy="942.5" r="3.1"/><circle cx="455.61" cy="1083.72" r="3.1"/></g>
<g fill="#EAC435"><path d="M466.66 988.14l3.85 6.5h-7.7z"/></g>
<g fill="#3D7AC2"><circle cx="553.77" cy="1024.19" r="3.1"/></g>
<g fill="#1F6F33"><rect x="339.48" y="1069.57" width="5.6" height="5.6"/></g>
<g fill="#EAC435"><path d="M472.8 1093.46l3.85 6.5h-7.7z"/></g>
<g fill="#1F6F33"><rect x="356.11" y="1151.61" width="5.6" height="5.6"/></g>
<g fill="#3D7AC2"><circle cx="540.13" cy="1047.57" r="3.1"/></g>
<g fill="#EAC435"><path d="M490.42 1225.66l3.85 6.5h-7.7z"/><path d="M359.55 1064.2l3.85 6.5h-7.7z"/></g>
<g fill="#1F6F33"><rect x="334.12" y="1023.65" width="5.6" height="5.6"/><rect x="404.5" y="1052" width="5.6" height="5.6"/></g>
<g fill="#EAC435"><path d="M391.97 1037.48l3.85 6.5h-7.7z"/><path d="M567.04 1073.31l3.85 6.5h-7.7z"/></g>
<g fill="#1F6F33"><rect x="121.53" y="981.67" width="5.6" height="5.6"/></g>
<g fill="#EAC435"><path d="M329.56 1084.23l3.85 6.5h-7.7z"/></g>
<g fill="#1F6F33"><rect x="335.44" y="1134.34" width="5.6" height="5.6"/></g>
<g fill="#EAC435"><path d="M487.06 1055.28l3.85 6.5h-7.7z"/><path d="M425.45 1114.85l3.85 6.5h-7.7z"/></g>
<g fill="#3D7AC2"><circle cx="539.09" cy="1032.82" r="3.1"/></g>
<g fill="#EAC435"><path d="M466.41 1154.8l3.85 6.5h-7.7z"/><path d="M404.66 1203.29l3.85 6.5h-7.7z"/></g>
<g fill="#1F6F33"><rect x="284.81" y="988.7" width="5.6" height="5.6"/></g>
<g fill="#3D7AC2"><circle cx="439.04" cy="1116.25" r="3.1"/><circle cx="487.8" cy="996.04" r="3.1"/></g>
<g fill="#1F6F33"><rect x="476.2" y="1138.15" width="5.6" height="5.6"/><rect x="245.39" y="848.06" width="5.6" height="5.6"/></g>
<g fill="#EAC435"><path d="M453.79 1069.61l3.85 6.5h-7.7z"/></g>
<g fill="#1F6F33"><rect x="246.62" y="881.23" width="5.6" height="5.6"/><rect x="238.46" y="966.63" width="5.6" height="5.6"/><rect x="337.63" y="1056.67" width="5.6" height="5.6"/></g>
<g fill="#EAC435"><path d="M412.94 996.86l3.85 6.5h-7.7z"/><path d="M460.31 961.19l3.85 6.5h-7.7z"/></g>
<g fill="#1F6F33"><rect x="212.29" y="976.12" width="5.6" height="5.6"/></g>
<g fill="#EAC435"><path d="M390.5 1125.38l3.85 6.5h-7.7z"/><path d="M518.59 1063.91l3.85 6.5h-7.7z"/></g>
<g fill="#1F6F33"><rect x="249.5" y="1030.64" width="5.6" height="5.6"/></g>
<g fill="#EAC435"><path d="M334.1 1141.92l3.85 6.5h-7.7z"/><path d="M386.06 1036.18l3.85 6.5h-7.7z"/></g>
<g fill="#1F6F33"><rect x="236.59" y="1068.42" width="5.6" height="5.6"/></g>
<g fill="#EAC435"><path d="M390.11 1017.98l3.85 6.5h-7.7z"/></g>
<g fill="#3D7AC2"><circle cx="440.13" cy="881.4" r="3.1"/></g>
<g fill="#EAC435"><path d="M378.81 1148.59l3.85 6.5h-7.7z"/></g>
<g fill="#3D7AC2"><circle cx="475.71" cy="932.73" r="3.1"/></g>
<g fill="#1F6F33"><rect x="382.22" y="1006.44" width="5.6" height="5.6"/></g>
<g fill="#EAC435"><path d="M530.43 1195.19l3.85 6.5h-7.7z"/><path d="M489.34 1222.72l3.85 6.5h-7.7z"/></g>
<g fill="#3D7AC2"><circle cx="468" cy="1107.98" r="3.1"/></g>
<g fill="#EAC435"><path d="M556.11 1043.51l3.85 6.5h-7.7z"/></g>
<g fill="#3D7AC2"><circle cx="466.49" cy="1024.49" r="3.1"/></g>
<g fill="#1F6F33"><rect x="245.45" y="1003.79" width="5.6" height="5.6"/></g>
<g fill="#EAC435"><path d="M434.01 1103.47l3.85 6.5h-7.7z"/><path d="M399.45 990.06l3.85 6.5h-7.7z"/><path d="M507.59 1146.44l3.85 6.5h-7.7z"/></g>
<g fill="#3D7AC2"><circle cx="452.56" cy="1197.57" r="3.1"/><circle cx="467.94" cy="1070.52" r="3.1"/></g>
<g fill="#EAC435"><path d="M368.1 1186.48l3.85 6.5h-7.7z"/></g>
<g fill="#1F6F33"><rect x="226.01" y="1088.79" width="5.6" height="5.6"/><rect x="296.26" y="849.79" width="5.6" height="5.6"/><rect x="358.99" y="1023.42" width="5.6" height="5.6"/><rect x="250.82" y="1168.13" width="5.6" height="5.6"/><rect x="259.32" y="974.51" width="5.6" height="5.6"/></g>
<g fill="#EAC435"><path d="M416.91 1156.95l3.85 6.5h-7.7z"/><path d="M411.44 1198.4l3.85 6.5h-7.7z"/><path d="M307.11 998.21l3.85 6.5h-7.7z"/><path d="M338.45 1210.78l3.85 6.5h-7.7z"/></g>
<g fill="#1F6F33"><rect x="321.4" y="1163.67" width="5.6" height="5.6"/></g>
<g fill="#3D7AC2"><circle cx="210.82" cy="837.93" r="3.1"/></g>
<g fill="#1F6F33"><rect x="236.75" y="1021.92" width="5.6" height="5.6"/></g>
<g fill="#EAC435"><path d="M440.21 1225.78l3.85 6.5h-7.7z"/><path d="M380.99 1225.67l3.85 6.5h-7.7z"/><path d="M474.11 1169.74l3.85 6.5h-7.7z"/></g>
<g fill="#3D7AC2"><circle cx="471.15" cy="1017.94" r="3.1"/></g>
<g fill="#EAC435"><path d="M449.87 1229.71l3.85 6.5h-7.7z"/></g>
<g fill="#1F6F33"><rect x="247.4" y="1077.65" width="5.6" height="5.6"/></g>
<g fill="#EAC435"><path d="M387.44 1134.75l3.85 6.5h-7.7z"/><path d="M271.58 955.52l3.85 6.5h-7.7z"/><path d="M411.55 941.06l3.85 6.5h-7.7z"/><path d="M396.58 822.85l3.85 6.5h-7.7z"/><path d="M301.05 914.28l3.85 6.5h-7.7z"/><path d="M354.72 1154.54l3.85 6.5h-7.7z"/></g>
<g fill="#3D7AC2"><circle cx="488.53" cy="804.1" r="3.1"/></g>
<g fill="#EAC435"><path d="M477.09 1126.89l3.85 6.5h-7.7z"/></g>
<g fill="#1F6F33"><rect x="334.47" y="1068.29" width="5.6" height="5.6"/></g>
<g fill="#3D7AC2"><circle cx="640.68" cy="900.96" r="3.1"/><circle cx="544.62" cy="999.53" r="3.1"/></g>
<g fill="#EAC435"><path d="M351.46 1031.1l3.85 6.5h-7.7z"/></g>
<g fill="#1F6F33"><rect x="297" y="1006.47" width="5.6" height="5.6"/></g>
<g fill="#EAC435"><path d="M291.56 979.55l3.85 6.5h-7.7z"/><path d="M362.28 1109.32l3.85 6.5h-7.7z"/></g>
<g fill="#3D7AC2"><circle cx="457.43" cy="962.32" r="3.1"/><circle cx="608.98" cy="924.04" r="3.1"/></g>
<g fill="#EAC435"><path d="M389.03 1133.9l3.85 6.5h-7.7z"/></g>
<g fill="#1F6F33"><rect x="344.41" y="1103.48" width="5.6" height="5.6"/></g>
<g fill="#3D7AC2"><circle cx="485.69" cy="1088" r="3.1"/></g>
<g fill="#1F6F33"><rect x="330.76" y="1086.93" width="5.6" height="5.6"/></g>
<g fill="#EAC435"><path d="M379.87 1052.55l3.85 6.5h-7.7z"/><path d="M420.49 1156.95l3.85 6.5h-7.7z"/><path d="M507.65 1137.79l3.85 6.5h-7.7z"/><path d="M570.52 1049.32l3.85 6.5h-7.7z"/><path d="M328.61 1031.56l3.85 6.5h-7.7z"/><path d="M534.35 1117.49l3.85 6.5h-7.7z"/></g>
<g fill="#3D7AC2"><circle cx="506.47" cy="1095.26" r="3.1"/></g>
<g fill="#EAC435"><path d="M472.25 1064.54l3.85 6.5h-7.7z"/></g>
<g fill="#3D7AC2"><circle cx="569.05" cy="1078.08" r="3.1"/><circle cx="468.49" cy="1109.69" r="3.1"/></g>
<g fill="#EAC435"><path d="M459.6 965.78l3.85 6.5h-7.7z"/><path d="M498.66 895.47l3.85 6.5h-7.7z"/><path d="M302.91 936.69l3.85 6.5h-7.7z"/><path d="M421.23 961.61l3.85 6.5h-7.7z"/></g>
<g fill="#1F6F33"><rect x="268.37" y="968.39" width="5.6" height="5.6"/></g>
<g fill="#3D7AC2"><circle cx="493.32" cy="1045.31" r="3.1"/></g>
<g fill="#EAC435"><path d="M499.22 980.53l3.85 6.5h-7.7z"/></g>
<g fill="#1F6F33"><rect x="361.22" y="1080.55" width="5.6" height="5.6"/></g>
<g fill="#EAC435"><path d="M463.88 840.33l3.85 6.5h-7.7z"/><path d="M454.08 942.03l3.85 6.5h-7.7z"/></g>
<g fill="#3D7AC2"><circle cx="510.67" cy="1027.01" r="3.1"/></g>
<g fill="#1F6F33"><rect x="301.91" y="1124.16" width="5.6" height="5.6"/></g>
<g fill="#3D7AC2"><circle cx="546.89" cy="992.87" r="3.1"/><circle cx="511.99" cy="998.01" r="3.1"/></g>
<g fill="#1F6F33"><rect x="310.92" y="1095.62" width="5.6" height="5.6"/></g>
<g fill="#EAC435"><path d="M442.65 1040.98l3.85 6.5h-7.7z"/></g>
<g fill="#3D7AC2"><circle cx="631.54" cy="864.54" r="3.1"/><circle cx="554.59" cy="953.24" r="3.1"/><circle cx="460.85" cy="1060.15" r="3.1"/><circle cx="510.84" cy="1058.17" r="3.1"/></g>
<g fill="#EAC435"><path d="M429.15 1230.83l3.85 6.5h-7.7z"/></g>
<g fill="#1F6F33"><rect x="328.05" y="964.01" width="5.6" height="5.6"/></g>
<g fill="#EAC435"><path d="M302.71 1132.28l3.85 6.5h-7.7z"/></g>
<g fill="#1F6F33"><rect x="374.96" y="1065.1" width="5.6" height="5.6"/></g>
<g fill="#EAC435"><path d="M406.29 1182.69l3.85 6.5h-7.7z"/></g>
<g fill="#3D7AC2"><circle cx="443.71" cy="1124.44" r="3.1"/><circle cx="378.13" cy="1147.09" r="3.1"/></g>
<g fill="#1F6F33"><rect x="315.59" y="1096.17" width="5.6" height="5.6"/></g>
<g fill="#3D7AC2"><circle cx="416.75" cy="983.94" r="3.1"/></g>
<g fill="#EAC435"><path d="M420.08 1020.53l3.85 6.5h-7.7z"/><path d="M375.05 1125.39l3.85 6.5h-7.7z"/></g>
<g fill="#3D7AC2"><circle cx="531.87" cy="974.8" r="3.1"/></g>
<g fill="#EAC435"><path d="M471.8 894.03l3.85 6.5h-7.7z"/><path d="M350.99 1144.68l3.85 6.5h-7.7z"/></g>
<g fill="#3D7AC2"><circle cx="395.33" cy="1100.14" r="3.1"/></g>
<g fill="#EAC435"><path d="M310.12 1081.64l3.85 6.5h-7.7z"/><path d="M421.88 1011.35l3.85 6.5h-7.7z"/><path d="M394.39 1147.03l3.85 6.5h-7.7z"/></g>
<g fill="#1F6F33"><rect x="413.12" y="950.11" width="5.6" height="5.6"/></g>
<g fill="#3D7AC2"><circle cx="339.04" cy="959.24" r="3.1"/><circle cx="601.32" cy="956.38" r="3.1"/></g>
<g fill="#EAC435"><path d="M322.4 1067.86l3.85 6.5h-7.7z"/><path d="M324.52 1059.12l3.85 6.5h-7.7z"/></g>
<g fill="#3D7AC2"><circle cx="556.68" cy="1098.8" r="3.1"/></g>
<g fill="#EAC435"><path d="M419.96 1090.93l3.85 6.5h-7.7z"/><path d="M360.53 1127.56l3.85 6.5h-7.7z"/><path d="M483.17 1153.72l3.85 6.5h-7.7z"/><path d="M426.24 1291.41l3.85 6.5h-7.7z"/></g>
<g fill="#1F6F33"><rect x="154.25" y="803.99" width="5.6" height="5.6"/></g>
<g fill="#EAC435"><path d="M454.36 1001.34l3.85 6.5h-7.7z"/></g>
<g fill="#3D7AC2"><circle cx="582.77" cy="1056.96" r="3.1"/></g>
<g fill="#EAC435"><path d="M405.79 1019.02l3.85 6.5h-7.7z"/></g>
<g fill="#3D7AC2"><circle cx="483.59" cy="1200.59" r="3.1"/><circle cx="694" cy="768.92" r="3.1"/></g>
<g fill="#EAC435"><path d="M439.63 1107.21l3.85 6.5h-7.7z"/></g>
<g fill="#1F6F33"><rect x="238.19" y="932.16" width="5.6" height="5.6"/><rect x="287.27" y="910.98" width="5.6" height="5.6"/></g>
<g fill="#EAC435"><path d="M453.12 1188.88l3.85 6.5h-7.7z"/></g>
<g fill="#1F6F33"><rect x="409.69" y="1055.72" width="5.6" height="5.6"/></g>
<g fill="#3D7AC2"><circle cx="583.72" cy="875.55" r="3.1"/></g>
<g fill="#EAC435"><path d="M520.5 980.36l3.85 6.5h-7.7z"/></g>
<g fill="#1F6F33"><rect x="237.19" y="1037.68" width="5.6" height="5.6"/></g>
<g fill="#EAC435"><path d="M327.27 1161.59l3.85 6.5h-7.7z"/><path d="M567.44 1023.9l3.85 6.5h-7.7z"/></g>
<g fill="#1F6F33"><rect x="346.1" y="980.59" width="5.6" height="5.6"/></g>
<g fill="#EAC435"><path d="M439.02 1092.9l3.85 6.5h-7.7z"/><path d="M493.55 964.36l3.85 6.5h-7.7z"/></g>
<g fill="#3D7AC2"><circle cx="433.55" cy="1089.65" r="3.1"/></g>
<g fill="#EAC435"><path d="M484.03 1116.19l3.85 6.5h-7.7z"/></g>
<g fill="#1F6F33"><rect x="433.38" y="1187.12" width="5.6" height="5.6"/><rect x="175.49" y="909.35" width="5.6" height="5.6"/></g>
<g fill="#EAC435"><path d="M372.34 1137.7l3.85 6.5h-7.7z"/><path d="M412.16 1101.53l3.85 6.5h-7.7z"/><path d="M372.98 1174.76l3.85 6.5h-7.7z"/><path d="M468.47 1096.69l3.85 6.5h-7.7z"/></g>
<g fill="#1F6F33"><rect x="226.47" y="1071" width="5.6" height="5.6"/></g>
<g fill="#EAC435"><path d="M404.39 1017.84l3.85 6.5h-7.7z"/></g>
<g fill="#3D7AC2"><circle cx="619.2" cy="919.87" r="3.1"/><circle cx="528.1" cy="1064.99" r="3.1"/><circle cx="425.09" cy="959.03" r="3.1"/></g>
<g fill="#EAC435"><path d="M370.98 1114.66l3.85 6.5h-7.7z"/></g>
<g fill="#1F6F33"><rect x="332.23" y="893.39" width="5.6" height="5.6"/><rect x="402.87" y="1150.09" width="5.6" height="5.6"/></g>
<g fill="#EAC435"><path d="M509.5 1147.36l3.85 6.5h-7.7z"/><path d="M423.97 1067.19l3.85 6.5h-7.7z"/></g>
<g fill="#3D7AC2"><circle cx="488.74" cy="1160.44" r="3.1"/></g>
<g fill="#1F6F33"><rect x="234.86" y="949.83" width="5.6" height="5.6"/></g>
<g fill="#3D7AC2"><circle cx="589.33" cy="1047.93" r="3.1"/></g>
<g fill="#1F6F33"><rect x="288.15" y="1016.43" width="5.6" height="5.6"/></g>
<g fill="#EAC435"><path d="M531.64 1116.17l3.85 6.5h-7.7z"/><path d="M399.94 825.09l3.85 6.5h-7.7z"/></g>
<g fill="#3D7AC2"><circle cx="664.87" cy="1058.89" r="3.1"/></g>
<g fill="#EAC435"><path d="M401.03 1237.81l3.85 6.5h-7.7z"/><path d="M482.42 1135.97l3.85 6.5h-7.7z"/><path d="M517.27 1078.57l3.85 6.5h-7.7z"/><path d="M382.8 1201.86l3.85 6.5h-7.7z"/><path d="M322.51 1041.95l3.85 6.5h-7.7z"/></g>
<g fill="#3D7AC2"><circle cx="559.92" cy="893.79" r="3.1"/></g>
<g fill="#1F6F33"><rect x="346.45" y="1079.43" width="5.6" height="5.6"/><rect x="367.07" y="1091.37" width="5.6" height="5.6"/><rect x="320.6" y="923.82" width="5.6" height="5.6"/></g>
<g fill="#EAC435"><path d="M358.93 1023.06l3.85 6.5h-7.7z"/><path d="M439.31 963.7l3.85 6.5h-7.7z"/><path d="M357.26 1035.23l3.85 6.5h-7.7z"/></g>
<g fill="#1F6F33"><rect x="307.14" y="1116.22" width="5.6" height="5.6"/></g>
<g fill="#EAC435"><path d="M466.66 1052.99l3.85 6.5h-7.7z"/></g>
<g fill="#3D7AC2"><circle cx="579.87" cy="1107.07" r="3.1"/></g>
<g fill="#EAC435"><path d="M400.21 1087.8l3.85 6.5h-7.7z"/><path d="M539.02 1012.9l3.85 6.5h-7.7z"/><path d="M513.76 1130.23l3.85 6.5h-7.7z"/></g>
<g fill="#3D7AC2"><circle cx="562.05" cy="932.36" r="3.1"/></g>
<g fill="#1F6F33"><rect x="346.47" y="947.31" width="5.6" height="5.6"/></g>
<g fill="#3D7AC2"><circle cx="471.78" cy="998.69" r="3.1"/></g>
<g fill="#1F6F33"><rect x="352.71" y="1023.26" width="5.6" height="5.6"/></g>
<g fill="#EAC435"><path d="M568.08 1223.29l3.85 6.5h-7.7z"/></g>
<g fill="#3D7AC2"><circle cx="473.15" cy="1050.65" r="3.1"/></g>
<g fill="#1F6F33"><rect x="328.71" y="941.06" width="5.6" height="5.6"/></g>
<g fill="#3D7AC2"><circle cx="466.88" cy="883.46" r="3.1"/></g>
<g fill="#1F6F33"><rect x="310.11" y="1099.24" width="5.6" height="5.6"/><rect x="237.54" y="1011.64" width="5.6" height="5.6"/><rect x="183.96" y="960.93" width="5.6" height="5.6"/></g>
<g fill="#EAC435"><path d="M368.53 1192.58l3.85 6.5h-7.7z"/><path d="M384.74 979.95l3.85 6.5h-7.7z"/></g>
<g fill="#3D7AC2"><circle cx="540.55" cy="1019.91" r="3.1"/><circle cx="446.68" cy="1098.02" r="3.1"/></g>
<g fill="#1F6F33"><rect x="332.83" y="1203.53" width="5.6" height="5.6"/></g>
<g fill="#EAC435"><path d="M537.72 953.63l3.85 6.5h-7.7z"/><path d="M466.54 1194.14l3.85 6.5h-7.7z"/></g>
<g fill="#1F6F33"><rect x="353.24" y="916.33" width="5.6" height="5.6"/></g>
<g fill="#3D7AC2"><circle cx="503.3" cy="886.31" r="3.1"/></g>
<g fill="#1F6F33"><rect x="280.56" y="996.37" width="5.6" height="5.6"/></g>
<g fill="#3D7AC2"><circle cx="578.01" cy="945.89" r="3.1"/><circle cx="492.63" cy="1019.07" r="3.1"/></g>
<g fill="#EAC435"><path d="M375.92 1140.21l3.85 6.5h-7.7z"/><path d="M398.64 917.2l3.85 6.5h-7.7z"/></g>
<g fill="#3D7AC2"><circle cx="517.26" cy="1078.19" r="3.1"/></g>
<g fill="#EAC435"><path d="M336.98 1016.56l3.85 6.5h-7.7z"/><path d="M526.32 1100.9l3.85 6.5h-7.7z"/></g>
<g fill="#1F6F33"><rect x="218.64" y="1010.28" width="5.6" height="5.6"/></g>
<g fill="#EAC435"><path d="M478.86 1148.51l3.85 6.5h-7.7z"/><path d="M473.42 1101.68l3.85 6.5h-7.7z"/><path d="M449.77 1250.12l3.85 6.5h-7.7z"/></g>
<g fill="#1F6F33"><rect x="243.12" y="912.06" width="5.6" height="5.6"/></g>
<g fill="#EAC435"><path d="M596.09 1162.12l3.85 6.5h-7.7z"/></g>
<g fill="#1F6F33"><rect x="313.02" y="1069.78" width="5.6" height="5.6"/></g>
<g fill="#EAC435"><path d="M326.8 1102.86l3.85 6.5h-7.7z"/><path d="M459.4 1025.47l3.85 6.5h-7.7z"/><path d="M433.81 1082.65l3.85 6.5h-7.7z"/></g>
<g fill="#3D7AC2"><circle cx="629.06" cy="920.44" r="3.1"/></g>
<g fill="#1F6F33"><rect x="334.72" y="1023.75" width="5.6" height="5.6"/></g>
<g fill="#EAC435"><path d="M371.65 1086.25l3.85 6.5h-7.7z"/><path d="M374.87 1158.5l3.85 6.5h-7.7z"/><path d="M449.4 1044.66l3.85 6.5h-7.7z"/></g>
<g fill="#1F6F33"><rect x="282.77" y="1057.25" width="5.6" height="5.6"/></g>
<g fill="#EAC435"><path d="M425.09 1186.98l3.85 6.5h-7.7z"/><path d="M337.12 1115l3.85 6.5h-7.7z"/></g>
<g fill="#1F6F33"><rect x="338.27" y="1060.01" width="5.6" height="5.6"/></g>
<g fill="#3D7AC2"><circle cx="613.22" cy="968.88" r="3.1"/></g>
<g fill="#1F6F33"><rect x="342.89" y="1022.6" width="5.6" height="5.6"/></g>
<g fill="#EAC435"><path d="M336.5 1032.1l3.85 6.5h-7.7z"/></g>
<g fill="#1F6F33"><rect x="296.35" y="998.49" width="5.6" height="5.6"/></g>
<g fill="#EAC435"><path d="M445.82 1046.58l3.85 6.5h-7.7z"/><path d="M463.18 982.54l3.85 6.5h-7.7z"/><path d="M562.53 1109.31l3.85 6.5h-7.7z"/></g>
<g fill="#3D7AC2"><circle cx="621.84" cy="929.55" r="3.1"/><circle cx="570.03" cy="987.51" r="3.1"/></g>
<g fill="#EAC435"><path d="M443.69 1199.06l3.85 6.5h-7.7z"/></g>
<g fill="#1F6F33"><rect x="202.35" y="919.82" width="5.6" height="5.6"/></g>
<g fill="#EAC435"><path d="M327.52 1096.04l3.85 6.5h-7.7z"/><path d="M404.68 1035.29l3.85 6.5h-7.7z"/></g>
<g fill="#3D7AC2"><circle cx="550.2" cy="1116.43" r="3.1"/></g>
<g fill="#EAC435"><path d="M347.56 1091.46l3.85 6.5h-7.7z"/><path d="M401.17 940.17l3.85 6.5h-7.7z"/><path d="M407.59 1160.9l3.85 6.5h-7.7z"/></g>
<g fill="#3D7AC2"><circle cx="564.68" cy="1030.41" r="3.1"/><circle cx="546.35" cy="948.58" r="3.1"/></g>
<g fill="#EAC435"><path d="M371.55 1062.46l3.85 6.5h-7.7z"/></g>
<g fill="#1F6F33"><rect x="259.36" y="902.38" width="5.6" height="5.6"/></g>
<g fill="#EAC435"><path d="M381.63 1120.44l3.85 6.5h-7.7z"/><path d="M406.4 1107.84l3.85 6.5h-7.7z"/></g>
<g fill="#3D7AC2"><circle cx="480.8" cy="1026.64" r="3.1"/><circle cx="541.02" cy="1140.33" r="3.1"/></g>
<g fill="#1F6F33"><rect x="267.69" y="945.3" width="5.6" height="5.6"/><rect x="351.81" y="1056.05" width="5.6" height="5.6"/><rect x="382.77" y="1058.13" width="5.6" height="5.6"/></g>
<g fill="#3D7AC2"><circle cx="514.59" cy="937.8" r="3.1"/></g>
<g fill="#EAC435"><path d="M484.77 977.35l3.85 6.5h-7.7z"/><path d="M378.52 1093.99l3.85 6.5h-7.7z"/></g>
<g fill="#1F6F33"><rect x="389.43" y="1114.42" width="5.6" height="5.6"/></g>
<g fill="#EAC435"><path d="M321.42 1191.08l3.85 6.5h-7.7z"/></g>
<g fill="#3D7AC2"><circle cx="533.53" cy="902.05" r="3.1"/></g>
<g fill="#EAC435"><path d="M507.22 1042.25l3.85 6.5h-7.7z"/></g>
<g fill="#1F6F33"><rect x="301.34" y="898.12" width="5.6" height="5.6"/></g>
<g fill="#3D7AC2"><circle cx="401.79" cy="1043.52" r="3.1"/></g>
<g fill="#EAC435"><path d="M454.82 1212.99l3.85 6.5h-7.7z"/><path d="M400.46 1050.45l3.85 6.5h-7.7z"/><path d="M482.88 1078.03l3.85 6.5h-7.7z"/></g>
<g fill="#1F6F33"><rect x="159.18" y="954.22" width="5.6" height="5.6"/></g>
<g fill="#EAC435"><path d="M388.09 1024.83l3.85 6.5h-7.7z"/></g>
<g fill="#1F6F33"><rect x="361.03" y="1057.34" width="5.6" height="5.6"/></g>
<g fill="#EAC435"><path d="M415.85 1089.64l3.85 6.5h-7.7z"/></g>
<g fill="#3D7AC2"><circle cx="290.25" cy="1082.04" r="3.1"/><circle cx="326.33" cy="966.35" r="3.1"/></g>
<g fill="#EAC435"><path d="M455.65 986.97l3.85 6.5h-7.7z"/><path d="M352.71 1029.66l3.85 6.5h-7.7z"/></g>
<g fill="#3D7AC2"><circle cx="387.31" cy="1137.76" r="3.1"/></g>
<g fill="#EAC435"><path d="M413.33 939.32l3.85 6.5h-7.7z"/><path d="M358.79 1153.97l3.85 6.5h-7.7z"/><path d="M277.5 1131.13l3.85 6.5h-7.7z"/></g>
<g fill="#1F6F33"><rect x="265.64" y="1055.51" width="5.6" height="5.6"/></g>
<g fill="#EAC435"><path d="M386.41 901.96l3.85 6.5h-7.7z"/></g>
<g fill="#1F6F33"><rect x="341.25" y="1056.78" width="5.6" height="5.6"/><rect x="290.45" y="970.33" width="5.6" height="5.6"/></g>
<g fill="#EAC435"><path d="M403.43 1166.62l3.85 6.5h-7.7z"/></g>
<g fill="#3D7AC2"><circle cx="533.25" cy="844.17" r="3.1"/></g>
<g fill="#EAC435"><path d="M364.02 1103.98l3.85 6.5h-7.7z"/></g>
<g fill="#3D7AC2"><circle cx="505.15" cy="1107.01" r="3.1"/></g>
<g fill="#EAC435"><path d="M585.26 1016.68l3.85 6.5h-7.7z"/><path d="M290.46 1083.88l3.85 6.5h-7.7z"/><path d="M482.45 964.08l3.85 6.5h-7.7z"/></g>
<g fill="#1F6F33"><rect x="303.67" y="1089.98" width="5.6" height="5.6"/></g>
<g fill="#EAC435"><path d="M521.92 1194.69l3.85 6.5h-7.7z"/></g>
<g fill="#1F6F33"><rect x="301.04" y="1046.82" width="5.6" height="5.6"/></g>
<g fill="#EAC435"><path d="M341.9 1055.82l3.85 6.5h-7.7z"/><path d="M394.32 1201.31l3.85 6.5h-7.7z"/><path d="M508.04 1050.86l3.85 6.5h-7.7z"/></g>
<g fill="#3D7AC2"><circle cx="463.97" cy="1064.64" r="3.1"/><circle cx="625.64" cy="964.12" r="3.1"/></g>
<g fill="#1F6F33"><rect x="314.56" y="1103.99" width="5.6" height="5.6"/></g>
<g fill="#EAC435"><path d="M398.08 1123.39l3.85 6.5h-7.7z"/><path d="M453.29 1239.48l3.85 6.5h-7.7z"/><path d="M469.8 1132.1l3.85 6.5h-7.7z"/></g>
<g fill="#3D7AC2"><circle cx="465.34" cy="964.78" r="3.1"/></g>
<g fill="#EAC435"><path d="M363.21 1070.12l3.85 6.5h-7.7z"/></g>
<g fill="#1F6F33"><rect x="288.23" y="1029.17" width="5.6" height="5.6"/></g>
<g fill="#EAC435"><path d="M350.4 1012.31l3.85 6.5h-7.7z"/></g>
<g fill="#3D7AC2"><circle cx="514.52" cy="1242.41" r="3.1"/></g>
<g fill="#EAC435"><path d="M483.76 1110.33l3.85 6.5h-7.7z"/><path d="M383.61 1116.91l3.85 6.5h-7.7z"/><path d="M511.97 986.01l3.85 6.5h-7.7z"/><path d="M334.19 921.9l3.85 6.5h-7.7z"/></g>
<g fill="#1F6F33"><rect x="221.59" y="1005.93" width="5.6" height="5.6"/><rect x="284.37" y="997.37" width="5.6" height="5.6"/></g>
<g fill="#EAC435"><path d="M322.86 1201.33l3.85 6.5h-7.7z"/></g>
<g fill="#3D7AC2"><circle cx="545.26" cy="962.07" r="3.1"/><circle cx="425.27" cy="1058.72" r="3.1"/><circle cx="528.19" cy="1232.55" r="3.1"/></g>
<g fill="#EAC435"><path d="M384.71 1087.16l3.85 6.5h-7.7z"/><path d="M313.37 1089.89l3.85 6.5h-7.7z"/></g>
<g fill="#3D7AC2"><circle cx="714.39" cy="850.03" r="3.1"/><circle cx="522.79" cy="885.45" r="3.1"/><circle cx="396.93" cy="1062.31" r="3.1"/></g>
<g fill="#EAC435"><path d="M335.22 1011.05l3.85 6.5h-7.7z"/></g>
<g fill="#3D7AC2"><circle cx="485.16" cy="1016.96" r="3.1"/></g>
<g fill="#EAC435"><path d="M412.93 1263.18l3.85 6.5h-7.7z"/><path d="M465.93 1051.03l3.85 6.5h-7.7z"/></g>
<g fill="#1F6F33"><rect x="233.67" y="916.81" width="5.6" height="5.6"/></g>
<g fill="#EAC435"><path d="M386.99 1089.82l3.85 6.5h-7.7z"/><path d="M301.46 1032.87l3.85 6.5h-7.7z"/></g>
<g fill="#3D7AC2"><circle cx="518.11" cy="795.58" r="3.1"/></g>
<g fill="#EAC435"><path d="M508.79 1002.31l3.85 6.5h-7.7z"/><path d="M353.46 1116.39l3.85 6.5h-7.7z"/></g>
<g fill="#3D7AC2"><circle cx="486.52" cy="835.02" r="3.1"/><circle cx="592.8" cy="996.64" r="3.1"/></g>
<g fill="#1F6F33"><rect x="346.49" y="994.2" width="5.6" height="5.6"/><rect x="202.74" y="961.91" width="5.6" height="5.6"/><rect x="289.36" y="1212.27" width="5.6" height="5.6"/><rect x="180.67" y="1081.76" width="5.6" height="5.6"/></g>
<g fill="#EAC435"><path d="M449.18 968.33l3.85 6.5h-7.7z"/><path d="M375.14 1066.09l3.85 6.5h-7.7z"/><path d="M491.52 941.51l3.85 6.5h-7.7z"/><path d="M494.35 1058.46l3.85 6.5h-7.7z"/></g>
<g fill="#1F6F33"><rect x="284.66" y="790.99" width="5.6" height="5.6"/><rect x="352.01" y="1111.27" width="5.6" height="5.6"/><rect x="174.1" y="936.17" width="5.6" height="5.6"/></g>
<g fill="#3D7AC2"><circle cx="433.11" cy="931.54" r="3.1"/></g>
<g fill="#EAC435"><path d="M447.96 1029.93l3.85 6.5h-7.7z"/><path d="M370.67 1016.01l3.85 6.5h-7.7z"/><path d="M399.16 1125.08l3.85 6.5h-7.7z"/></g>
<g fill="#1F6F33"><rect x="314.96" y="910.4" width="5.6" height="5.6"/></g>
<g fill="#3D7AC2"><circle cx="618.79" cy="964.56" r="3.1"/><circle cx="419.97" cy="1198.04" r="3.1"/><circle cx="560.32" cy="992.49" r="3.1"/></g>
<g fill="#EAC435"><path d="M472.51 957.26l3.85 6.5h-7.7z"/></g>
<g fill="#1F6F33"><rect x="212.59" y="949.9" width="5.6" height="5.6"/></g>
<g fill="#3D7AC2"><circle cx="563.73" cy="1098.47" r="3.1"/></g>
<g fill="#1F6F33"><rect x="187.3" y="955.67" width="5.6" height="5.6"/></g>
<g fill="#EAC435"><path d="M383.81 805.6l3.85 6.5h-7.7z"/><path d="M440.2 1252.62l3.85 6.5h-7.7z"/><path d="M524.37 1040.92l3.85 6.5h-7.7z"/></g>
<g fill="#1F6F33"><rect x="360.75" y="1060.31" width="5.6" height="5.6"/></g>
<g fill="#3D7AC2"><circle cx="689.75" cy="898.65" r="3.1"/><circle cx="511.7" cy="997.88" r="3.1"/></g>
<g fill="#1F6F33"><rect x="166.9" y="948.08" width="5.6" height="5.6"/><rect x="373.13" y="1140.62" width="5.6" height="5.6"/></g>
<g fill="#EAC435"><path d="M405.57 1001.01l3.85 6.5h-7.7z"/></g>
<g fill="#3D7AC2"><circle cx="446.69" cy="994.97" r="3.1"/></g>
<g fill="#EAC435"><path d="M427.5 1130.06l3.85 6.5h-7.7z"/><path d="M472.06 977.34l3.85 6.5h-7.7z"/></g>
<g fill="#1F6F33"><rect x="296.79" y="946.93" width="5.6" height="5.6"/></g>
<g fill="#EAC435"><path d="M468.52 1229.58l3.85 6.5h-7.7z"/><path d="M436.97 1042.44l3.85 6.5h-7.7z"/></g>
<g fill="#3D7AC2"><circle cx="451.52" cy="1215.71" r="3.1"/></g>
<g fill="#EAC435"><path d="M512.14 1026.7l3.85 6.5h-7.7z"/></g>
<g fill="#3D7AC2"><circle cx="460.35" cy="1118.94" r="3.1"/><circle cx="573.38" cy="911.22" r="3.1"/></g>
<g fill="#1F6F33"><rect x="290.76" y="913.86" width="5.6" height="5.6"/></g>
<g fill="#EAC435"><path d="M450.87 939.75l3.85 6.5h-7.7z"/></g>
<g fill="#3D7AC2"><circle cx="471.75" cy="1172.07" r="3.1"/></g>
<g fill="#1F6F33"><rect x="398.08" y="979.07" width="5.6" height="5.6"/></g>
<g fill="#EAC435"><path d="M417.38 1073.27l3.85 6.5h-7.7z"/><path d="M331.15 1098.79l3.85 6.5h-7.7z"/><path d="M352.35 1114.83l3.85 6.5h-7.7z"/></g>
<g fill="#3D7AC2"><circle cx="509.58" cy="1183.16" r="3.1"/></g>
<g fill="#1F6F33"><rect x="426.06" y="916.3" width="5.6" height="5.6"/></g>
<g fill="#EAC435"><path d="M484.59 1082.52l3.85 6.5h-7.7z"/><path d="M329.49 980.09l3.85 6.5h-7.7z"/></g>
<g fill="#3D7AC2"><circle cx="548.74" cy="1038.79" r="3.1"/></g>
<g fill="#EAC435"><path d="M519.04 1065.13l3.85 6.5h-7.7z"/></g>
<g fill="#3D7AC2"><circle cx="570.64" cy="1067.11" r="3.1"/></g>
<g fill="#EAC435"><path d="M464.02 1014.67l3.85 6.5h-7.7z"/><path d="M468.35 1092.8l3.85 6.5h-7.7z"/><path d="M336.25 1061.96l3.85 6.5h-7.7z"/><path d="M416.88 1143.49l3.85 6.5h-7.7z"/></g>
<g fill="#3D7AC2"><circle cx="485.91" cy="1140.76" r="3.1"/><circle cx="615.73" cy="1074.59" r="3.1"/></g>
<g fill="#EAC435"><path d="M440.03 1007.82l3.85 6.5h-7.7z"/></g>
<g fill="#1F6F33"><rect x="170.83" y="864.26" width="5.6" height="5.6"/></g>
<g fill="#EAC435"><path d="M431.92 1035.83l3.85 6.5h-7.7z"/><path d="M313.67 915.54l3.85 6.5h-7.7z"/></g>
<g fill="#3D7AC2"><circle cx="529.53" cy="888.16" r="3.1"/></g>
<g fill="#EAC435"><path d="M469 1212.14l3.85 6.5h-7.7z"/></g>
<g fill="#1F6F33"><rect x="250.41" y="863.9" width="5.6" height="5.6"/></g>
<g fill="#3D7AC2"><circle cx="445.08" cy="1001.24" r="3.1"/></g>
<g fill="#1F6F33"><rect x="375.08" y="982.35" width="5.6" height="5.6"/></g>
<g fill="#EAC435"><path d="M434.35 1100.48l3.85 6.5h-7.7z"/></g>
<g fill="#1F6F33"><rect x="362.85" y="1147.04" width="5.6" height="5.6"/></g>
<g fill="#3D7AC2"><circle cx="471.03" cy="1087.51" r="3.1"/></g>
<g fill="#1F6F33"><rect x="268.99" y="882.72" width="5.6" height="5.6"/></g>
<g fill="#EAC435"><path d="M327.05 1051.78l3.85 6.5h-7.7z"/><path d="M444.9 1074.62l3.85 6.5h-7.7z"/></g>
<g fill="#3D7AC2"><circle cx="555.63" cy="986.9" r="3.1"/></g>
<g fill="#EAC435"><path d="M377.71 1140.94l3.85 6.5h-7.7z"/><path d="M407.94 1042.38l3.85 6.5h-7.7z"/></g>
<g fill="#1F6F33"><rect x="185.36" y="870.54" width="5.6" height="5.6"/><rect x="236.1" y="895.38" width="5.6" height="5.6"/><rect x="299.23" y="1026.51" width="5.6" height="5.6"/></g>
<g fill="#EAC435"><path d="M328.39 1037.37l3.85 6.5h-7.7z"/></g>
<g fill="#3D7AC2"><circle cx="466.08" cy="993.36" r="3.1"/></g>
<g fill="#EAC435"><path d="M465.16 1205.95l3.85 6.5h-7.7z"/><path d="M494.19 1063.98l3.85 6.5h-7.7z"/></g>
<g fill="#1F6F33"><rect x="345.32" y="938.42" width="5.6" height="5.6"/></g>
<g fill="#3D7AC2"><circle cx="519.06" cy="1101.86" r="3.1"/></g>
<g fill="#EAC435"><path d="M408.56 1100.2l3.85 6.5h-7.7z"/></g>
<g fill="#3D7AC2"><circle cx="434.81" cy="1138.25" r="3.1"/></g>
<g fill="#1F6F33"><rect x="310.4" y="1037.76" width="5.6" height="5.6"/></g>
<g fill="#EAC435"><path d="M456.49 1330.85l3.85 6.5h-7.7z"/></g>
<g fill="#1F6F33"><rect x="361.06" y="988.26" width="5.6" height="5.6"/></g>
<g fill="#3D7AC2"><circle cx="622.75" cy="1114.46" r="3.1"/><circle cx="417.95" cy="1043.69" r="3.1"/></g>
<g fill="#1F6F33"><rect x="203.69" y="995.98" width="5.6" height="5.6"/><rect x="348.74" y="964.54" width="5.6" height="5.6"/></g>
<g fill="#3D7AC2"><circle cx="509.84" cy="918.3" r="3.1"/><circle cx="507.2" cy="925.92" r="3.1"/></g>
<g fill="#EAC435"><path d="M500.98 1085.41l3.85 6.5h-7.7z"/></g>
<g fill="#1F6F33"><rect x="252.31" y="889.1" width="5.6" height="5.6"/></g>
<g fill="#EAC435"><path d="M303.15 1122.64l3.85 6.5h-7.7z"/><path d="M477.73 1078.78l3.85 6.5h-7.7z"/></g>
<g fill="#3D7AC2"><circle cx="526.82" cy="1114.39" r="3.1"/><circle cx="484.5" cy="1042.57" r="3.1"/><circle cx="430.76" cy="1228.73" r="3.1"/></g>
<g fill="#1F6F33"><rect x="253.38" y="980.7" width="5.6" height="5.6"/></g>
<g fill="#EAC435"><path d="M429.63 1037.29l3.85 6.5h-7.7z"/></g>
<g fill="#1F6F33"><rect x="565.92" y="1045.51" width="5.6" height="5.6"/></g>
<g fill="#EAC435"><path d="M437.5 1176.92l3.85 6.5h-7.7z"/><path d="M430.19 1080.08l3.85 6.5h-7.7z"/></g>
<g fill="#1F6F33"><rect x="288.43" y="1058.42" width="5.6" height="5.6"/></g>
<g fill="#EAC435"><path d="M509.05 1130.77l3.85 6.5h-7.7z"/></g>
<g fill="#1F6F33"><rect x="392.8" y="930.64" width="5.6" height="5.6"/></g>
<g fill="#EAC435"><path d="M373.32 1122.63l3.85 6.5h-7.7z"/></g>
<g fill="#3D7AC2"><circle cx="543.98" cy="1073.22" r="3.1"/></g>
<g fill="#EAC435"><path d="M424.96 1103.2l3.85 6.5h-7.7z"/></g>
<g fill="#3D7AC2"><circle cx="531.84" cy="1045.12" r="3.1"/></g>
<g fill="#1F6F33"><rect x="241.33" y="878.85" width="5.6" height="5.6"/></g>
<g fill="#3D7AC2"><circle cx="456.47" cy="1048.6" r="3.1"/><circle cx="484.63" cy="1015.93" r="3.1"/></g>
<g fill="#EAC435"><path d="M409.96 1147.82l3.85 6.5h-7.7z"/><path d="M325.02 979.51l3.85 6.5h-7.7z"/></g>
<g fill="#1F6F33"><rect x="285.75" y="933.12" width="5.6" height="5.6"/></g>
<g fill="#3D7AC2"><circle cx="621.85" cy="776.76" r="3.1"/><circle cx="509.28" cy="979.96" r="3.1"/></g>
<g fill="#1F6F33"><rect x="279.8" y="975.04" width="5.6" height="5.6"/></g>
<g fill="#3D7AC2"><circle cx="690.42" cy="910.98" r="3.1"/></g>
<g fill="#1F6F33"><rect x="217.88" y="1044.44" width="5.6" height="5.6"/></g>
<g fill="#EAC435"><path d="M493.07 1106.32l3.85 6.5h-7.7z"/><path d="M468.92 982.88l3.85 6.5h-7.7z"/><path d="M318.82 978.01l3.85 6.5h-7.7z"/></g>
<g fill="#1F6F33"><rect x="212.74" y="1028.47" width="5.6" height="5.6"/></g>
<g fill="#3D7AC2"><circle cx="562.02" cy="818.59" r="3.1"/><circle cx="486.95" cy="1037.48" r="3.1"/></g>
<g fill="#1F6F33"><rect x="309.47" y="879.37" width="5.6" height="5.6"/></g>
<g fill="#3D7AC2"><circle cx="511.5" cy="903.31" r="3.1"/></g>
<g fill="#EAC435"><path d="M473.1 1096.85l3.85 6.5h-7.7z"/><path d="M383.37 1104l3.85 6.5h-7.7z"/><path d="M389.82 1135.33l3.85 6.5h-7.7z"/><path d="M498.73 1180.39l3.85 6.5h-7.7z"/></g>
<g fill="#3D7AC2"><circle cx="582.84" cy="1078.71" r="3.1"/></g>
<g fill="#1F6F33"><rect x="208.44" y="921.15" width="5.6" height="5.6"/></g>
<g fill="#EAC435"><path d="M476 1043.81l3.85 6.5h-7.7z"/></g>
<g fill="#3D7AC2"><circle cx="544.15" cy="983.79" r="3.1"/></g>
<g fill="#EAC435"><path d="M458.77 1139.01l3.85 6.5h-7.7z"/><path d="M319.8 1081.4l3.85 6.5h-7.7z"/><path d="M399.3 1169.72l3.85 6.5h-7.7z"/></g>
<g fill="#1F6F33"><rect x="299.42" y="1054.88" width="5.6" height="5.6"/></g>
<g fill="#3D7AC2"><circle cx="555.23" cy="1063.41" r="3.1"/><circle cx="589.42" cy="846.56" r="3.1"/><circle cx="530.98" cy="1022.69" r="3.1"/><circle cx="406.02" cy="1080.89" r="3.1"/></g>
<g fill="#1F6F33"><rect x="338.07" y="1069.44" width="5.6" height="5.6"/><rect x="355.18" y="1036.83" width="5.6" height="5.6"/></g>
<g fill="#EAC435"><path d="M453.47 1095.94l3.85 6.5h-7.7z"/><path d="M541.59 1046.07l3.85 6.5h-7.7z"/><path d="M481.19 1170.68l3.85 6.5h-7.7z"/></g>
<g fill="#3D7AC2"><circle cx="624.82" cy="1079.7" r="3.1"/></g>
<g fill="#1F6F33"><rect x="410.29" y="907.76" width="5.6" height="5.6"/><rect x="279.5" y="776.42" width="5.6" height="5.6"/></g>
<g fill="#EAC435"><path d="M393.37 1223.51l3.85 6.5h-7.7z"/><path d="M394.31 1041.21l3.85 6.5h-7.7z"/></g>
<g fill="#3D7AC2"><circle cx="466.73" cy="960.1" r="3.1"/></g>
<g fill="#1F6F33"><rect x="293.97" y="956.43" width="5.6" height="5.6"/></g>
<g fill="#EAC435"><path d="M441.6 1088.55l3.85 6.5h-7.7z"/></g>
<g fill="#1F6F33"><rect x="352.06" y="1026.07" width="5.6" height="5.6"/><rect x="166.79" y="869.19" width="5.6" height="5.6"/></g>
<g fill="#EAC435"><path d="M352.91 933.09l3.85 6.5h-7.7z"/></g>
<g fill="#3D7AC2"><circle cx="398.24" cy="1027.47" r="3.1"/></g>
<g fill="#1F6F33"><rect x="191.53" y="897.82" width="5.6" height="5.6"/><rect x="346.05" y="901.3" width="5.6" height="5.6"/></g>
<g fill="#EAC435"><path d="M466.97 1156.33l3.85 6.5h-7.7z"/></g>
<g fill="#1F6F33"><rect x="376.89" y="1041.08" width="5.6" height="5.6"/></g>
<g fill="#3D7AC2"><circle cx="622.14" cy="896.29" r="3.1"/></g>
<g fill="#EAC435"><path d="M382.29 948.76l3.85 6.5h-7.7z"/><path d="M356.32 1165.33l3.85 6.5h-7.7z"/><path d="M353.39 1195.68l3.85 6.5h-7.7z"/></g>
<g fill="#1F6F33"><rect x="273.72" y="1075.98" width="5.6" height="5.6"/></g>
<g fill="#EAC435"><path d="M446.14 1199.15l3.85 6.5h-7.7z"/></g>
<g fill="#1F6F33"><rect x="231.83" y="953.99" width="5.6" height="5.6"/></g>
<g fill="#3D7AC2"><circle cx="537.32" cy="977.52" r="3.1"/></g>
<g fill="#EAC435"><path d="M419.23 1236.74l3.85 6.5h-7.7z"/></g>
<g fill="#1F6F33"><rect x="277.8" y="924.94" width="5.6" height="5.6"/></g>
<g fill="#EAC435"><path d="M462.14 940.09l3.85 6.5h-7.7z"/></g>
<g fill="#1F6F33"><rect x="359.07" y="932.66" width="5.6" height="5.6"/></g>
<g fill="#EAC435"><path d="M353.6 1086.88l3.85 6.5h-7.7z"/></g>
<g fill="#3D7AC2"><circle cx="487.16" cy="1170.09" r="3.1"/><circle cx="474.61" cy="1046.92" r="3.1"/></g>
<g fill="#1F6F33"><rect x="271.97" y="977.4" width="5.6" height="5.6"/></g>
<g fill="#EAC435"><path d="M421.41 1069.14l3.85 6.5h-7.7z"/><path d="M301.03 1133.22l3.85 6.5h-7.7z"/></g>
<g fill="#3D7AC2"><circle cx="604.2" cy="977.88" r="3.1"/></g>
<g fill="#1F6F33"><rect x="389.23" y="1008.72" width="5.6" height="5.6"/><rect x="335.35" y="1005.86" width="5.6" height="5.6"/><rect x="356.93" y="983.39" width="5.6" height="5.6"/></g>
<g fill="#EAC435"><path d="M377.68 1052.26l3.85 6.5h-7.7z"/></g>
<g fill="#1F6F33"><rect x="346.09" y="1012.13" width="5.6" height="5.6"/></g>
<g fill="#EAC435"><path d="M396.6 1087.09l3.85 6.5h-7.7z"/></g>
<g fill="#3D7AC2"><circle cx="557.83" cy="1011.84" r="3.1"/></g>
<g fill="#EAC435"><path d="M317.29 1111.68l3.85 6.5h-7.7z"/><path d="M531.47 993.51l3.85 6.5h-7.7z"/></g>
<g fill="#3D7AC2"><circle cx="437.45" cy="1191.61" r="3.1"/><circle cx="581.4" cy="944.53" r="3.1"/></g>
<g fill="#EAC435"><path d="M523.45 986.35l3.85 6.5h-7.7z"/><path d="M399.77 946.78l3.85 6.5h-7.7z"/></g>
<g fill="#1F6F33"><rect x="347.12" y="989.36" width="5.6" height="5.6"/></g>
<g fill="#EAC435"><path d="M508.1 1095.28l3.85 6.5h-7.7z"/></g>
<g fill="#3D7AC2"><circle cx="588.56" cy="990.04" r="3.1"/></g>
<g fill="#EAC435"><path d="M382.3 1064.42l3.85 6.5h-7.7z"/><path d="M330.03 1093.35l3.85 6.5h-7.7z"/></g>
<g fill="#1F6F33"><rect x="356.54" y="1023.14" width="5.6" height="5.6"/></g>
<g fill="#EAC435"><path d="M466.27 881.46l3.85 6.5h-7.7z"/><path d="M408.84 920.24l3.85 6.5h-7.7z"/></g>
<g fill="#3D7AC2"><circle cx="606.42" cy="1013.95" r="3.1"/></g>
<g fill="#EAC435"><path d="M419.96 938.43l3.85 6.5h-7.7z"/></g>
<g fill="#3D7AC2"><circle cx="400.87" cy="977.57" r="3.1"/></g>
<g fill="#EAC435"><path d="M512.36 1016.22l3.85 6.5h-7.7z"/></g>
<g fill="#3D7AC2"><circle cx="505.23" cy="902.91" r="3.1"/><circle cx="484.36" cy="1054.27" r="3.1"/></g>
<g fill="#1F6F33"><rect x="219.78" y="1111.97" width="5.6" height="5.6"/></g>
<g fill="#EAC435"><path d="M338.68 1053.6l3.85 6.5h-7.7z"/><path d="M345.3 1010.2l3.85 6.5h-7.7z"/></g>
<g fill="#1F6F33"><rect x="185.17" y="1005.89" width="5.6" height="5.6"/></g>
<g fill="#3D7AC2"><circle cx="571.96" cy="945.04" r="3.1"/><circle cx="590.44" cy="1015.73" r="3.1"/><circle cx="558" cy="902.5" r="3.1"/></g>
<g fill="#1F6F33"><rect x="300.7" y="920.28" width="5.6" height="5.6"/></g>
<g fill="#EAC435"><path d="M389.51 1076.53l3.85 6.5h-7.7z"/><path d="M333.57 1022.67l3.85 6.5h-7.7z"/><path d="M354.97 1041.46l3.85 6.5h-7.7z"/><path d="M658.15 1208.28l3.85 6.5h-7.7z"/><path d="M386.87 1069.44l3.85 6.5h-7.7z"/><path d="M404.23 1030.66l3.85 6.5h-7.7z"/><path d="M392.77 851.31l3.85 6.5h-7.7z"/><path d="M310.85 1069.25l3.85 6.5h-7.7z"/></g>
<g fill="#1F6F33"><rect x="214.85" y="934.24" width="5.6" height="5.6"/></g>
<g fill="#EAC435"><path d="M461.42 1297.46l3.85 6.5h-7.7z"/><path d="M458.07 1253.21l3.85 6.5h-7.7z"/></g>
<g fill="#3D7AC2"><circle cx="549.52" cy="1193" r="3.1"/></g>
<g fill="#1F6F33"><rect x="430.12" y="1048.13" width="5.6" height="5.6"/></g>
<g fill="#EAC435"><path d="M455.7 1065.31l3.85 6.5h-7.7z"/></g>
<g fill="#1F6F33"><rect x="206.14" y="1104.25" width="5.6" height="5.6"/><rect x="277.85" y="1034.54" width="5.6" height="5.6"/></g>
<g fill="#3D7AC2"><circle cx="528.06" cy="917.17" r="3.1"/></g>
<g fill="#EAC435"><path d="M338.8 996.26l3.85 6.5h-7.7z"/></g>
<g fill="#3D7AC2"><circle cx="632.51" cy="956.84" r="3.1"/><circle cx="482.5" cy="855.66" r="3.1"/></g>
<g fill="#EAC435"><path d="M241.87 1046.85l3.85 6.5h-7.7z"/></g>
<g fill="#1F6F33"><rect x="239.96" y="958.08" width="5.6" height="5.6"/><rect x="280.06" y="1133.13" width="5.6" height="5.6"/><rect x="255.93" y="1157.58" width="5.6" height="5.6"/></g>
<g fill="#3D7AC2"><circle cx="700.95" cy="894.84" r="3.1"/></g>
<g fill="#EAC435"><path d="M459.14 1171.07l3.85 6.5h-7.7z"/><path d="M474.4 1055.83l3.85 6.5h-7.7z"/><path d="M288.48 963.21l3.85 6.5h-7.7z"/></g>
<g fill="#3D7AC2"><circle cx="453.2" cy="1104.49" r="3.1"/></g>
<g fill="#EAC435"><path d="M372.55 1076.68l3.85 6.5h-7.7z"/></g>
<g fill="#1F6F33"><rect x="415.92" y="1019.55" width="5.6" height="5.6"/></g>
<g fill="#EAC435"><path d="M570.09 1176.01l3.85 6.5h-7.7z"/><path d="M399.51 1101.88l3.85 6.5h-7.7z"/><path d="M392.44 1086.9l3.85 6.5h-7.7z"/><path d="M309.27 1058.32l3.85 6.5h-7.7z"/><path d="M467.31 1044.86l3.85 6.5h-7.7z"/></g>
<g fill="#3D7AC2"><circle cx="575.51" cy="1075.7" r="3.1"/></g>
<g fill="#EAC435"><path d="M407.93 1110.99l3.85 6.5h-7.7z"/><path d="M298.18 1178.25l3.85 6.5h-7.7z"/><path d="M392.87 986.03l3.85 6.5h-7.7z"/></g>
<g fill="#3D7AC2"><circle cx="435.14" cy="1180.83" r="3.1"/></g>
<g fill="#EAC435"><path d="M435.65 1327.71l3.85 6.5h-7.7z"/></g>
<g fill="#1F6F33"><rect x="189.85" y="960.97" width="5.6" height="5.6"/></g>
<g fill="#EAC435"><path d="M400.89 1057.22l3.85 6.5h-7.7z"/></g>
<g fill="#3D7AC2"><circle cx="580.31" cy="1026.8" r="3.1"/></g>
<g fill="#1F6F33"><rect x="275.88" y="1008.64" width="5.6" height="5.6"/><rect x="232.18" y="905.21" width="5.6" height="5.6"/><rect x="395.78" y="993.45" width="5.6" height="5.6"/></g>
<g fill="#EAC435"><path d="M508.32 974.59l3.85 6.5h-7.7z"/></g>
<g fill="#3D7AC2"><circle cx="333.39" cy="911.2" r="3.1"/><circle cx="634.04" cy="998.12" r="3.1"/><circle cx="449.27" cy="1173.71" r="3.1"/></g>
<g fill="#1F6F33"><rect x="302.69" y="1001.6" width="5.6" height="5.6"/></g>
<g fill="#3D7AC2"><circle cx="517.15" cy="1161.08" r="3.1"/><circle cx="579.35" cy="1006.97" r="3.1"/><circle cx="610.45" cy="875.29" r="3.1"/></g>
<g fill="#EAC435"><path d="M363.47 1085.16l3.85 6.5h-7.7z"/><path d="M415.29 1115.18l3.85 6.5h-7.7z"/><path d="M462.69 1045.28l3.85 6.5h-7.7z"/><path d="M341.59 1002.42l3.85 6.5h-7.7z"/></g>
<g fill="#1F6F33"><rect x="309.94" y="933.66" width="5.6" height="5.6"/></g>
<g fill="#EAC435"><path d="M406.97 1134.77l3.85 6.5h-7.7z"/><path d="M464.27 878.21l3.85 6.5h-7.7z"/></g>
<g fill="#1F6F33"><rect x="300.99" y="1024.52" width="5.6" height="5.6"/></g>
<g fill="#EAC435"><path d="M546.76 918.55l3.85 6.5h-7.7z"/></g>
<g fill="#1F6F33"><rect x="359.54" y="957.73" width="5.6" height="5.6"/><rect x="302.87" y="990.67" width="5.6" height="5.6"/></g>
<g fill="#EAC435"><path d="M436.06 1066.07l3.85 6.5h-7.7z"/></g>
<g fill="#3D7AC2"><circle cx="676.75" cy="903.14" r="3.1"/></g>
<g fill="#EAC435"><path d="M430.72 945.84l3.85 6.5h-7.7z"/><path d="M343.71 1102.17l3.85 6.5h-7.7z"/><path d="M484.56 1142.27l3.85 6.5h-7.7z"/><path d="M520.28 857.59l3.85 6.5h-7.7z"/></g>
<g fill="#1F6F33"><rect x="313.88" y="1003.23" width="5.6" height="5.6"/></g>
<g fill="#3D7AC2"><circle cx="547.45" cy="1084.02" r="3.1"/></g>
<g fill="#EAC435"><path d="M324.06 965.75l3.85 6.5h-7.7z"/></g>
<g fill="#1F6F33"><rect x="304.29" y="1061.44" width="5.6" height="5.6"/></g>
<g fill="#3D7AC2"><circle cx="623.17" cy="998.62" r="3.1"/><circle cx="538.29" cy="1087.91" r="3.1"/></g>
<g fill="#1F6F33"><rect x="345.14" y="1001.4" width="5.6" height="5.6"/></g>
<g fill="#EAC435"><path d="M365.62 1116.53l3.85 6.5h-7.7z"/><path d="M309.79 1086.62l3.85 6.5h-7.7z"/><path d="M440.36 1182.8l3.85 6.5h-7.7z"/><path d="M348.31 1129.65l3.85 6.5h-7.7z"/><path d="M463.51 1183.05l3.85 6.5h-7.7z"/><path d="M383.04 958.17l3.85 6.5h-7.7z"/></g>
<g fill="#3D7AC2"><circle cx="543.41" cy="887.8" r="3.1"/></g>
<g fill="#EAC435"><path d="M346.13 1099.8l3.85 6.5h-7.7z"/><path d="M344.62 985.15l3.85 6.5h-7.7z"/><path d="M439.51 1010.11l3.85 6.5h-7.7z"/><path d="M436.87 985.95l3.85 6.5h-7.7z"/><path d="M430.37 1020.48l3.85 6.5h-7.7z"/></g>
<g fill="#1F6F33"><rect x="203.06" y="944.27" width="5.6" height="5.6"/></g>
<g fill="#3D7AC2"><circle cx="605.05" cy="1117.6" r="3.1"/></g>
<g fill="#1F6F33"><rect x="291.33" y="990.17" width="5.6" height="5.6"/><rect x="304.55" y="1009.65" width="5.6" height="5.6"/><rect x="250.48" y="863.2" width="5.6" height="5.6"/></g>
<g fill="#EAC435"><path d="M622.21 935.8l3.85 6.5h-7.7z"/><path d="M313.72 1087.74l3.85 6.5h-7.7z"/></g>
<g fill="#3D7AC2"><circle cx="446.58" cy="963.99" r="3.1"/></g>
<g fill="#EAC435"><path d="M381.87 993.49l3.85 6.5h-7.7z"/></g>
<g fill="#1F6F33"><rect x="314.85" y="1048.62" width="5.6" height="5.6"/></g>
<g fill="#EAC435"><path d="M327.25 925.57l3.85 6.5h-7.7z"/></g>
<g fill="#1F6F33"><rect x="245.28" y="1066.59" width="5.6" height="5.6"/></g>
<g fill="#3D7AC2"><circle cx="395.53" cy="1017.02" r="3.1"/></g>
<g fill="#EAC435"><path d="M293.58 1062.63l3.85 6.5h-7.7z"/></g>
<g fill="#3D7AC2"><circle cx="498.98" cy="918.57" r="3.1"/><circle cx="588.61" cy="1019.63" r="3.1"/></g>
<g fill="#1F6F33"><rect x="170.26" y="1007.94" width="5.6" height="5.6"/></g>
<g fill="#EAC435"><path d="M500.76 1178.39l3.85 6.5h-7.7z"/></g>
<g fill="#3D7AC2"><circle cx="432.51" cy="887.9" r="3.1"/><circle cx="576.14" cy="977.91" r="3.1"/></g>
<g fill="#EAC435"><path d="M379.51 917.2l3.85 6.5h-7.7z"/></g>
<g fill="#1F6F33"><rect x="246.84" y="1150.6" width="5.6" height="5.6"/><rect x="222.75" y="1046.46" width="5.6" height="5.6"/></g>
<g fill="#EAC435"><path d="M438.56 1020.89l3.85 6.5h-7.7z"/></g>
<g fill="#1F6F33"><rect x="376.81" y="1055.23" width="5.6" height="5.6"/></g>
<g fill="#EAC435"><path d="M353.28 1153.1l3.85 6.5h-7.7z"/></g>
<g fill="#3D7AC2"><circle cx="422.35" cy="884.54" r="3.1"/></g>
<g fill="#EAC435"><path d="M368.87 1185.04l3.85 6.5h-7.7z"/><path d="M231.85 1086.25l3.85 6.5h-7.7z"/></g>
<g fill="#1F6F33"><rect x="265.47" y="1031.96" width="5.6" height="5.6"/></g>
<g fill="#EAC435"><path d="M424.83 1194.84l3.85 6.5h-7.7z"/><path d="M376.1 1168.82l3.85 6.5h-7.7z"/><path d="M509.16 950.6l3.85 6.5h-7.7z"/><path d="M431.05 1084.52l3.85 6.5h-7.7z"/></g>
<g fill="#1F6F33"><rect x="319.31" y="1064.36" width="5.6" height="5.6"/></g>
<g fill="#EAC435"><path d="M363.74 1055.97l3.85 6.5h-7.7z"/><path d="M492.58 995.84l3.85 6.5h-7.7z"/><path d="M390.03 970.54l3.85 6.5h-7.7z"/></g>
<g fill="#3D7AC2"><circle cx="545.7" cy="907.23" r="3.1"/></g>
<g fill="#EAC435"><path d="M353.65 1223.11l3.85 6.5h-7.7z"/></g>
<g fill="#1F6F33"><rect x="230.93" y="853.85" width="5.6" height="5.6"/></g>
<g fill="#EAC435"><path d="M392.27 1162l3.85 6.5h-7.7z"/></g>
<g fill="#3D7AC2"><circle cx="508.03" cy="879.23" r="3.1"/><circle cx="456.18" cy="1180.13" r="3.1"/><circle cx="568.45" cy="887.3" r="3.1"/><circle cx="428.43" cy="992.22" r="3.1"/></g>
<g fill="#EAC435"><path d="M467.43 989.76l3.85 6.5h-7.7z"/><path d="M557.42 968.28l3.85 6.5h-7.7z"/></g>
<g fill="#1F6F33"><rect x="300" y="858.3" width="5.6" height="5.6"/><rect x="313.94" y="978.52" width="5.6" height="5.6"/></g>
<g fill="#EAC435"><path d="M427.7 1096.57l3.85 6.5h-7.7z"/><path d="M427.32 987.89l3.85 6.5h-7.7z"/></g>
<g fill="#3D7AC2"><circle cx="336.86" cy="1189.2" r="3.1"/></g>
<g fill="#EAC435"><path d="M428.28 1141.49l3.85 6.5h-7.7z"/><path d="M512.58 1142.77l3.85 6.5h-7.7z"/><path d="M512.96 1302.61l3.85 6.5h-7.7z"/></g>
<g fill="#3D7AC2"><circle cx="581.9" cy="936.47" r="3.1"/></g>
<g fill="#EAC435"><path d="M412.71 1043.19l3.85 6.5h-7.7z"/><path d="M421.19 1090.12l3.85 6.5h-7.7z"/></g>
<g fill="#3D7AC2"><circle cx="548.96" cy="889.52" r="3.1"/></g>
<g fill="#EAC435"><path d="M347.73 1075.89l3.85 6.5h-7.7z"/></g>
<g fill="#3D7AC2"><circle cx="450.19" cy="1054.19" r="3.1"/></g>
<g fill="#EAC435"><path d="M454.3 1010.32l3.85 6.5h-7.7z"/></g>
<g fill="#3D7AC2"><circle cx="439.38" cy="887.62" r="3.1"/><circle cx="523.13" cy="996.64" r="3.1"/><circle cx="613.3" cy="988.71" r="3.1"/></g>
<g fill="#EAC435"><path d="M368.4 1059.74l3.85 6.5h-7.7z"/></g>
<g fill="#1F6F33"><rect x="193.11" y="1012.12" width="5.6" height="5.6"/></g>
<g fill="#EAC435"><path d="M437.34 1036.62l3.85 6.5h-7.7z"/></g>
<g fill="#1F6F33"><rect x="335.47" y="881.7" width="5.6" height="5.6"/></g>
<g fill="#EAC435"><path d="M301.71 976.85l3.85 6.5h-7.7z"/></g>
<g fill="#3D7AC2"><circle cx="541.59" cy="939.38" r="3.1"/></g>
<g fill="#EAC435"><path d="M426.88 996.55l3.85 6.5h-7.7z"/></g>
<g fill="#1F6F33"><rect x="324.18" y="914.52" width="5.6" height="5.6"/></g>
<g fill="#3D7AC2"><circle cx="605.96" cy="914.03" r="3.1"/></g>
<g fill="#EAC435"><path d="M392.9 1096.84l3.85 6.5h-7.7z"/><path d="M503.11 1130.11l3.85 6.5h-7.7z"/><path d="M496.55 904.16l3.85 6.5h-7.7z"/></g>
<g fill="#1F6F33"><rect x="228.21" y="1000.67" width="5.6" height="5.6"/></g>
<g fill="#EAC435"><path d="M410.54 1016.8l3.85 6.5h-7.7z"/></g>
<g fill="#3D7AC2"><circle cx="629.66" cy="924" r="3.1"/></g>
<g fill="#1F6F33"><rect x="352.96" y="1076.09" width="5.6" height="5.6"/><rect x="204.68" y="1011.77" width="5.6" height="5.6"/></g>
<g fill="#3D7AC2"><circle cx="541.46" cy="940.65" r="3.1"/></g>
<g fill="#EAC435"><path d="M269.49 1110.9l3.85 6.5h-7.7z"/><path d="M312.97 950.77l3.85 6.5h-7.7z"/><path d="M596.88 1023.87l3.85 6.5h-7.7z"/></g>
<g fill="#1F6F33"><rect x="219.82" y="893.47" width="5.6" height="5.6"/></g>
<g fill="#EAC435"><path d="M498.62 1250.18l3.85 6.5h-7.7z"/></g>
<g fill="#1F6F33"><rect x="303.09" y="1098.41" width="5.6" height="5.6"/><rect x="200.18" y="1120.4" width="5.6" height="5.6"/></g>
<g fill="#3D7AC2"><circle cx="568.75" cy="929.67" r="3.1"/></g>
<g fill="#EAC435"><path d="M459.12 1094.22l3.85 6.5h-7.7z"/></g>
<g fill="#1F6F33"><rect x="170.86" y="964.27" width="5.6" height="5.6"/></g>
<g fill="#3D7AC2"><circle cx="683.92" cy="826.73" r="3.1"/></g>
<g fill="#1F6F33"><rect x="290.27" y="1004.06" width="5.6" height="5.6"/><rect x="321.42" y="996.6" width="5.6" height="5.6"/></g>
<g fill="#EAC435"><path d="M557.73 1134.79l3.85 6.5h-7.7z"/></g>
<g fill="#1F6F33"><rect x="314.98" y="985.49" width="5.6" height="5.6"/></g>
<g fill="#3D7AC2"><circle cx="525.75" cy="1072.35" r="3.1"/></g>
<g fill="#1F6F33"><rect x="342.29" y="1103.17" width="5.6" height="5.6"/><rect x="339.33" y="1217.42" width="5.6" height="5.6"/></g>
<g fill="#3D7AC2"><circle cx="447.66" cy="946.93" r="3.1"/></g>
<g fill="#EAC435"><path d="M415.42 952.52l3.85 6.5h-7.7z"/><path d="M503.28 924.18l3.85 6.5h-7.7z"/></g>
<g fill="#1F6F33"><rect x="287.61" y="971.42" width="5.6" height="5.6"/></g>
<g fill="#3D7AC2"><circle cx="536.14" cy="972.16" r="3.1"/></g>
<g fill="#1F6F33"><rect x="303.18" y="1149.03" width="5.6" height="5.6"/></g>
<g fill="#EAC435"><path d="M472.85 1046.37l3.85 6.5h-7.7z"/><path d="M466.22 1186.47l3.85 6.5h-7.7z"/></g>
<g fill="#1F6F33"><rect x="424.38" y="969.68" width="5.6" height="5.6"/></g>
<g fill="#3D7AC2"><circle cx="427.63" cy="1151.03" r="3.1"/></g>
<g fill="#1F6F33"><rect x="280.54" y="955.21" width="5.6" height="5.6"/></g>
<g fill="#EAC435"><path d="M353.01 1086.12l3.85 6.5h-7.7z"/><path d="M396.8 889.94l3.85 6.5h-7.7z"/><path d="M596.8 1089.57l3.85 6.5h-7.7z"/><path d="M418.71 1119.01l3.85 6.5h-7.7z"/><path d="M493.68 870.71l3.85 6.5h-7.7z"/><path d="M372.34 1176.75l3.85 6.5h-7.7z"/></g>
<g fill="#3D7AC2"><circle cx="482.18" cy="928.12" r="3.1"/><circle cx="599.84" cy="1043.63" r="3.1"/></g>
<g fill="#EAC435"><path d="M545.78 1156.57l3.85 6.5h-7.7z"/></g>
<g fill="#1F6F33"><rect x="463.6" y="1157.6" width="5.6" height="5.6"/><rect x="286.62" y="965.4" width="5.6" height="5.6"/></g>
<g fill="#EAC435"><path d="M385.24 1076.94l3.85 6.5h-7.7z"/></g>
<g fill="#3D7AC2"><circle cx="585.75" cy="975.25" r="3.1"/></g>
<g fill="#EAC435"><path d="M378.02 986.42l3.85 6.5h-7.7z"/></g>
<g fill="#1F6F33"><rect x="311.04" y="935.26" width="5.6" height="5.6"/></g>
<g fill="#3D7AC2"><circle cx="361.15" cy="1154.91" r="3.1"/></g>
<g fill="#EAC435"><path d="M492.93 1006.67l3.85 6.5h-7.7z"/><path d="M429.4 1078.11l3.85 6.5h-7.7z"/><path d="M414.19 1057.34l3.85 6.5h-7.7z"/><path d="M470.28 1108.24l3.85 6.5h-7.7z"/></g>
<g fill="#1F6F33"><rect x="325.76" y="965.8" width="5.6" height="5.6"/></g>
<g fill="#EAC435"><path d="M456.74 1060.46l3.85 6.5h-7.7z"/></g>
<g fill="#1F6F33"><rect x="335.28" y="985.73" width="5.6" height="5.6"/></g>
<g fill="#EAC435"><path d="M230.16 1102.42l3.85 6.5h-7.7z"/></g>
<g fill="#1F6F33"><rect x="303.86" y="1048.63" width="5.6" height="5.6"/></g>
<g fill="#EAC435"><path d="M335.53 968.87l3.85 6.5h-7.7z"/></g>
<g fill="#3D7AC2"><circle cx="549.95" cy="981.1" r="3.1"/></g>
<g fill="#1F6F33"><rect x="244.82" y="892.33" width="5.6" height="5.6"/><rect x="297.21" y="917.26" width="5.6" height="5.6"/></g>
<g fill="#EAC435"><path d="M376.45 1079.77l3.85 6.5h-7.7z"/></g>
<g fill="#3D7AC2"><circle cx="603.43" cy="862.03" r="3.1"/><circle cx="539.89" cy="1116.89" r="3.1"/></g>
<g fill="#EAC435"><path d="M558.99 1065.7l3.85 6.5h-7.7z"/></g>
<g fill="#1F6F33"><rect x="322.75" y="977.1" width="5.6" height="5.6"/></g>
<g fill="#EAC435"><path d="M459.77 1142.48l3.85 6.5h-7.7z"/><path d="M364.72 969.76l3.85 6.5h-7.7z"/></g>
<g fill="#3D7AC2"><circle cx="315.48" cy="1149.54" r="3.1"/></g>
<g fill="#1F6F33"><rect x="277.78" y="1024.12" width="5.6" height="5.6"/></g>
<g fill="#EAC435"><path d="M543.84 1002.43l3.85 6.5h-7.7z"/></g>
<g fill="#1F6F33"><rect x="438.16" y="893.42" width="5.6" height="5.6"/></g>
<g fill="#3D7AC2"><circle cx="420.62" cy="1111.13" r="3.1"/><circle cx="627.62" cy="999.53" r="3.1"/></g>
<g fill="#1F6F33"><rect x="252.2" y="1048.39" width="5.6" height="5.6"/><rect x="255.32" y="854.06" width="5.6" height="5.6"/><rect x="395.07" y="965.72" width="5.6" height="5.6"/></g>
<g fill="#3D7AC2"><circle cx="505.15" cy="1124.53" r="3.1"/></g>
<g fill="#EAC435"><path d="M409.4 1120.61l3.85 6.5h-7.7z"/><path d="M364.39 983.43l3.85 6.5h-7.7z"/><path d="M420.42 1003.59l3.85 6.5h-7.7z"/></g>
<g fill="#1F6F33"><rect x="224.58" y="896.44" width="5.6" height="5.6"/></g>
<g fill="#EAC435"><path d="M433.52 1083.16l3.85 6.5h-7.7z"/></g>
<g fill="#3D7AC2"><circle cx="443.71" cy="1092.7" r="3.1"/></g>
<g fill="#EAC435"><path d="M361.58 1102.69l3.85 6.5h-7.7z"/></g>
<g fill="#3D7AC2"><circle cx="370.22" cy="929.57" r="3.1"/></g>
<g fill="#EAC435"><path d="M416.78 1056.81l3.85 6.5h-7.7z"/><path d="M454.7 1051.88l3.85 6.5h-7.7z"/></g>
<g fill="#3D7AC2"><circle cx="554.78" cy="943.32" r="3.1"/></g>
<g fill="#1F6F33"><rect x="312" y="1071.51" width="5.6" height="5.6"/><rect x="318.41" y="994.95" width="5.6" height="5.6"/><rect x="309.46" y="946.53" width="5.6" height="5.6"/></g>
<g fill="#3D7AC2"><circle cx="405.32" cy="1138.09" r="3.1"/></g>
<g fill="#EAC435"><path d="M497.19 1001.28l3.85 6.5h-7.7z"/></g>
<g fill="#1F6F33"><rect x="264.99" y="1014.1" width="5.6" height="5.6"/></g>
<g fill="#EAC435"><path d="M423.59 978.48l3.85 6.5h-7.7z"/></g>
<g fill="#1F6F33"><rect x="392.89" y="940.32" width="5.6" height="5.6"/></g>
<g fill="#EAC435"><path d="M437.1 980.21l3.85 6.5h-7.7z"/></g>
<g fill="#3D7AC2"><circle cx="510.35" cy="997.25" r="3.1"/></g>
<g fill="#EAC435"><path d="M557.49 948.87l3.85 6.5h-7.7z"/></g>
<g fill="#3D7AC2"><circle cx="510.59" cy="1117.4" r="3.1"/><circle cx="487.36" cy="878.47" r="3.1"/></g>
<g fill="#EAC435"><path d="M420.38 1069.78l3.85 6.5h-7.7z"/></g>
<g fill="#3D7AC2"><circle cx="685.71" cy="980.89" r="3.1"/></g>
<g fill="#1F6F33"><rect x="331.28" y="984.73" width="5.6" height="5.6"/></g>
<g fill="#EAC435"><path d="M316.08 1049.86l3.85 6.5h-7.7z"/><path d="M360.21 980.28l3.85 6.5h-7.7z"/></g>
<g fill="#3D7AC2"><circle cx="347.2" cy="1023.99" r="3.1"/></g>
<g fill="#1F6F33"><rect x="461.08" y="893.84" width="5.6" height="5.6"/></g>
<g fill="#EAC435"><path d="M442.2 1036.33l3.85 6.5h-7.7z"/><path d="M516.71 1064.12l3.85 6.5h-7.7z"/></g>
<g fill="#3D7AC2"><circle cx="490.95" cy="1064.12" r="3.1"/><circle cx="505.34" cy="792.44" r="3.1"/></g>
<g fill="#EAC435"><path d="M526.12 1003.05l3.85 6.5h-7.7z"/></g>
<g fill="#3D7AC2"><circle cx="590.6" cy="873.78" r="3.1"/><circle cx="423.07" cy="1191.25" r="3.1"/><circle cx="546.45" cy="965.78" r="3.1"/></g>
<g fill="#EAC435"><path d="M412.68 1044.05l3.85 6.5h-7.7z"/><path d="M516.92 1020.84l3.85 6.5h-7.7z"/></g>
<g fill="#3D7AC2"><circle cx="509.47" cy="919.17" r="3.1"/></g>
<g fill="#EAC435"><path d="M410.67 1116.8l3.85 6.5h-7.7z"/></g>
<g fill="#1F6F33"><rect x="256.8" y="1113.73" width="5.6" height="5.6"/><rect x="246.14" y="984.21" width="5.6" height="5.6"/></g>
<g fill="#3D7AC2"><circle cx="478.46" cy="949.68" r="3.1"/><circle cx="488.99" cy="1033.65" r="3.1"/></g>
<g fill="#EAC435"><path d="M402.09 1051.17l3.85 6.5h-7.7z"/><path d="M365.37 1087.31l3.85 6.5h-7.7z"/><path d="M350.77 1037.35l3.85 6.5h-7.7z"/><path d="M316.36 1193.94l3.85 6.5h-7.7z"/><path d="M584.88 1163.69l3.85 6.5h-7.7z"/></g>
<g fill="#3D7AC2"><circle cx="738.15" cy="1068.98" r="3.1"/></g>
<g fill="#1F6F33"><rect x="375.45" y="968.87" width="5.6" height="5.6"/></g>
<g fill="#EAC435"><path d="M440.59 1016.46l3.85 6.5h-7.7z"/><path d="M459.84 1070.81l3.85 6.5h-7.7z"/></g>
<g fill="#1F6F33"><rect x="211.91" y="1109.29" width="5.6" height="5.6"/></g>
<g fill="#EAC435"><path d="M342.4 1218.17l3.85 6.5h-7.7z"/></g>
<g fill="#3D7AC2"><circle cx="493.89" cy="1086.61" r="3.1"/></g>
<g fill="#1F6F33"><rect x="146.4" y="1055.2" width="5.6" height="5.6"/><rect x="164.41" y="1015.22" width="5.6" height="5.6"/></g>
<g fill="#3D7AC2"><circle cx="456.41" cy="1158.44" r="3.1"/></g>
<g fill="#1F6F33"><rect x="281.46" y="887.03" width="5.6" height="5.6"/></g>
<g fill="#EAC435"><path d="M403.59 1102.58l3.85 6.5h-7.7z"/><path d="M531.8 1133.27l3.85 6.5h-7.7z"/></g>
<g fill="#3D7AC2"><circle cx="594.75" cy="1110.71" r="3.1"/></g>
<g fill="#EAC435"><path d="M486.45 1193.92l3.85 6.5h-7.7z"/></g>
<g fill="#1F6F33"><rect x="297.63" y="945.62" width="5.6" height="5.6"/></g>
<g fill="#3D7AC2"><circle cx="474.33" cy="895.93" r="3.1"/><circle cx="600.94" cy="977.19" r="3.1"/></g>
<g fill="#EAC435"><path d="M384.84 997.35l3.85 6.5h-7.7z"/><path d="M386.69 1146.17l3.85 6.5h-7.7z"/></g>
<g fill="#1F6F33"><rect x="185.39" y="838.72" width="5.6" height="5.6"/></g>
<g fill="#3D7AC2"><circle cx="543.5" cy="1047.67" r="3.1"/></g>
<g fill="#EAC435"><path d="M486.01 1161.44l3.85 6.5h-7.7z"/><path d="M401.3 1133.7l3.85 6.5h-7.7z"/></g>
<g fill="#3D7AC2"><circle cx="377.8" cy="931.14" r="3.1"/></g>
<g fill="#EAC435"><path d="M483.92 1064.53l3.85 6.5h-7.7z"/></g>
<g fill="#3D7AC2"><circle cx="429.87" cy="1102.28" r="3.1"/><circle cx="374.86" cy="977.02" r="3.1"/></g>
<g fill="#EAC435"><path d="M380.45 929.95l3.85 6.5h-7.7z"/><path d="M471.19 929.42l3.85 6.5h-7.7z"/><path d="M446.96 996.35l3.85 6.5h-7.7z"/></g>
<g fill="#1F6F33"><rect x="231.59" y="1092.49" width="5.6" height="5.6"/></g>
<g fill="#3D7AC2"><circle cx="617.71" cy="992.95" r="3.1"/></g>
<g fill="#EAC435"><path d="M471.8 1009.2l3.85 6.5h-7.7z"/></g>
<g fill="#1F6F33"><rect x="250.2" y="1009.55" width="5.6" height="5.6"/><rect x="391.3" y="1171.75" width="5.6" height="5.6"/></g>
<g fill="#3D7AC2"><circle cx="374.63" cy="1179.18" r="3.1"/></g>
<g fill="#EAC435"><path d="M415.16 1074.08l3.85 6.5h-7.7z"/></g>
<g fill="#1F6F33"><rect x="232.17" y="981.83" width="5.6" height="5.6"/></g>
<g fill="#EAC435"><path d="M581.12 956.71l3.85 6.5h-7.7z"/><path d="M367.76 1070.33l3.85 6.5h-7.7z"/><path d="M461.69 1175.67l3.85 6.5h-7.7z"/></g>
<g fill="#1F6F33"><rect x="267.48" y="1089.77" width="5.6" height="5.6"/></g>
<g fill="#3D7AC2"><circle cx="534.65" cy="1009.36" r="3.1"/></g>
<g fill="#1F6F33"><rect x="210.26" y="1010.87" width="5.6" height="5.6"/></g>
<g fill="#EAC435"><path d="M430.22 1118.2l3.85 6.5h-7.7z"/></g>
<g fill="#3D7AC2"><circle cx="508.86" cy="975.1" r="3.1"/></g>
<g fill="#EAC435"><path d="M336.34 1162.72l3.85 6.5h-7.7z"/></g>
<g fill="#3D7AC2"><circle cx="576.09" cy="1082.59" r="3.1"/></g>
<g fill="#EAC435"><path d="M315.91 1238.31l3.85 6.5h-7.7z"/><path d="M498.13 1170.7l3.85 6.5h-7.7z"/></g>
<g fill="#3D7AC2"><circle cx="580.62" cy="808.8" r="3.1"/></g>
<g fill="#EAC435"><path d="M405.46 1042.31l3.85 6.5h-7.7z"/><path d="M472.03 1125.22l3.85 6.5h-7.7z"/><path d="M380.53 1035.11l3.85 6.5h-7.7z"/><path d="M544.09 1097.1l3.85 6.5h-7.7z"/><path d="M493.42 1176.16l3.85 6.5h-7.7z"/></g>
<g fill="#1F6F33"><rect x="245.89" y="971.55" width="5.6" height="5.6"/><rect x="229.7" y="985.25" width="5.6" height="5.6"/></g>
<g fill="#3D7AC2"><circle cx="471.97" cy="1040.22" r="3.1"/><circle cx="416.37" cy="1006.92" r="3.1"/></g>
<g fill="#EAC435"><path d="M360.19 1187.43l3.85 6.5h-7.7z"/><path d="M357.42 1147.34l3.85 6.5h-7.7z"/><path d="M385.31 1103.33l3.85 6.5h-7.7z"/><path d="M445.15 1081.35l3.85 6.5h-7.7z"/><path d="M526.75 985.88l3.85 6.5h-7.7z"/><path d="M326.72 1016.14l3.85 6.5h-7.7z"/></g>
<g fill="#3D7AC2"><circle cx="378.46" cy="1235.85" r="3.1"/><circle cx="480.22" cy="1079.53" r="3.1"/></g>
<g fill="#EAC435"><path d="M513.8 1190.36l3.85 6.5h-7.7z"/></g>
<g fill="#3D7AC2"><circle cx="584.12" cy="1029.6" r="3.1"/></g>
<g fill="#EAC435"><path d="M374.43 1074.51l3.85 6.5h-7.7z"/><path d="M418.31 1165.94l3.85 6.5h-7.7z"/></g>
<g fill="#1F6F33"><rect x="250.16" y="903.47" width="5.6" height="5.6"/><rect x="387.42" y="1021.43" width="5.6" height="5.6"/></g>
<g fill="#3D7AC2"><circle cx="523.88" cy="958.89" r="3.1"/><circle cx="547.43" cy="1026.38" r="3.1"/><circle cx="431.35" cy="1082.17" r="3.1"/></g>
<g fill="#EAC435"><path d="M377.35 1138.53l3.85 6.5h-7.7z"/></g>
<g fill="#3D7AC2"><circle cx="627.02" cy="1009.14" r="3.1"/></g>
<g fill="#EAC435"><path d="M462.52 939.3l3.85 6.5h-7.7z"/><path d="M359.17 1032.6l3.85 6.5h-7.7z"/><path d="M558.97 1148.71l3.85 6.5h-7.7z"/></g>
<g fill="#3D7AC2"><circle cx="473.69" cy="993.71" r="3.1"/></g>
<g fill="#EAC435"><path d="M282.38 983.32l3.85 6.5h-7.7z"/></g>
<g fill="#3D7AC2"><circle cx="742.4" cy="775.19" r="3.1"/><circle cx="722.01" cy="889.47" r="3.1"/><circle cx="659.95" cy="766.45" r="3.1"/></g>
<g fill="#EAC435"><path d="M404.33 1160.81l3.85 6.5h-7.7z"/><path d="M537.97 1118.82l3.85 6.5h-7.7z"/><path d="M292.21 1126.94l3.85 6.5h-7.7z"/></g>
<g fill="#1F6F33"><rect x="263.37" y="1023.85" width="5.6" height="5.6"/></g>
<g fill="#3D7AC2"><circle cx="446.12" cy="1037.91" r="3.1"/><circle cx="386.42" cy="1224.57" r="3.1"/><circle cx="571.21" cy="768.92" r="3.1"/><circle cx="648.29" cy="1108.86" r="3.1"/></g>
<g fill="#1F6F33"><rect x="243.65" y="1069.38" width="5.6" height="5.6"/><rect x="363.54" y="934.52" width="5.6" height="5.6"/><rect x="298.17" y="1046.97" width="5.6" height="5.6"/></g>
<g fill="#3D7AC2"><circle cx="628.34" cy="906.97" r="3.1"/></g>
<g fill="#EAC435"><path d="M372.7 1060.12l3.85 6.5h-7.7z"/></g>
<g fill="#3D7AC2"><circle cx="448.27" cy="1129.01" r="3.1"/></g>
<g fill="#EAC435"><path d="M378.74 935.49l3.85 6.5h-7.7z"/><path d="M487.15 1176.49l3.85 6.5h-7.7z"/></g>
<g fill="#1F6F33"><rect x="369.62" y="1048.79" width="5.6" height="5.6"/></g>
<g fill="#3D7AC2"><circle cx="537.72" cy="915.25" r="3.1"/></g>
<g fill="#EAC435"><path d="M455.37 986.65l3.85 6.5h-7.7z"/></g>
<g fill="#3D7AC2"><circle cx="677.65" cy="865.27" r="3.1"/></g>
<g fill="#1F6F33"><rect x="265.29" y="970.21" width="5.6" height="5.6"/></g>
<g fill="#EAC435"><path d="M433.69 1147.61l3.85 6.5h-7.7z"/></g>
<g fill="#1F6F33"><rect x="412.35" y="1127.67" width="5.6" height="5.6"/></g>
<g fill="#EAC435"><path d="M453.43 1014.4l3.85 6.5h-7.7z"/><path d="M381.65 1202.66l3.85 6.5h-7.7z"/><path d="M355.41 1143.09l3.85 6.5h-7.7z"/><path d="M412.27 928.68l3.85 6.5h-7.7z"/><path d="M405.44 1066.22l3.85 6.5h-7.7z"/><path d="M480.85 1120.82l3.85 6.5h-7.7z"/><path d="M447.81 1071.05l3.85 6.5h-7.7z"/></g>
<g fill="#1F6F33"><rect x="155.4" y="971.46" width="5.6" height="5.6"/></g>
<g fill="#EAC435"><path d="M433.15 986.97l3.85 6.5h-7.7z"/></g>
<g fill="#3D7AC2"><circle cx="555.41" cy="1072.8" r="3.1"/></g>
<g fill="#EAC435"><path d="M472.03 1044.49l3.85 6.5h-7.7z"/></g>
<g fill="#1F6F33"><rect x="257.23" y="905.29" width="5.6" height="5.6"/><rect x="302.52" y="1159.67" width="5.6" height="5.6"/></g>
<g fill="#EAC435"><path d="M366.18 1111.65l3.85 6.5h-7.7z"/></g>
<g fill="#1F6F33"><rect x="196.98" y="1019.32" width="5.6" height="5.6"/></g>
<g fill="#EAC435"><path d="M452.85 1069.24l3.85 6.5h-7.7z"/></g>
<g fill="#1F6F33"><rect x="341.08" y="1085.64" width="5.6" height="5.6"/><rect x="324.96" y="967.65" width="5.6" height="5.6"/></g>
<g fill="#EAC435"><path d="M319.27 1197.75l3.85 6.5h-7.7z"/></g>
<g fill="#3D7AC2"><circle cx="526.33" cy="946.81" r="3.1"/></g>
<g fill="#EAC435"><path d="M549.82 1022.98l3.85 6.5h-7.7z"/></g>
<g fill="#1F6F33"><rect x="262.92" y="1154.77" width="5.6" height="5.6"/></g>
<g fill="#3D7AC2"><circle cx="459.92" cy="1070.33" r="3.1"/><circle cx="540.94" cy="962.73" r="3.1"/><circle cx="511.73" cy="1012.08" r="3.1"/></g>
<g fill="#1F6F33"><rect x="393.89" y="1102.01" width="5.6" height="5.6"/><rect x="319.95" y="995.54" width="5.6" height="5.6"/><rect x="341.3" y="960.43" width="5.6" height="5.6"/><rect x="178.23" y="1046.99" width="5.6" height="5.6"/></g>
<g fill="#EAC435"><path d="M492.65 1216.96l3.85 6.5h-7.7z"/><path d="M455.64 1031.14l3.85 6.5h-7.7z"/><path d="M513.26 1050.04l3.85 6.5h-7.7z"/></g>
<g fill="#1F6F33"><rect x="272.04" y="1089.06" width="5.6" height="5.6"/></g>
<g fill="#EAC435"><path d="M442.92 1074.14l3.85 6.5h-7.7z"/></g>
<g fill="#3D7AC2"><circle cx="501.57" cy="1039.4" r="3.1"/></g>
<g fill="#EAC435"><path d="M344.52 1072.96l3.85 6.5h-7.7z"/><path d="M377.36 933.73l3.85 6.5h-7.7z"/></g>
<g fill="#1F6F33"><rect x="428.75" y="924.48" width="5.6" height="5.6"/></g>
<g fill="#EAC435"><path d="M363.41 823.08l3.85 6.5h-7.7z"/><path d="M397.11 1130.39l3.85 6.5h-7.7z"/><path d="M384.82 1006.12l3.85 6.5h-7.7z"/><path d="M388.54 1008.67l3.85 6.5h-7.7z"/></g>
<g fill="#3D7AC2"><circle cx="671.6" cy="1051.05" r="3.1"/><circle cx="485.19" cy="1057.34" r="3.1"/></g>
<g fill="#1F6F33"><rect x="148.96" y="993.54" width="5.6" height="5.6"/></g>
<g fill="#3D7AC2"><circle cx="424.03" cy="923.63" r="3.1"/></g>
<g fill="#EAC435"><path d="M428.59 1005.86l3.85 6.5h-7.7z"/><path d="M405.41 1201.14l3.85 6.5h-7.7z"/></g>
<g fill="#3D7AC2"><circle cx="486.66" cy="938.32" r="3.1"/><circle cx="465.72" cy="945.17" r="3.1"/><circle cx="343.66" cy="1105.83" r="3.1"/></g>
<g fill="#EAC435"><path d="M348.85 1005.19l3.85 6.5h-7.7z"/></g>
<g fill="#3D7AC2"><circle cx="492.52" cy="905.47" r="3.1"/><circle cx="544.35" cy="986.62" r="3.1"/></g>
<g fill="#EAC435"><path d="M305.37 963.02l3.85 6.5h-7.7z"/></g>
<g fill="#3D7AC2"><circle cx="577.66" cy="1077.41" r="3.1"/><circle cx="468.99" cy="1166.59" r="3.1"/></g>
<g fill="#1F6F33"><rect x="360.44" y="1146.39" width="5.6" height="5.6"/></g>
<g fill="#3D7AC2"><circle cx="390.19" cy="1020.15" r="3.1"/></g>
<g fill="#EAC435"><path d="M474.22 950.59l3.85 6.5h-7.7z"/><path d="M342.28 1014.09l3.85 6.5h-7.7z"/><path d="M433.04 1073.07l3.85 6.5h-7.7z"/></g>
<g fill="#3D7AC2"><circle cx="470.97" cy="1058.75" r="3.1"/></g>
<g fill="#1F6F33"><rect x="249.08" y="919.54" width="5.6" height="5.6"/></g>
<g fill="#EAC435"><path d="M374 1130l3.85 6.5h-7.7z"/><path d="M400.55 1027.13l3.85 6.5h-7.7z"/><path d="M449.83 958.22l3.85 6.5h-7.7z"/></g>
<g fill="#1F6F33"><rect x="294.46" y="1000.85" width="5.6" height="5.6"/></g>
<g fill="#EAC435"><path d="M430.94 1134.09l3.85 6.5h-7.7z"/><path d="M408.25 1234.39l3.85 6.5h-7.7z"/><path d="M424.8 1091.76l3.85 6.5h-7.7z"/></g>
<g fill="#3D7AC2"><circle cx="430.6" cy="1053.8" r="3.1"/></g>
<g fill="#EAC435"><path d="M382.89 899.18l3.85 6.5h-7.7z"/><path d="M381.44 1152.02l3.85 6.5h-7.7z"/><path d="M333.52 1096.06l3.85 6.5h-7.7z"/><path d="M451.62 989.7l3.85 6.5h-7.7z"/></g>
<g fill="#1F6F33"><rect x="376.14" y="1040.98" width="5.6" height="5.6"/></g>
<g fill="#EAC435"><path d="M441.4 1085.9l3.85 6.5h-7.7z"/></g>
<g fill="#1F6F33"><rect x="377.5" y="972.81" width="5.6" height="5.6"/><rect x="225.78" y="974.42" width="5.6" height="5.6"/></g>
<g fill="#EAC435"><path d="M397.76 1048.91l3.85 6.5h-7.7z"/></g>
<g fill="#3D7AC2"><circle cx="422.61" cy="1092.83" r="3.1"/><circle cx="459.62" cy="1076.31" r="3.1"/></g>
<g fill="#1F6F33"><rect x="227.39" y="851.24" width="5.6" height="5.6"/><rect x="150.38" y="1002.61" width="5.6" height="5.6"/></g>
<g fill="#EAC435"><path d="M483.29 1054.78l3.85 6.5h-7.7z"/></g>
<g fill="#1F6F33"><rect x="312.55" y="882.47" width="5.6" height="5.6"/><rect x="312.61" y="850.28" width="5.6" height="5.6"/><rect x="281.67" y="912.22" width="5.6" height="5.6"/><rect x="285.66" y="933.15" width="5.6" height="5.6"/></g>
<g fill="#EAC435"><path d="M539.98 981.73l3.85 6.5h-7.7z"/><path d="M386.59 1103.21l3.85 6.5h-7.7z"/></g>
<g fill="#1F6F33"><rect x="219.41" y="951.75" width="5.6" height="5.6"/><rect x="177.55" y="810.04" width="5.6" height="5.6"/><rect x="142.82" y="930.36" width="5.6" height="5.6"/></g>
<g fill="#EAC435"><path d="M414.31 1016.77l3.85 6.5h-7.7z"/><path d="M509.65 1073.89l3.85 6.5h-7.7z"/><path d="M466 1197.24l3.85 6.5h-7.7z"/><path d="M466.26 1015.53l3.85 6.5h-7.7z"/><path d="M464.6 1098.83l3.85 6.5h-7.7z"/><path d="M421.89 1132.56l3.85 6.5h-7.7z"/></g>
<g fill="#3D7AC2"><circle cx="618.35" cy="920.8" r="3.1"/></g>
<g fill="#1F6F33"><rect x="369.58" y="830.87" width="5.6" height="5.6"/><rect x="238.22" y="1021.83" width="5.6" height="5.6"/></g>
<g fill="#3D7AC2"><circle cx="554.3" cy="955.83" r="3.1"/></g>
<g fill="#EAC435"><path d="M459.85 1300.37l3.85 6.5h-7.7z"/></g>
<g fill="#3D7AC2"><circle cx="264.38" cy="1003.52" r="3.1"/><circle cx="502.1" cy="1081.03" r="3.1"/></g>
<g fill="#EAC435"><path d="M464.29 1138.25l3.85 6.5h-7.7z"/></g>
<g fill="#3D7AC2"><circle cx="586.44" cy="898.22" r="3.1"/></g>
<g fill="#1F6F33"><rect x="309.67" y="1048.74" width="5.6" height="5.6"/></g>
<g fill="#3D7AC2"><circle cx="381.75" cy="1247.32" r="3.1"/></g>
<g fill="#1F6F33"><rect x="285.94" y="1052.14" width="5.6" height="5.6"/></g>
<g fill="#EAC435"><path d="M364.09 1162.94l3.85 6.5h-7.7z"/><path d="M470.99 1208.1l3.85 6.5h-7.7z"/><path d="M385.82 1127.94l3.85 6.5h-7.7z"/></g>
<g fill="#1F6F33"><rect x="270.47" y="956.14" width="5.6" height="5.6"/></g>
<g fill="#EAC435"><path d="M451.66 1017.59l3.85 6.5h-7.7z"/><path d="M490.01 1207.37l3.85 6.5h-7.7z"/><path d="M622.32 990.72l3.85 6.5h-7.7z"/></g>
<g fill="#3D7AC2"><circle cx="477.39" cy="1047.08" r="3.1"/></g>
<g fill="#1F6F33"><rect x="286.83" y="1076.09" width="5.6" height="5.6"/><rect x="214.03" y="975.18" width="5.6" height="5.6"/></g>
<g fill="#3D7AC2"><circle cx="517.46" cy="959.27" r="3.1"/></g>
<g fill="#1F6F33"><rect x="269.94" y="940.78" width="5.6" height="5.6"/></g>
<g fill="#3D7AC2"><circle cx="675.41" cy="881.85" r="3.1"/></g>
<g fill="#EAC435"><path d="M479.39 1118.39l3.85 6.5h-7.7z"/></g>
<g fill="#1F6F33"><rect x="335.89" y="1040.45" width="5.6" height="5.6"/><rect x="296.73" y="857.29" width="5.6" height="5.6"/></g>
<g fill="#3D7AC2"><circle cx="449.19" cy="1034.09" r="3.1"/></g>
<g fill="#1F6F33"><rect x="229.39" y="923.06" width="5.6" height="5.6"/></g>
<g fill="#EAC435"><path d="M439.13 951.57l3.85 6.5h-7.7z"/><path d="M360.95 1237.18l3.85 6.5h-7.7z"/></g>
<g fill="#1F6F33"><rect x="275.67" y="946.58" width="5.6" height="5.6"/><rect x="302.77" y="1073.27" width="5.6" height="5.6"/></g>
<g fill="#EAC435"><path d="M521.96 1065.69l3.85 6.5h-7.7z"/><path d="M462.37 1085.24l3.85 6.5h-7.7z"/></g>
<g fill="#1F6F33"><rect x="211.65" y="958.21" width="5.6" height="5.6"/></g>
<g fill="#3D7AC2"><circle cx="461.48" cy="933.7" r="3.1"/><circle cx="580.19" cy="995.14" r="3.1"/><circle cx="530.11" cy="1090.1" r="3.1"/><circle cx="496.26" cy="955.09" r="3.1"/></g>
<g fill="#1F6F33"><rect x="262.67" y="875.42" width="5.6" height="5.6"/></g>
<g fill="#3D7AC2"><circle cx="485.8" cy="1070.62" r="3.1"/></g>
<g fill="#EAC435"><path d="M451.22 1164.9l3.85 6.5h-7.7z"/></g>
<g fill="#3D7AC2"><circle cx="515.39" cy="996.07" r="3.1"/></g>
<g fill="#EAC435"><path d="M389.11 1119.51l3.85 6.5h-7.7z"/><path d="M464.93 983.65l3.85 6.5h-7.7z"/></g>
<g fill="#3D7AC2"><circle cx="406.83" cy="973.01" r="3.1"/></g>
<g fill="#EAC435"><path d="M273.03 971.15l3.85 6.5h-7.7z"/><path d="M420.48 1117.12l3.85 6.5h-7.7z"/><path d="M491.18 1060.99l3.85 6.5h-7.7z"/><path d="M484.14 1038.31l3.85 6.5h-7.7z"/><path d="M353.26 1167.93l3.85 6.5h-7.7z"/><path d="M357.36 983.74l3.85 6.5h-7.7z"/><path d="M383.11 1194.11l3.85 6.5h-7.7z"/><path d="M343.52 1057.66l3.85 6.5h-7.7z"/><path d="M356.5 1131.08l3.85 6.5h-7.7z"/><path d="M453.19 923.56l3.85 6.5h-7.7z"/><path d="M452.05 1141.74l3.85 6.5h-7.7z"/><path d="M450.91 911.05l3.85 6.5h-7.7z"/><path d="M368.82 870.74l3.85 6.5h-7.7z"/><path d="M415.09 1095.84l3.85 6.5h-7.7z"/><path d="M432.78 1082.31l3.85 6.5h-7.7z"/><path d="M446.46 1093.42l3.85 6.5h-7.7z"/><path d="M560.65 1080.82l3.85 6.5h-7.7z"/><path d="M355.37 1125.32l3.85 6.5h-7.7z"/><path d="M345.06 1146.42l3.85 6.5h-7.7z"/><path d="M404.65 1210.48l3.85 6.5h-7.7z"/><path d="M359.46 1072.14l3.85 6.5h-7.7z"/><path d="M487.98 1240.55l3.85 6.5h-7.7z"/><path d="M373.67 1047.57l3.85 6.5h-7.7z"/><path d="M390.76 1027.25l3.85 6.5h-7.7z"/><path d="M471.89 1176.32l3.85 6.5h-7.7z"/><path d="M472.44 1206.71l3.85 6.5h-7.7z"/><path d="M408.39 1107.74l3.85 6.5h-7.7z"/><path d="M465.32 1180.37l3.85 6.5h-7.7z"/><path d="M513.63 1172.41l3.85 6.5h-7.7z"/><path d="M420.42 1106.08l3.85 6.5h-7.7z"/><path d="M482.37 1138.9l3.85 6.5h-7.7z"/><path d="M351.54 1244.8l3.85 6.5h-7.7z"/><path d="M426.15 1291.63l3.85 6.5h-7.7z"/><path d="M411.23 1005.6l3.85 6.5h-7.7z"/><path d="M500.02 1080.89l3.85 6.5h-7.7z"/><path d="M468.99 1146.85l3.85 6.5h-7.7z"/><path d="M388.01 1028.32l3.85 6.5h-7.7z"/><path d="M433.66 1168.13l3.85 6.5h-7.7z"/><path d="M254.67 838.87l3.85 6.5h-7.7z"/><path d="M427.58 1136.97l3.85 6.5h-7.7z"/><path d="M421.85 1003.24l3.85 6.5h-7.7z"/><path d="M443.89 1121.35l3.85 6.5h-7.7z"/><path d="M421.2 1052.75l3.85 6.5h-7.7z"/><path d="M360.29 905.46l3.85 6.5h-7.7z"/><path d="M433.5 1078.26l3.85 6.5h-7.7z"/><path d="M364.77 947.9l3.85 6.5h-7.7z"/><path d="M367.67 1020.47l3.85 6.5h-7.7z"/><path d="M480.76 1057.83l3.85 6.5h-7.7z"/><path d="M458.44 998.95l3.85 6.5h-7.7z"/><path d="M396.58 1230.49l3.85 6.5h-7.7z"/><path d="M523.65 1136.03l3.85 6.5h-7.7z"/><path d="M412.91 1056.22l3.85 6.5h-7.7z"/><path d="M338.32 1267.88l3.85 6.5h-7.7z"/><path d="M460.52 968.53l3.85 6.5h-7.7z"/><path d="M449.35 1011.6l3.85 6.5h-7.7z"/><path d="M543.78 985.49l3.85 6.5h-7.7z"/><path d="M328.01 1151.85l3.85 6.5h-7.7z"/><path d="M414.26 1130.28l3.85 6.5h-7.7z"/><path d="M413.11 1068.12l3.85 6.5h-7.7z"/><path d="M469.38 1107.06l3.85 6.5h-7.7z"/><path d="M397.19 1126.69l3.85 6.5h-7.7z"/><path d="M379.6 1159.81l3.85 6.5h-7.7z"/><path d="M405.32 850.19l3.85 6.5h-7.7z"/><path d="M477.54 994.7l3.85 6.5h-7.7z"/><path d="M362.74 945.39l3.85 6.5h-7.7z"/><path d="M401.28 1274.38l3.85 6.5h-7.7z"/><path d="M374.95 1184.69l3.85 6.5h-7.7z"/><path d="M386.63 1015.32l3.85 6.5h-7.7z"/><path d="M427.27 908.65l3.85 6.5h-7.7z"/><path d="M366.97 1078.86l3.85 6.5h-7.7z"/><path d="M486.22 1082.17l3.85 6.5h-7.7z"/><path d="M452.15 1052.08l3.85 6.5h-7.7z"/><path d="M446.93 1203.58l3.85 6.5h-7.7z"/><path d="M454.25 854.89l3.85 6.5h-7.7z"/><path d="M130.83 980.37l3.85 6.5h-7.7z"/><path d="M313.67 1234.05l3.85 6.5h-7.7z"/><path d="M315.29 979.76l3.85 6.5h-7.7z"/><path d="M416.55 1160l3.85 6.5h-7.7z"/><path d="M460.42 1117.96l3.85 6.5h-7.7z"/><path d="M267.54 946.85l3.85 6.5h-7.7z"/><path d="M316.71 1157.85l3.85 6.5h-7.7z"/><path d="M514.68 1126.47l3.85 6.5h-7.7z"/><path d="M503.01 1124.06l3.85 6.5h-7.7z"/><path d="M423.04 1002.33l3.85 6.5h-7.7z"/><path d="M503.23 1084.12l3.85 6.5h-7.7z"/><path d="M375.33 1066.54l3.85 6.5h-7.7z"/><path d="M472.49 1176.21l3.85 6.5h-7.7z"/><path d="M432.2 983l3.85 6.5h-7.7z"/><path d="M536.86 1111.05l3.85 6.5h-7.7z"/><path d="M418.31 1045.33l3.85 6.5h-7.7z"/><path d="M325.53 989.44l3.85 6.5h-7.7z"/><path d="M358.81 874.28l3.85 6.5h-7.7z"/><path d="M413.83 1185.6l3.85 6.5h-7.7z"/><path d="M438.28 1111.2l3.85 6.5h-7.7z"/><path d="M517.26 1043.19l3.85 6.5h-7.7z"/><path d="M451.96 1151.69l3.85 6.5h-7.7z"/><path d="M417.75 940.2l3.85 6.5h-7.7z"/><path d="M320.61 940.91l3.85 6.5h-7.7z"/><path d="M417.19 891.19l3.85 6.5h-7.7z"/><path d="M546.46 1027.38l3.85 6.5h-7.7z"/><path d="M598.33 1151.37l3.85 6.5h-7.7z"/><path d="M540.27 1111.01l3.85 6.5h-7.7z"/><path d="M600.34 1127.39l3.85 6.5h-7.7z"/><path d="M392.86 884.88l3.85 6.5h-7.7z"/><path d="M355.17 1089.94l3.85 6.5h-7.7z"/><path d="M435.49 954.22l3.85 6.5h-7.7z"/><path d="M412.59 1066.2l3.85 6.5h-7.7z"/><path d="M400.52 1168.95l3.85 6.5h-7.7z"/><path d="M529.65 919.02l3.85 6.5h-7.7z"/><path d="M434.18 1150.37l3.85 6.5h-7.7z"/><path d="M633.43 955.15l3.85 6.5h-7.7z"/><path d="M361.35 1143.73l3.85 6.5h-7.7z"/><path d="M403.21 1111.65l3.85 6.5h-7.7z"/><path d="M469.33 1114.76l3.85 6.5h-7.7z"/><path d="M460.83 869.73l3.85 6.5h-7.7z"/><path d="M356.52 1056.77l3.85 6.5h-7.7z"/><path d="M567.03 1093.78l3.85 6.5h-7.7z"/><path d="M342.8 988.81l3.85 6.5h-7.7z"/><path d="M495.7 1261.83l3.85 6.5h-7.7z"/><path d="M431.58 1014.59l3.85 6.5h-7.7z"/><path d="M428.66 1230.62l3.85 6.5h-7.7z"/><path d="M367.94 1050.32l3.85 6.5h-7.7z"/><path d="M341.62 1000.7l3.85 6.5h-7.7z"/><path d="M559.89 1042.91l3.85 6.5h-7.7z"/><path d="M415.4 1001.54l3.85 6.5h-7.7z"/><path d="M465.02 1104.16l3.85 6.5h-7.7z"/><path d="M360.88 1104.86l3.85 6.5h-7.7z"/><path d="M492.52 1105.79l3.85 6.5h-7.7z"/><path d="M410.73 1114.22l3.85 6.5h-7.7z"/><path d="M504.88 1127.61l3.85 6.5h-7.7z"/><path d="M380.88 976.12l3.85 6.5h-7.7z"/><path d="M472.08 1121.62l3.85 6.5h-7.7z"/><path d="M403.6 1051.05l3.85 6.5h-7.7z"/><path d="M432.59 1175.66l3.85 6.5h-7.7z"/><path d="M482.28 1172.75l3.85 6.5h-7.7z"/><path d="M397.48 1076.79l3.85 6.5h-7.7z"/><path d="M355.83 1082.06l3.85 6.5h-7.7z"/><path d="M446.02 1139.34l3.85 6.5h-7.7z"/><path d="M505.33 1102.69l3.85 6.5h-7.7z"/><path d="M601.3 1078.63l3.85 6.5h-7.7z"/><path d="M457.87 1098.97l3.85 6.5h-7.7z"/><path d="M354.46 1105.03l3.85 6.5h-7.7z"/><path d="M365.7 1111.29l3.85 6.5h-7.7z"/><path d="M397.44 1136.08l3.85 6.5h-7.7z"/><path d="M536.71 1111.68l3.85 6.5h-7.7z"/><path d="M398.07 954.44l3.85 6.5h-7.7z"/><path d="M386.68 985.05l3.85 6.5h-7.7z"/><path d="M463.77 1150.53l3.85 6.5h-7.7z"/><path d="M423.09 1047.28l3.85 6.5h-7.7z"/><path d="M460.85 1039.2l3.85 6.5h-7.7z"/><path d="M474.54 1042.5l3.85 6.5h-7.7z"/><path d="M388.53 1125.96l3.85 6.5h-7.7z"/><path d="M345.81 1125.1l3.85 6.5h-7.7z"/><path d="M472.85 830.92l3.85 6.5h-7.7z"/><path d="M377.35 1076.31l3.85 6.5h-7.7z"/><path d="M429.9 989.71l3.85 6.5h-7.7z"/><path d="M396.45 1147.54l3.85 6.5h-7.7z"/><path d="M400.43 1126.03l3.85 6.5h-7.7z"/><path d="M479 932.97l3.85 6.5h-7.7z"/><path d="M460.66 1094.41l3.85 6.5h-7.7z"/><path d="M340.98 1065.2l3.85 6.5h-7.7z"/><path d="M435.1 1091.58l3.85 6.5h-7.7z"/><path d="M520.54 1037.49l3.85 6.5h-7.7z"/></g>
<path d="M671 937.58L670.66 949.88L669.63 962.47L667.92 975.28L665.53 988.26L662.48 1001.36L658.78 1014.51L654.45 1027.67L649.5 1040.78L643.95 1053.78L637.83 1066.61L631.17 1079.23L623.99 1091.57L616.33 1103.58L608.21 1115.22L599.67 1126.43L590.75 1137.16L581.49 1147.37L571.92 1157.01L562.09 1166.05L552.04 1174.44L541.81 1182.15L531.45 1189.15L521 1195.4L510.5 1200.88L500 1205.57L489.55 1209.44L479.19 1212.48L468.96 1214.67L458.91 1216.02L449.08 1216.5L439.51 1216.12L430.25 1214.88L421.33 1212.79L412.79 1209.85L404.67 1206.07L397.01 1201.48L389.83 1196.1L383.17 1189.94L377.05 1183.03L371.5 1175.4L366.55 1167.09L362.22 1158.13L358.52 1148.55L355.47 1138.41L353.08 1127.73L351.37 1116.58L350.34 1104.99L350 1093.02L350.34 1080.72L351.37 1068.13L353.08 1055.32L355.47 1042.34L358.52 1029.24L362.22 1016.09L366.55 1002.93L371.5 989.82L377.05 976.82L383.17 963.99L389.83 951.37L397.01 939.03L404.67 927.02L412.79 915.38L421.33 904.17L430.25 893.44L439.51 883.23L449.08 873.59L458.91 864.55L468.96 856.16L479.19 848.45L489.55 841.45L500 835.2L510.5 829.72L521 825.03L531.45 821.16L541.81 818.12L552.04 815.93L562.09 814.58L571.92 814.1L581.49 814.48L590.75 815.72L599.67 817.81L608.21 820.75L616.33 824.53L623.99 829.12L631.17 834.5L637.83 840.66L643.95 847.57L649.5 855.2L654.45 863.51L658.78 872.47L662.48 882.05L665.53 892.19L667.92 902.87L669.63 914.02L670.66 925.61Z" fill="#3183BB" fill-opacity="0.2"/>
<path d="M580.9 1095.41L580.57 1107.22L579.58 1118.93L577.93 1130.48L575.63 1141.82L572.69 1152.91L569.12 1163.7L564.95 1174.15L560.17 1184.2L554.83 1193.81L548.93 1202.95L542.51 1211.57L535.59 1219.64L528.2 1227.12L520.38 1233.99L512.15 1240.2L503.55 1245.74L494.62 1250.58L485.4 1254.7L475.93 1258.08L466.24 1260.71L456.38 1262.58L446.39 1263.68L436.32 1264L426.2 1263.54L416.08 1262.31L406.01 1260.31L396.02 1257.54L386.16 1254.03L376.47 1249.78L367 1244.82L357.78 1239.16L348.85 1232.83L340.25 1225.86L332.02 1218.27L324.2 1210.1L316.81 1201.39L309.89 1192.17L303.47 1182.47L297.57 1172.35L292.23 1161.84L287.45 1151L283.28 1139.86L279.71 1128.47L276.77 1116.89L274.47 1105.16L272.82 1093.34L271.83 1081.46L271.5 1069.59L271.83 1057.78L272.82 1046.07L274.47 1034.52L276.77 1023.18L279.71 1012.09L283.28 1001.3L287.45 990.85L292.23 980.8L297.57 971.19L303.47 962.05L309.89 953.43L316.81 945.36L324.2 937.88L332.02 931.01L340.25 924.8L348.85 919.26L357.78 914.42L367 910.3L376.47 906.92L386.16 904.29L396.02 902.42L406.01 901.32L416.08 901L426.2 901.46L436.32 902.69L446.39 904.69L456.38 907.46L466.24 910.97L475.93 915.22L485.4 920.18L494.62 925.84L503.55 932.17L512.15 939.14L520.38 946.73L528.2 954.9L535.59 963.61L542.51 972.83L548.93 982.53L554.83 992.65L560.17 1003.16L564.95 1014L569.12 1025.14L572.69 1036.53L575.63 1048.11L577.93 1059.84L579.58 1071.66L580.57 1083.54Z" fill="#E1D755" fill-opacity="0.2"/>
<path d="M455.9 1045.1L455.57 1057.17L454.57 1069.01L452.91 1080.57L450.59 1091.8L447.64 1102.65L444.05 1113.07L439.84 1123.03L435.04 1132.48L429.66 1141.37L423.73 1149.67L417.26 1157.35L410.3 1164.37L402.86 1170.7L394.98 1176.31L386.7 1181.18L378.05 1185.3L369.06 1188.63L359.78 1191.17L350.25 1192.91L340.5 1193.83L330.58 1193.95L320.52 1193.24L310.38 1191.73L300.2 1189.4L290.02 1186.28L279.88 1182.38L269.82 1177.71L259.9 1172.3L250.15 1166.17L240.62 1159.33L231.34 1151.83L222.35 1143.7L213.7 1134.96L205.42 1125.66L197.54 1115.84L190.1 1105.54L183.14 1094.8L176.67 1083.67L170.74 1072.19L165.36 1060.43L160.56 1048.41L156.35 1036.21L152.76 1023.86L149.81 1011.43L147.49 998.97L145.83 986.52L144.83 974.15L144.5 961.9L144.83 949.83L145.83 937.99L147.49 926.43L149.81 915.2L152.76 904.35L156.35 893.93L160.56 883.97L165.36 874.52L170.74 865.63L176.67 857.33L183.14 849.65L190.1 842.63L197.54 836.3L205.42 830.69L213.7 825.82L222.35 821.7L231.34 818.37L240.62 815.83L250.15 814.09L259.9 813.17L269.82 813.05L279.88 813.76L290.02 815.27L300.2 817.6L310.38 820.72L320.52 824.62L330.58 829.29L340.5 834.7L350.25 840.83L359.78 847.67L369.06 855.17L378.05 863.3L386.7 872.04L394.98 881.34L402.86 891.16L410.3 901.46L417.26 912.2L423.73 923.33L429.66 934.81L435.04 946.57L439.84 958.59L444.05 970.79L447.64 983.14L450.59 995.57L452.91 1008.03L454.57 1020.48L455.57 1032.85Z" fill="#148250" fill-opacity="0.2"/>
<rect x="84.3" y="725.3" width="689.7" height="640.2" fill="none" stroke="#3b3b3b" stroke-width="1.4"/>
<line x1="115.65" y1="1365.5" x2="115.65" y2="1371.5" stroke="#3b3b3b" stroke-width="1.8"/>
<text x="115.65" y="1393.9" font-size="24" text-anchor="middle">-10</text>
<line x1="78.3" y1="1336.4" x2="84.3" y2="1336.4" stroke="#3b3b3b" stroke-width="1.8"/>
<text x="73.3" y="1345" font-size="24" text-anchor="end">-10</text>
<line x1="272.4" y1="1365.5" x2="272.4" y2="1371.5" stroke="#3b3b3b" stroke-width="1.8"/>
<text x="272.4" y="1393.9" font-size="24" text-anchor="middle">-5</text>
<line x1="78.3" y1="1190.9" x2="84.3" y2="1190.9" stroke="#3b3b3b" stroke-width="1.8"/>
<text x="73.3" y="1199.5" font-size="24" text-anchor="end">-5</text>
<line x1="429.15" y1="1365.5" x2="429.15" y2="1371.5" stroke="#3b3b3b" stroke-width="1.8"/>
<text x="429.15" y="1393.9" font-size="24" text-anchor="middle">0</text>
<line x1="78.3" y1="1045.4" x2="84.3" y2="1045.4" stroke="#3b3b3b" stroke-width="1.8"/>
<text x="73.3" y="1054" font-size="24" text-anchor="end">0</text>
<line x1="585.9" y1="1365.5" x2="585.9" y2="1371.5" stroke="#3b3b3b" stroke-width="1.8"/>
<text x="585.9" y="1393.9" font-size="24" text-anchor="middle">5</text>
<line x1="78.3" y1="899.9" x2="84.3" y2="899.9" stroke="#3b3b3b" stroke-width="1.8"/>
<text x="73.3" y="908.5" font-size="24" text-anchor="end">5</text>
<line x1="742.65" y1="1365.5" x2="742.65" y2="1371.5" stroke="#3b3b3b" stroke-width="1.8"/>
<text x="742.65" y="1393.9" font-size="24" text-anchor="middle">10</text>
<line x1="78.3" y1="754.4" x2="84.3" y2="754.4" stroke="#3b3b3b" stroke-width="1.8"/>
<text x="73.3" y="763" font-size="24" text-anchor="end">10</text>
<text x="429.15" y="1422" font-size="24" text-anchor="middle">Component 1 (8.97%)</text>
<text x="22.4" y="1045.9" font-size="24" text-anchor="middle" transform="rotate(-90 22.4 1045.9)">Component 2 (17.1%)</text>
<text x="808" y="996.8" font-size="24">Normal weight</text>
<rect x="809.1" y="1011.8" width="31.6" height="31.6" fill="#3183BB" fill-opacity="0.2"/>
<g fill="#3D7AC2"><circle cx="824.9" cy="1027.6" r="3.1"/></g>
<text x="853.8" y="1036.5" font-size="24">Age group 1</text>
<rect x="809.1" y="1046.55" width="31.6" height="31.6" fill="#E1D755" fill-opacity="0.2"/>
<g fill="#EAC435"><path d="M824.9 1058.25l3.85 6.5h-7.7z"/></g>
<text x="853.8" y="1071.25" font-size="24">Age group 2</text>
<rect x="809.1" y="1081.3" width="31.6" height="31.6" fill="#148250" fill-opacity="0.2"/>
<g fill="#1F6F33"><rect x="822.1" y="1094.3" width="5.6" height="5.6"/></g>
<text x="853.8" y="1106" font-size="24">Age group 3</text>
<text x="1013.6" y="16.7" font-size="23.5" font-weight="bold">c</text>
<line x1="1342.7" y1="1.5" x2="1342.7" y2="641.3" stroke="#EAEAEA" stroke-width="1.9"/>
<line x1="1568.3" y1="1.5" x2="1568.3" y2="641.3" stroke="#EAEAEA" stroke-width="1.9"/>
<line x1="1681.2" y1="1.5" x2="1681.2" y2="641.3" stroke="#EAEAEA" stroke-width="1.9"/>
<line x1="1455.3" y1="1.5" x2="1455.3" y2="641.3" stroke="#555555" stroke-width="2"/>
<g stroke-width="2" fill="none">
<path d="M1564 15.9H1612.25M1564 13.3V18.5M1612.25 13.3V18.5" stroke="#5A3210"/>
<path d="M1634.25 15.9H1680.25M1634.25 13.3V18.5M1680.25 13.3V18.5" stroke="#A2C5E4"/>
<path d="M1541.5 40.37H1573.75M1541.5 37.77V42.97M1573.75 37.77V42.97" stroke="#5A3210"/>
<path d="M1625.25 40.37H1656M1625.25 37.77V42.97M1656 37.77V42.97" stroke="#A2C5E4"/>
<path d="M1507.25 64.84H1551M1507.25 62.24V67.44M1551 62.24V67.44" stroke="#5A3210"/>
<path d="M1589 64.84H1630.5M1589 62.24V67.44M1630.5 62.24V67.44" stroke="#A2C5E4"/>
<path d="M1409 89.31H1458M1409 86.71V91.91M1458 86.71V91.91" stroke="#5A3210"/>
<path d="M1558 89.31H1604.75M1558 86.71V91.91M1604.75 86.71V91.91" stroke="#A2C5E4"/>
<path d="M1439.25 113.78H1488M1439.25 111.18V116.38M1488 111.18V116.38" stroke="#5A3210"/>
<path d="M1523.75 113.78H1569.75M1523.75 111.18V116.38M1569.75 111.18V116.38" stroke="#A2C5E4"/>
<path d="M1426 138.25H1475.75M1426 135.65V140.85M1475.75 135.65V140.85" stroke="#5A3210"/>
<path d="M1519.75 138.25H1567M1519.75 135.65V140.85M1567 135.65V140.85" stroke="#A2C5E4"/>
<path d="M1412 162.72H1460.5M1412 160.12V165.32M1460.5 160.12V165.32" stroke="#5A3210"/>
<path d="M1514 162.72H1560M1514 160.12V165.32M1560 160.12V165.32" stroke="#A2C5E4"/>
<path d="M1421.25 187.19H1472M1421.25 184.59V189.79M1472 184.59V189.79" stroke="#5A3210"/>
<path d="M1505.75 187.19H1554M1505.75 184.59V189.79M1554 184.59V189.79" stroke="#A2C5E4"/>
<path d="M1436 211.66H1483.75M1436 209.06V214.26M1483.75 209.06V214.26" stroke="#5A3210"/>
<path d="M1504.25 211.66H1549.75M1504.25 209.06V214.26M1549.75 209.06V214.26" stroke="#A2C5E4"/>
<path d="M1571.5 236.13H1621.25M1571.5 233.53V238.73M1621.25 233.53V238.73" stroke="#5A3210"/>
<path d="M1481.75 236.13H1529.5M1481.75 233.53V238.73M1529.5 233.53V238.73" stroke="#A2C5E4"/>
<path d="M1546.75 260.6H1597M1546.75 258V263.2M1597 258V263.2" stroke="#5A3210"/>
<path d="M1475 260.6H1523M1475 258V263.2M1523 258V263.2" stroke="#A2C5E4"/>
<path d="M1540.25 285.07H1590.75M1540.25 282.47V287.67M1590.75 282.47V287.67" stroke="#5A3210"/>
<path d="M1469 285.07H1517M1469 282.47V287.67M1517 282.47V287.67" stroke="#A2C5E4"/>
<path d="M1546.25 309.54H1596.75M1546.25 306.94V312.14M1596.75 306.94V312.14" stroke="#5A3210"/>
<path d="M1465.5 309.54H1513.5M1465.5 306.94V312.14M1513.5 306.94V312.14" stroke="#A2C5E4"/>
<path d="M1536.5 334.01H1586.75M1536.5 331.41V336.61M1586.75 331.41V336.61" stroke="#5A3210"/>
<path d="M1463 334.01H1510.75M1463 331.41V336.61M1510.75 331.41V336.61" stroke="#A2C5E4"/>
<path d="M1531 358.48H1581.75M1531 355.88V361.08M1581.75 355.88V361.08" stroke="#5A3210"/>
<path d="M1462.5 358.48H1510.75M1462.5 355.88V361.08M1510.75 355.88V361.08" stroke="#A2C5E4"/>
<path d="M1575 382.95H1625.25M1575 380.35V385.55M1625.25 380.35V385.55" stroke="#5A3210"/>
<path d="M1460.75 382.95H1508.5M1460.75 380.35V385.55M1508.5 380.35V385.55" stroke="#A2C5E4"/>
<path d="M1371.75 407.42H1412M1371.75 404.82V410.02M1412 404.82V410.02" stroke="#5A3210"/>
<path d="M1463.5 407.42H1501.5M1463.5 404.82V410.02M1501.5 404.82V410.02" stroke="#A2C5E4"/>
<path d="M1383 431.89H1434.25M1383 429.29V434.49M1434.25 429.29V434.49" stroke="#5A3210"/>
<path d="M1455 431.89H1503.25M1455 429.29V434.49M1503.25 429.29V434.49" stroke="#A2C5E4"/>
<path d="M1525 456.36H1576M1525 453.76V458.96M1576 453.76V458.96" stroke="#5A3210"/>
<path d="M1452.25 456.36H1500M1452.25 453.76V458.96M1500 453.76V458.96" stroke="#A2C5E4"/>
<path d="M1537.75 480.83H1588.5M1537.75 478.23V483.43M1588.5 478.23V483.43" stroke="#5A3210"/>
<path d="M1451 480.83H1499M1451 478.23V483.43M1499 478.23V483.43" stroke="#A2C5E4"/>
<path d="M1499.5 505.3H1550.5M1499.5 502.7V507.9M1550.5 502.7V507.9" stroke="#5A3210"/>
<path d="M1429.75 505.3H1478.25M1429.75 502.7V507.9M1478.25 502.7V507.9" stroke="#A2C5E4"/>
<path d="M1340.75 529.77H1386.5M1340.75 527.17V532.37M1386.5 527.17V532.37" stroke="#5A3210"/>
<path d="M1409.25 529.77H1452.25M1409.25 527.17V532.37M1452.25 527.17V532.37" stroke="#A2C5E4"/>
<path d="M1281 554.24H1330.75M1281 551.64V556.84M1330.75 551.64V556.84" stroke="#5A3210"/>
<path d="M1375.5 554.24H1422.25M1375.5 551.64V556.84M1422.25 551.64V556.84" stroke="#A2C5E4"/>
<path d="M1437 578.71H1488M1437 576.11V581.31M1488 576.11V581.31" stroke="#5A3210"/>
<path d="M1366.75 578.71H1415M1366.75 576.11V581.31M1415 576.11V581.31" stroke="#A2C5E4"/>
<path d="M1250.75 603.18H1300.5M1250.75 600.58V605.78M1300.5 600.58V605.78" stroke="#5A3210"/>
<path d="M1347.75 603.18H1395M1347.75 600.58V605.78M1395 600.58V605.78" stroke="#A2C5E4"/>
<path d="M1408.5 627.65H1459.25M1408.5 625.05V630.25M1459.25 625.05V630.25" stroke="#5A3210"/>
<path d="M1340.25 627.65H1388.25M1340.25 625.05V630.25M1388.25 625.05V630.25" stroke="#A2C5E4"/>
</g>
<circle cx="1587.5" cy="15.9" r="10.05" fill="#5A3210"/>
<circle cx="1657" cy="15.9" r="10.05" fill="#A2C5E4"/>
<circle cx="1557.5" cy="40.37" r="10.05" fill="#5A3210"/>
<circle cx="1640.5" cy="40.37" r="10.05" fill="#A2C5E4"/>
<circle cx="1529" cy="64.84" r="10.05" fill="#5A3210"/>
<circle cx="1609.75" cy="64.84" r="10.05" fill="#A2C5E4"/>
<circle cx="1433.25" cy="89.31" r="5.8" fill="#5A3210"/>
<circle cx="1581.25" cy="89.31" r="10.05" fill="#A2C5E4"/>
<circle cx="1463.25" cy="113.78" r="5.8" fill="#5A3210"/>
<circle cx="1546.75" cy="113.78" r="10.05" fill="#A2C5E4"/>
<circle cx="1450.5" cy="138.25" r="5.8" fill="#5A3210"/>
<circle cx="1543.25" cy="138.25" r="10.05" fill="#A2C5E4"/>
<circle cx="1436" cy="162.72" r="5.8" fill="#5A3210"/>
<circle cx="1537" cy="162.72" r="10.05" fill="#A2C5E4"/>
<circle cx="1446.5" cy="187.19" r="5.8" fill="#5A3210"/>
<circle cx="1529.75" cy="187.19" r="10.05" fill="#A2C5E4"/>
<circle cx="1459.5" cy="211.66" r="5.8" fill="#5A3210"/>
<circle cx="1526.75" cy="211.66" r="10.05" fill="#A2C5E4"/>
<circle cx="1596.25" cy="236.13" r="10.05" fill="#5A3210"/>
<circle cx="1505.5" cy="236.13" r="10.05" fill="#A2C5E4"/>
<circle cx="1571.75" cy="260.6" r="10.05" fill="#5A3210"/>
<circle cx="1499" cy="260.6" r="10.05" fill="#A2C5E4"/>
<circle cx="1565.25" cy="285.07" r="10.05" fill="#5A3210"/>
<circle cx="1492.75" cy="285.07" r="10.05" fill="#A2C5E4"/>
<circle cx="1571.25" cy="309.54" r="10.05" fill="#5A3210"/>
<circle cx="1489.25" cy="309.54" r="10.05" fill="#A2C5E4"/>
<circle cx="1561.5" cy="334.01" r="10.05" fill="#5A3210"/>
<circle cx="1486.75" cy="334.01" r="10.05" fill="#A2C5E4"/>
<circle cx="1556.25" cy="358.48" r="10.05" fill="#5A3210"/>
<circle cx="1486.5" cy="358.48" r="10.05" fill="#A2C5E4"/>
<circle cx="1600" cy="382.95" r="10.05" fill="#5A3210"/>
<circle cx="1484.5" cy="382.95" r="10.05" fill="#A2C5E4"/>
<circle cx="1391.75" cy="407.42" r="10.05" fill="#5A3210"/>
<circle cx="1482.25" cy="407.42" r="10.05" fill="#A2C5E4"/>
<circle cx="1408.5" cy="431.89" r="10.05" fill="#5A3210"/>
<circle cx="1479" cy="431.89" r="5.8" fill="#A2C5E4"/>
<circle cx="1550.5" cy="456.36" r="10.05" fill="#5A3210"/>
<circle cx="1475.75" cy="456.36" r="5.8" fill="#A2C5E4"/>
<circle cx="1563" cy="480.83" r="10.05" fill="#5A3210"/>
<circle cx="1474.75" cy="480.83" r="5.8" fill="#A2C5E4"/>
<circle cx="1524.5" cy="505.3" r="10.05" fill="#5A3210"/>
<circle cx="1453.75" cy="505.3" r="5.8" fill="#A2C5E4"/>
<circle cx="1363.5" cy="529.77" r="10.05" fill="#5A3210"/>
<circle cx="1430.5" cy="529.77" r="10.05" fill="#A2C5E4"/>
<circle cx="1305.75" cy="554.24" r="10.05" fill="#5A3210"/>
<circle cx="1398.5" cy="554.24" r="10.05" fill="#A2C5E4"/>
<circle cx="1462.25" cy="578.71" r="5.8" fill="#5A3210"/>
<circle cx="1390.5" cy="578.71" r="10.05" fill="#A2C5E4"/>
<circle cx="1275.5" cy="603.18" r="10.05" fill="#5A3210"/>
<circle cx="1371" cy="603.18" r="10.05" fill="#A2C5E4"/>
<circle cx="1433.5" cy="627.65" r="5.8" fill="#5A3210"/>
<circle cx="1363.75" cy="627.65" r="10.05" fill="#A2C5E4"/>
<rect x="1230.3" y="1.5" width="470.3" height="639.8" fill="none" stroke="#3b3b3b" stroke-width="1.4"/>
<line x1="1224.3" y1="15.9" x2="1230.3" y2="15.9" stroke="#3b3b3b" stroke-width="2"/>
<text x="1220" y="24.7" font-size="24" text-anchor="end">SPON2</text>
<line x1="1224.3" y1="40.37" x2="1230.3" y2="40.37" stroke="#3b3b3b" stroke-width="2"/>
<text x="1220" y="49.17" font-size="24" text-anchor="end">LEP</text>
<line x1="1224.3" y1="64.84" x2="1230.3" y2="64.84" stroke="#3b3b3b" stroke-width="2"/>
<text x="1220" y="73.64" font-size="24" text-anchor="end">ADM</text>
<line x1="1224.3" y1="89.31" x2="1230.3" y2="89.31" stroke="#3b3b3b" stroke-width="2"/>
<text x="1220" y="98.11" font-size="24" text-anchor="end">OSM</text>
<line x1="1224.3" y1="113.78" x2="1230.3" y2="113.78" stroke="#3b3b3b" stroke-width="2"/>
<text x="1220" y="122.58" font-size="24" text-anchor="end">HAOX1</text>
<line x1="1224.3" y1="138.25" x2="1230.3" y2="138.25" stroke="#3b3b3b" stroke-width="2"/>
<text x="1220" y="147.05" font-size="24" text-anchor="end">CSF1</text>
<line x1="1224.3" y1="162.72" x2="1230.3" y2="162.72" stroke="#3b3b3b" stroke-width="2"/>
<text x="1220" y="171.52" font-size="24" text-anchor="end">HGF</text>
<line x1="1224.3" y1="187.19" x2="1230.3" y2="187.19" stroke="#3b3b3b" stroke-width="2"/>
<text x="1220" y="195.99" font-size="24" text-anchor="end">MCP1</text>
<line x1="1224.3" y1="211.66" x2="1230.3" y2="211.66" stroke="#3b3b3b" stroke-width="2"/>
<text x="1220" y="220.46" font-size="24" text-anchor="end">IL18R1</text>
<line x1="1224.3" y1="236.13" x2="1230.3" y2="236.13" stroke="#3b3b3b" stroke-width="2"/>
<text x="1220" y="244.93" font-size="24" text-anchor="end">ITGB1BP2</text>
<line x1="1224.3" y1="260.6" x2="1230.3" y2="260.6" stroke="#3b3b3b" stroke-width="2"/>
<text x="1220" y="269.4" font-size="24" text-anchor="end">DECR1</text>
<line x1="1224.3" y1="285.07" x2="1230.3" y2="285.07" stroke="#3b3b3b" stroke-width="2"/>
<text x="1220" y="293.87" font-size="24" text-anchor="end">STAMBP</text>
<line x1="1224.3" y1="309.54" x2="1230.3" y2="309.54" stroke="#3b3b3b" stroke-width="2"/>
<text x="1220" y="318.34" font-size="24" text-anchor="end">SIRT2</text>
<line x1="1224.3" y1="334.01" x2="1230.3" y2="334.01" stroke="#3b3b3b" stroke-width="2"/>
<text x="1220" y="342.81" font-size="24" text-anchor="end">AXIN1</text>
<line x1="1224.3" y1="358.48" x2="1230.3" y2="358.48" stroke="#3b3b3b" stroke-width="2"/>
<text x="1220" y="367.28" font-size="24" text-anchor="end">PDGF subunit B</text>
<line x1="1224.3" y1="382.95" x2="1230.3" y2="382.95" stroke="#3b3b3b" stroke-width="2"/>
<text x="1220" y="391.75" font-size="24" text-anchor="end">STK4</text>
<line x1="1224.3" y1="407.42" x2="1230.3" y2="407.42" stroke="#3b3b3b" stroke-width="2"/>
<text x="1220" y="416.22" font-size="24" text-anchor="end">IL1ra</text>
<line x1="1224.3" y1="431.89" x2="1230.3" y2="431.89" stroke="#3b3b3b" stroke-width="2"/>
<text x="1220" y="440.69" font-size="24" text-anchor="end">CXCL10</text>
<line x1="1224.3" y1="456.36" x2="1230.3" y2="456.36" stroke="#3b3b3b" stroke-width="2"/>
<text x="1220" y="465.16" font-size="24" text-anchor="end">ANGPT1</text>
<line x1="1224.3" y1="480.83" x2="1230.3" y2="480.83" stroke="#3b3b3b" stroke-width="2"/>
<text x="1220" y="489.63" font-size="24" text-anchor="end">CD40L</text>
<line x1="1224.3" y1="505.3" x2="1230.3" y2="505.3" stroke="#3b3b3b" stroke-width="2"/>
<text x="1220" y="514.1" font-size="24" text-anchor="end">CD84</text>
<line x1="1224.3" y1="529.77" x2="1230.3" y2="529.77" stroke="#3b3b3b" stroke-width="2"/>
<text x="1220" y="538.57" font-size="24" text-anchor="end">Gal9</text>
<line x1="1224.3" y1="554.24" x2="1230.3" y2="554.24" stroke="#3b3b3b" stroke-width="2"/>
<text x="1220" y="563.04" font-size="24" text-anchor="end">CCL19</text>
<line x1="1224.3" y1="578.71" x2="1230.3" y2="578.71" stroke="#3b3b3b" stroke-width="2"/>
<text x="1220" y="587.51" font-size="24" text-anchor="end">Dkk1</text>
<line x1="1224.3" y1="603.18" x2="1230.3" y2="603.18" stroke="#3b3b3b" stroke-width="2"/>
<text x="1220" y="611.98" font-size="24" text-anchor="end">LOX1</text>
<line x1="1224.3" y1="627.65" x2="1230.3" y2="627.65" stroke="#3b3b3b" stroke-width="2"/>
<text x="1220" y="636.45" font-size="24" text-anchor="end">VSIG2</text>
<line x1="1229.62" y1="641.3" x2="1229.62" y2="647.3" stroke="#3b3b3b" stroke-width="1.8"/>
<text x="1229.62" y="669.7" font-size="24" text-anchor="middle">-0.4</text>
<line x1="1342.46" y1="641.3" x2="1342.46" y2="647.3" stroke="#3b3b3b" stroke-width="1.8"/>
<text x="1342.46" y="669.7" font-size="24" text-anchor="middle">-0.2</text>
<line x1="1455.3" y1="641.3" x2="1455.3" y2="647.3" stroke="#3b3b3b" stroke-width="1.8"/>
<text x="1455.3" y="669.7" font-size="24" text-anchor="middle">0.0</text>
<line x1="1568.14" y1="641.3" x2="1568.14" y2="647.3" stroke="#3b3b3b" stroke-width="1.8"/>
<text x="1568.14" y="669.7" font-size="24" text-anchor="middle">0.2</text>
<line x1="1680.98" y1="641.3" x2="1680.98" y2="647.3" stroke="#3b3b3b" stroke-width="1.8"/>
<text x="1680.98" y="669.7" font-size="24" text-anchor="middle">0.4</text>
<text x="1465.5" y="698" font-size="24" text-anchor="middle">β (95% CI) per s.d. unit age</text>
<text x="1734.4" y="216.6" font-size="24">P-value</text>
<circle cx="1751.7" cy="247.7" r="9.9" fill="#000"/>
<text x="1780.2" y="255.7" font-size="24">P &lt; 5% FDR</text>
<circle cx="1751.7" cy="282.6" r="5.7" fill="#000"/>
<text x="1780.2" y="290.8" font-size="24">Not Significant</text>
<line x1="1737.8" y1="394.8" x2="1765.8" y2="394.8" stroke="#5A3210" stroke-width="2"/>
<circle cx="1751.8" cy="394.8" r="4.7" fill="#5A3210"/>
<text x="1780.2" y="403.2" font-size="24">Normal weight</text>
<line x1="1737.8" y1="429.5" x2="1765.8" y2="429.5" stroke="#A2C5E4" stroke-width="2"/>
<circle cx="1751.8" cy="429.5" r="4.7" fill="#A2C5E4"/>
<text x="1780.2" y="437.9" font-size="24">Overweight / obesity</text>
<text x="1014" y="740.3" font-size="23.5" font-weight="bold">d</text>
<circle cx="1088.55" cy="942.4" r="4.55" fill="#5A3210"/>
<circle cx="1088.55" cy="989.7" r="4.55" fill="#5A3210"/>
<circle cx="1088.55" cy="994.5" r="4.55" fill="#5A3210"/>
<circle cx="1088.55" cy="998.8" r="4.55" fill="#5A3210"/>
<circle cx="1088.55" cy="1041.1" r="4.55" fill="#5A3210"/>
<path d="M1088.55 1078.4V1187.7M1088.55 1262.3V1327.9" stroke="#5A3210" stroke-width="2.1" fill="none"/>
<rect x="1080.95" y="1188.6" width="15.2" height="72.8" fill="#fff" stroke="#5A3210" stroke-width="2.1"/>
<path d="M1080.95 1227.4H1096.15" stroke="#5A3210" stroke-width="4" fill="none"/>
<circle cx="1106.05" cy="1013.8" r="4.55" fill="#A2C5E4"/>
<circle cx="1106.05" cy="1040.3" r="4.55" fill="#A2C5E4"/>
<circle cx="1106.05" cy="1047.8" r="4.55" fill="#A2C5E4"/>
<circle cx="1106.05" cy="1064.7" r="4.55" fill="#A2C5E4"/>
<circle cx="1106.05" cy="1069.3" r="4.55" fill="#A2C5E4"/>
<circle cx="1106.05" cy="1092.6" r="4.55" fill="#A2C5E4"/>
<circle cx="1106.05" cy="1095.7" r="4.55" fill="#A2C5E4"/>
<circle cx="1106.05" cy="1102.4" r="4.55" fill="#A2C5E4"/>
<path d="M1106.05 1111.1V1195M1106.05 1256.9V1333" stroke="#A2C5E4" stroke-width="2.1" fill="none"/>
<rect x="1098.45" y="1195.9" width="15.2" height="60.1" fill="#fff" stroke="#A2C5E4" stroke-width="2.1"/>
<path d="M1098.45 1228.5H1113.65" stroke="#A2C5E4" stroke-width="4" fill="none"/>
<circle cx="1135.35" cy="1032.9" r="4.55" fill="#5A3210"/>
<circle cx="1135.35" cy="1073.5" r="4.55" fill="#5A3210"/>
<circle cx="1135.35" cy="1088.2" r="4.55" fill="#5A3210"/>
<circle cx="1135.35" cy="1098.6" r="4.55" fill="#5A3210"/>
<circle cx="1135.35" cy="1108.4" r="4.55" fill="#5A3210"/>
<circle cx="1135.35" cy="1111.1" r="4.55" fill="#5A3210"/>
<circle cx="1135.35" cy="1117.5" r="4.55" fill="#5A3210"/>
<circle cx="1135.35" cy="1119.3" r="4.55" fill="#5A3210"/>
<circle cx="1135.35" cy="1127.5" r="4.55" fill="#5A3210"/>
<circle cx="1135.35" cy="1131.2" r="4.55" fill="#5A3210"/>
<circle cx="1135.35" cy="1137.5" r="4.55" fill="#5A3210"/>
<path d="M1135.35 1141.8V1216.5M1135.35 1270.2V1337.7" stroke="#5A3210" stroke-width="2.1" fill="none"/>
<rect x="1127.75" y="1217.4" width="15.2" height="51.9" fill="#fff" stroke="#5A3210" stroke-width="2.1"/>
<path d="M1127.75 1244.9H1142.95" stroke="#5A3210" stroke-width="4" fill="none"/>
<circle cx="1152.85" cy="970.4" r="4.55" fill="#A2C5E4"/>
<circle cx="1152.85" cy="982.3" r="4.55" fill="#A2C5E4"/>
<circle cx="1152.85" cy="999.2" r="4.55" fill="#A2C5E4"/>
<circle cx="1152.85" cy="1015.9" r="4.55" fill="#A2C5E4"/>
<circle cx="1152.85" cy="1027.4" r="4.55" fill="#A2C5E4"/>
<circle cx="1152.85" cy="1031.4" r="4.55" fill="#A2C5E4"/>
<circle cx="1152.85" cy="1048" r="4.55" fill="#A2C5E4"/>
<circle cx="1152.85" cy="1056.2" r="4.55" fill="#A2C5E4"/>
<circle cx="1152.85" cy="1059.3" r="4.55" fill="#A2C5E4"/>
<circle cx="1152.85" cy="1066.5" r="4.55" fill="#A2C5E4"/>
<circle cx="1152.85" cy="1076.2" r="4.55" fill="#A2C5E4"/>
<circle cx="1152.85" cy="1081.1" r="4.55" fill="#A2C5E4"/>
<path d="M1152.85 1089.3V1181.2M1152.85 1245.2V1321.3" stroke="#A2C5E4" stroke-width="2.1" fill="none"/>
<rect x="1145.25" y="1182.1" width="15.2" height="62.2" fill="#fff" stroke="#A2C5E4" stroke-width="2.1"/>
<path d="M1145.25 1216.5H1160.45" stroke="#A2C5E4" stroke-width="4" fill="none"/>
<circle cx="1182.15" cy="1050.7" r="4.55" fill="#5A3210"/>
<circle cx="1182.15" cy="1095.7" r="4.55" fill="#5A3210"/>
<circle cx="1182.15" cy="1101.1" r="4.55" fill="#5A3210"/>
<path d="M1182.15 1117.5V1202.8M1182.15 1263.1V1317.1" stroke="#5A3210" stroke-width="2.1" fill="none"/>
<rect x="1174.55" y="1203.7" width="15.2" height="58.5" fill="#fff" stroke="#5A3210" stroke-width="2.1"/>
<path d="M1174.55 1232.7H1189.75" stroke="#5A3210" stroke-width="4" fill="none"/>
<circle cx="1199.65" cy="998.3" r="4.55" fill="#A2C5E4"/>
<circle cx="1199.65" cy="1020.7" r="4.55" fill="#A2C5E4"/>
<circle cx="1199.65" cy="1036.9" r="4.55" fill="#A2C5E4"/>
<path d="M1199.65 1043.8V1152.4M1199.65 1228.1V1310.6" stroke="#A2C5E4" stroke-width="2.1" fill="none"/>
<rect x="1192.05" y="1153.3" width="15.2" height="73.9" fill="#fff" stroke="#A2C5E4" stroke-width="2.1"/>
<path d="M1192.05 1194.3H1207.25" stroke="#A2C5E4" stroke-width="4" fill="none"/>
<text x="1097.3" y="787" font-size="22" text-anchor="middle">ns</text>
<text x="1144.1" y="785" font-size="21" text-anchor="middle">****</text>
<text x="1190.9" y="785" font-size="21" text-anchor="middle">****</text>
<rect x="1069.6" y="759.6" width="148.6" height="605.7" fill="none" stroke="#3b3b3b" stroke-width="1.4"/>
<rect x="1069.6" y="725.4" width="148.6" height="34.2" fill="#fff" stroke="#3b3b3b" stroke-width="1.4"/>
<line x1="1068.9" y1="759.6" x2="1218.9" y2="759.6" stroke="#3b3b3b" stroke-width="2.3"/>
<text x="1143.9" y="749" font-size="17.6" text-anchor="middle" fill="#1a1a1a">OSM</text>
<line x1="1097.3" y1="1365.3" x2="1097.3" y2="1371.3" stroke="#3b3b3b" stroke-width="1.8"/>
<text x="1097.3" y="1393.4" font-size="24" text-anchor="middle">1</text>
<line x1="1144.1" y1="1365.3" x2="1144.1" y2="1371.3" stroke="#3b3b3b" stroke-width="1.8"/>
<text x="1144.1" y="1393.4" font-size="24" text-anchor="middle">2</text>
<line x1="1190.9" y1="1365.3" x2="1190.9" y2="1371.3" stroke="#3b3b3b" stroke-width="1.8"/>
<text x="1190.9" y="1393.4" font-size="24" text-anchor="middle">3</text>
<circle cx="1249.25" cy="965.9" r="4.55" fill="#5A3210"/>
<circle cx="1249.25" cy="993.2" r="4.55" fill="#5A3210"/>
<circle cx="1249.25" cy="1001.7" r="4.55" fill="#5A3210"/>
<path d="M1249.25 1016.4V1133.4M1249.25 1214.8V1307" stroke="#5A3210" stroke-width="2.1" fill="none"/>
<rect x="1241.65" y="1134.3" width="15.2" height="79.6" fill="#fff" stroke="#5A3210" stroke-width="2.1"/>
<path d="M1241.65 1171.1H1256.85" stroke="#5A3210" stroke-width="4" fill="none"/>
<circle cx="1266.75" cy="899.6" r="4.55" fill="#A2C5E4"/>
<circle cx="1266.75" cy="912.5" r="4.55" fill="#A2C5E4"/>
<circle cx="1266.75" cy="1175.3" r="4.55" fill="#A2C5E4"/>
<circle cx="1266.75" cy="1180.2" r="4.55" fill="#A2C5E4"/>
<circle cx="1266.75" cy="1182.9" r="4.55" fill="#A2C5E4"/>
<circle cx="1266.75" cy="1187.5" r="4.55" fill="#A2C5E4"/>
<circle cx="1266.75" cy="1200.8" r="4.55" fill="#A2C5E4"/>
<circle cx="1266.75" cy="1205.7" r="4.55" fill="#A2C5E4"/>
<circle cx="1266.75" cy="1210.2" r="4.55" fill="#A2C5E4"/>
<circle cx="1266.75" cy="1224.4" r="4.55" fill="#A2C5E4"/>
<circle cx="1266.75" cy="1247.5" r="4.55" fill="#A2C5E4"/>
<circle cx="1266.75" cy="1281.5" r="4.55" fill="#A2C5E4"/>
<path d="M1266.75 925.1V1010.5M1266.75 1074.6V1166.9" stroke="#A2C5E4" stroke-width="2.1" fill="none"/>
<rect x="1259.15" y="1011.4" width="15.2" height="62.3" fill="#fff" stroke="#A2C5E4" stroke-width="2.1"/>
<path d="M1259.15 1038.9H1274.35" stroke="#A2C5E4" stroke-width="4" fill="none"/>
<circle cx="1296.05" cy="787.1" r="4.55" fill="#5A3210"/>
<path d="M1296.05 973.3V1074.1M1296.05 1171.1V1305" stroke="#5A3210" stroke-width="2.1" fill="none"/>
<rect x="1288.45" y="1075" width="15.2" height="95.2" fill="#fff" stroke="#5A3210" stroke-width="2.1"/>
<path d="M1288.45 1118.8H1303.65" stroke="#5A3210" stroke-width="4" fill="none"/>
<circle cx="1313.55" cy="1115.6" r="4.55" fill="#A2C5E4"/>
<circle cx="1313.55" cy="1119.2" r="4.55" fill="#A2C5E4"/>
<circle cx="1313.55" cy="1126.5" r="4.55" fill="#A2C5E4"/>
<circle cx="1313.55" cy="1131" r="4.55" fill="#A2C5E4"/>
<circle cx="1313.55" cy="1135.6" r="4.55" fill="#A2C5E4"/>
<circle cx="1313.55" cy="1140.1" r="4.55" fill="#A2C5E4"/>
<circle cx="1313.55" cy="1144.7" r="4.55" fill="#A2C5E4"/>
<circle cx="1313.55" cy="1151.1" r="4.55" fill="#A2C5E4"/>
<circle cx="1313.55" cy="1154.7" r="4.55" fill="#A2C5E4"/>
<circle cx="1313.55" cy="1172.9" r="4.55" fill="#A2C5E4"/>
<circle cx="1313.55" cy="1176.5" r="4.55" fill="#A2C5E4"/>
<circle cx="1313.55" cy="1181.1" r="4.55" fill="#A2C5E4"/>
<circle cx="1313.55" cy="1200.2" r="4.55" fill="#A2C5E4"/>
<circle cx="1313.55" cy="1202.9" r="4.55" fill="#A2C5E4"/>
<circle cx="1313.55" cy="1210.2" r="4.55" fill="#A2C5E4"/>
<circle cx="1313.55" cy="1214.8" r="4.55" fill="#A2C5E4"/>
<circle cx="1313.55" cy="1222" r="4.55" fill="#A2C5E4"/>
<circle cx="1313.55" cy="1225.7" r="4.55" fill="#A2C5E4"/>
<circle cx="1313.55" cy="1232.4" r="4.55" fill="#A2C5E4"/>
<path d="M1313.55 894.3V972.6M1313.55 1029.7V1111" stroke="#A2C5E4" stroke-width="2.1" fill="none"/>
<rect x="1305.95" y="973.5" width="15.2" height="55.3" fill="#fff" stroke="#A2C5E4" stroke-width="2.1"/>
<path d="M1305.95 999.5H1321.15" stroke="#A2C5E4" stroke-width="4" fill="none"/>
<path d="M1342.85 969.3V1030M1342.85 1159.6V1315" stroke="#5A3210" stroke-width="2.1" fill="none"/>
<rect x="1335.25" y="1030.9" width="15.2" height="127.8" fill="#fff" stroke="#5A3210" stroke-width="2.1"/>
<path d="M1335.25 1068.2H1350.45" stroke="#5A3210" stroke-width="4" fill="none"/>
<circle cx="1360.35" cy="1084.6" r="4.55" fill="#A2C5E4"/>
<circle cx="1360.35" cy="1090.1" r="4.55" fill="#A2C5E4"/>
<circle cx="1360.35" cy="1099.2" r="4.55" fill="#A2C5E4"/>
<circle cx="1360.35" cy="1102.8" r="4.55" fill="#A2C5E4"/>
<circle cx="1360.35" cy="1108.3" r="4.55" fill="#A2C5E4"/>
<circle cx="1360.35" cy="1137.4" r="4.55" fill="#A2C5E4"/>
<circle cx="1360.35" cy="1142.9" r="4.55" fill="#A2C5E4"/>
<circle cx="1360.35" cy="1148.3" r="4.55" fill="#A2C5E4"/>
<circle cx="1360.35" cy="1166.2" r="4.55" fill="#A2C5E4"/>
<circle cx="1360.35" cy="1174.7" r="4.55" fill="#A2C5E4"/>
<circle cx="1360.35" cy="1182.5" r="4.55" fill="#A2C5E4"/>
<circle cx="1360.35" cy="1195.3" r="4.55" fill="#A2C5E4"/>
<circle cx="1360.35" cy="1249" r="4.55" fill="#A2C5E4"/>
<circle cx="1360.35" cy="1281" r="4.55" fill="#A2C5E4"/>
<path d="M1360.35 898.3V950.2M1360.35 1003.5V1080" stroke="#A2C5E4" stroke-width="2.1" fill="none"/>
<rect x="1352.75" y="951.1" width="15.2" height="51.5" fill="#fff" stroke="#A2C5E4" stroke-width="2.1"/>
<path d="M1352.75 973.9H1367.95" stroke="#A2C5E4" stroke-width="4" fill="none"/>
<text x="1258" y="785" font-size="21" text-anchor="middle">****</text>
<text x="1304.8" y="785" font-size="21" text-anchor="middle">****</text>
<text x="1351.6" y="785" font-size="21" text-anchor="middle">****</text>
<rect x="1230.3" y="759.6" width="148.6" height="605.7" fill="none" stroke="#3b3b3b" stroke-width="1.4"/>
<rect x="1230.3" y="725.4" width="148.6" height="34.2" fill="#fff" stroke="#3b3b3b" stroke-width="1.4"/>
<line x1="1229.6" y1="759.6" x2="1379.6" y2="759.6" stroke="#3b3b3b" stroke-width="2.3"/>
<text x="1304.6" y="749" font-size="17.6" text-anchor="middle" fill="#1a1a1a">LEP</text>
<line x1="1258" y1="1365.3" x2="1258" y2="1371.3" stroke="#3b3b3b" stroke-width="1.8"/>
<text x="1258" y="1393.4" font-size="24" text-anchor="middle">1</text>
<line x1="1304.8" y1="1365.3" x2="1304.8" y2="1371.3" stroke="#3b3b3b" stroke-width="1.8"/>
<text x="1304.8" y="1393.4" font-size="24" text-anchor="middle">2</text>
<line x1="1351.6" y1="1365.3" x2="1351.6" y2="1371.3" stroke="#3b3b3b" stroke-width="1.8"/>
<text x="1351.6" y="1393.4" font-size="24" text-anchor="middle">3</text>
<circle cx="1409.95" cy="1004.6" r="4.55" fill="#5A3210"/>
<circle cx="1409.95" cy="1031" r="4.55" fill="#5A3210"/>
<circle cx="1409.95" cy="1043.8" r="4.55" fill="#5A3210"/>
<circle cx="1409.95" cy="1047.4" r="4.55" fill="#5A3210"/>
<circle cx="1409.95" cy="1067.8" r="4.55" fill="#5A3210"/>
<circle cx="1409.95" cy="1075.6" r="4.55" fill="#5A3210"/>
<circle cx="1409.95" cy="1080.2" r="4.55" fill="#5A3210"/>
<circle cx="1409.95" cy="1099.3" r="4.55" fill="#5A3210"/>
<circle cx="1409.95" cy="1102.9" r="4.55" fill="#5A3210"/>
<circle cx="1409.95" cy="1106.6" r="4.55" fill="#5A3210"/>
<circle cx="1409.95" cy="1110.2" r="4.55" fill="#5A3210"/>
<circle cx="1409.95" cy="1115.7" r="4.55" fill="#5A3210"/>
<circle cx="1409.95" cy="1248.9" r="4.55" fill="#5A3210"/>
<path d="M1409.95 1119.3V1165.4M1409.95 1199.2V1237.4" stroke="#5A3210" stroke-width="2.1" fill="none"/>
<rect x="1402.35" y="1166.3" width="15.2" height="32" fill="#fff" stroke="#5A3210" stroke-width="2.1"/>
<path d="M1402.35 1183.8H1417.55" stroke="#5A3210" stroke-width="4" fill="none"/>
<circle cx="1427.45" cy="977.7" r="4.55" fill="#A2C5E4"/>
<circle cx="1427.45" cy="981.9" r="4.55" fill="#A2C5E4"/>
<circle cx="1427.45" cy="1000.1" r="4.55" fill="#A2C5E4"/>
<circle cx="1427.45" cy="1010.1" r="4.55" fill="#A2C5E4"/>
<circle cx="1427.45" cy="1246.5" r="4.55" fill="#A2C5E4"/>
<path d="M1427.45 1018.3V1098.5M1427.45 1156.7V1232.9" stroke="#A2C5E4" stroke-width="2.1" fill="none"/>
<rect x="1419.85" y="1099.4" width="15.2" height="56.4" fill="#fff" stroke="#A2C5E4" stroke-width="2.1"/>
<path d="M1419.85 1131.4H1435.05" stroke="#A2C5E4" stroke-width="4" fill="none"/>
<circle cx="1456.75" cy="990.6" r="4.55" fill="#5A3210"/>
<circle cx="1456.75" cy="1001.9" r="4.55" fill="#5A3210"/>
<circle cx="1456.75" cy="1034.7" r="4.55" fill="#5A3210"/>
<circle cx="1456.75" cy="1058" r="4.55" fill="#5A3210"/>
<circle cx="1456.75" cy="1077.4" r="4.55" fill="#5A3210"/>
<circle cx="1456.75" cy="1086.5" r="4.55" fill="#5A3210"/>
<circle cx="1456.75" cy="1090.2" r="4.55" fill="#5A3210"/>
<circle cx="1456.75" cy="1093.8" r="4.55" fill="#5A3210"/>
<circle cx="1456.75" cy="1097.5" r="4.55" fill="#5A3210"/>
<circle cx="1456.75" cy="1101.1" r="4.55" fill="#5A3210"/>
<circle cx="1456.75" cy="1104.7" r="4.55" fill="#5A3210"/>
<circle cx="1456.75" cy="1108.4" r="4.55" fill="#5A3210"/>
<circle cx="1456.75" cy="1112.9" r="4.55" fill="#5A3210"/>
<circle cx="1456.75" cy="1265.8" r="4.55" fill="#5A3210"/>
<circle cx="1456.75" cy="1277.1" r="4.55" fill="#5A3210"/>
<path d="M1456.75 1118.9V1170.8M1456.75 1208.5V1263.8" stroke="#5A3210" stroke-width="2.1" fill="none"/>
<rect x="1449.15" y="1171.7" width="15.2" height="35.9" fill="#fff" stroke="#5A3210" stroke-width="2.1"/>
<path d="M1449.15 1189.9H1464.35" stroke="#5A3210" stroke-width="4" fill="none"/>
<circle cx="1474.25" cy="953.7" r="4.55" fill="#A2C5E4"/>
<circle cx="1474.25" cy="958.6" r="4.55" fill="#A2C5E4"/>
<circle cx="1474.25" cy="971.5" r="4.55" fill="#A2C5E4"/>
<circle cx="1474.25" cy="975.5" r="4.55" fill="#A2C5E4"/>
<circle cx="1474.25" cy="1265.8" r="4.55" fill="#A2C5E4"/>
<path d="M1474.25 981.9V1083.3M1474.25 1154.1V1248.3" stroke="#A2C5E4" stroke-width="2.1" fill="none"/>
<rect x="1466.65" y="1084.2" width="15.2" height="69" fill="#fff" stroke="#A2C5E4" stroke-width="2.1"/>
<path d="M1466.65 1120.6H1481.85" stroke="#A2C5E4" stroke-width="4" fill="none"/>
<circle cx="1503.55" cy="1072" r="4.55" fill="#5A3210"/>
<circle cx="1503.55" cy="1078.9" r="4.55" fill="#5A3210"/>
<circle cx="1503.55" cy="1085.6" r="4.55" fill="#5A3210"/>
<circle cx="1503.55" cy="1103.8" r="4.55" fill="#5A3210"/>
<circle cx="1503.55" cy="1116.6" r="4.55" fill="#5A3210"/>
<circle cx="1503.55" cy="1122" r="4.55" fill="#5A3210"/>
<circle cx="1503.55" cy="1256" r="4.55" fill="#5A3210"/>
<circle cx="1503.55" cy="1262.3" r="4.55" fill="#5A3210"/>
<path d="M1503.55 1129.9V1175.1M1503.55 1207.7V1246.5" stroke="#5A3210" stroke-width="2.1" fill="none"/>
<rect x="1495.95" y="1176" width="15.2" height="30.8" fill="#fff" stroke="#5A3210" stroke-width="2.1"/>
<path d="M1495.95 1191.7H1511.15" stroke="#5A3210" stroke-width="4" fill="none"/>
<circle cx="1521.05" cy="950.9" r="4.55" fill="#A2C5E4"/>
<path d="M1521.05 959.1V1074.2M1521.05 1151.7V1232.5" stroke="#A2C5E4" stroke-width="2.1" fill="none"/>
<rect x="1513.45" y="1075.1" width="15.2" height="75.7" fill="#fff" stroke="#A2C5E4" stroke-width="2.1"/>
<path d="M1513.45 1116.9H1528.65" stroke="#A2C5E4" stroke-width="4" fill="none"/>
<text x="1418.7" y="785" font-size="21" text-anchor="middle">****</text>
<text x="1465.5" y="785" font-size="21" text-anchor="middle">****</text>
<text x="1512.3" y="785" font-size="21" text-anchor="middle">****</text>
<rect x="1391" y="759.6" width="148.6" height="605.7" fill="none" stroke="#3b3b3b" stroke-width="1.4"/>
<rect x="1391" y="725.4" width="148.6" height="34.2" fill="#fff" stroke="#3b3b3b" stroke-width="1.4"/>
<line x1="1390.3" y1="759.6" x2="1540.3" y2="759.6" stroke="#3b3b3b" stroke-width="2.3"/>
<text x="1465.3" y="749" font-size="17.6" text-anchor="middle" fill="#1a1a1a">IL1ra</text>
<line x1="1418.7" y1="1365.3" x2="1418.7" y2="1371.3" stroke="#3b3b3b" stroke-width="1.8"/>
<text x="1418.7" y="1393.4" font-size="24" text-anchor="middle">1</text>
<line x1="1465.5" y1="1365.3" x2="1465.5" y2="1371.3" stroke="#3b3b3b" stroke-width="1.8"/>
<text x="1465.5" y="1393.4" font-size="24" text-anchor="middle">2</text>
<line x1="1512.3" y1="1365.3" x2="1512.3" y2="1371.3" stroke="#3b3b3b" stroke-width="1.8"/>
<text x="1512.3" y="1393.4" font-size="24" text-anchor="middle">3</text>
<circle cx="1570.65" cy="872.6" r="4.55" fill="#5A3210"/>
<circle cx="1570.65" cy="892.3" r="4.55" fill="#5A3210"/>
<circle cx="1570.65" cy="900.1" r="4.55" fill="#5A3210"/>
<circle cx="1570.65" cy="905.2" r="4.55" fill="#5A3210"/>
<circle cx="1570.65" cy="916.5" r="4.55" fill="#5A3210"/>
<circle cx="1570.65" cy="920.1" r="4.55" fill="#5A3210"/>
<circle cx="1570.65" cy="924.7" r="4.55" fill="#5A3210"/>
<circle cx="1570.65" cy="1022.8" r="4.55" fill="#5A3210"/>
<path d="M1570.65 929.2V959.8M1570.65 983.8V1018.4" stroke="#5A3210" stroke-width="2.1" fill="none"/>
<rect x="1563.05" y="960.7" width="15.2" height="22.2" fill="#fff" stroke="#5A3210" stroke-width="2.1"/>
<path d="M1563.05 972H1578.25" stroke="#5A3210" stroke-width="4" fill="none"/>
<circle cx="1588.15" cy="881.2" r="4.55" fill="#A2C5E4"/>
<circle cx="1588.15" cy="899.2" r="4.55" fill="#A2C5E4"/>
<circle cx="1588.15" cy="906.5" r="4.55" fill="#A2C5E4"/>
<circle cx="1588.15" cy="909.6" r="4.55" fill="#A2C5E4"/>
<circle cx="1588.15" cy="1017.5" r="4.55" fill="#A2C5E4"/>
<circle cx="1588.15" cy="1022.4" r="4.55" fill="#A2C5E4"/>
<path d="M1588.15 913.7V950.1M1588.15 976.2V1009.3" stroke="#A2C5E4" stroke-width="2.1" fill="none"/>
<rect x="1580.55" y="951" width="15.2" height="24.3" fill="#fff" stroke="#A2C5E4" stroke-width="2.1"/>
<path d="M1580.55 962.5H1595.75" stroke="#A2C5E4" stroke-width="4" fill="none"/>
<circle cx="1617.45" cy="852.8" r="4.55" fill="#5A3210"/>
<circle cx="1617.45" cy="896.1" r="4.55" fill="#5A3210"/>
<circle cx="1617.45" cy="901" r="4.55" fill="#5A3210"/>
<circle cx="1617.45" cy="906.5" r="4.55" fill="#5A3210"/>
<circle cx="1617.45" cy="911.9" r="4.55" fill="#5A3210"/>
<circle cx="1617.45" cy="916.5" r="4.55" fill="#5A3210"/>
<circle cx="1617.45" cy="920.1" r="4.55" fill="#5A3210"/>
<circle cx="1617.45" cy="1029.7" r="4.55" fill="#5A3210"/>
<circle cx="1617.45" cy="1057.5" r="4.55" fill="#5A3210"/>
<path d="M1617.45 924.7V956.1M1617.45 981.3V1012.4" stroke="#5A3210" stroke-width="2.1" fill="none"/>
<rect x="1609.85" y="957" width="15.2" height="23.4" fill="#fff" stroke="#5A3210" stroke-width="2.1"/>
<path d="M1609.85 969.3H1625.05" stroke="#5A3210" stroke-width="4" fill="none"/>
<circle cx="1634.95" cy="848.8" r="4.55" fill="#A2C5E4"/>
<circle cx="1634.95" cy="859.7" r="4.55" fill="#A2C5E4"/>
<circle cx="1634.95" cy="872.4" r="4.55" fill="#A2C5E4"/>
<circle cx="1634.95" cy="877.3" r="4.55" fill="#A2C5E4"/>
<circle cx="1634.95" cy="882.8" r="4.55" fill="#A2C5E4"/>
<circle cx="1634.95" cy="888.3" r="4.55" fill="#A2C5E4"/>
<circle cx="1634.95" cy="892.8" r="4.55" fill="#A2C5E4"/>
<circle cx="1634.95" cy="1018.4" r="4.55" fill="#A2C5E4"/>
<path d="M1634.95 897.4V938.7M1634.95 969.6V1006.9" stroke="#A2C5E4" stroke-width="2.1" fill="none"/>
<rect x="1627.35" y="939.6" width="15.2" height="29.1" fill="#fff" stroke="#A2C5E4" stroke-width="2.1"/>
<path d="M1627.35 955.1H1642.55" stroke="#A2C5E4" stroke-width="4" fill="none"/>
<circle cx="1664.25" cy="907" r="4.55" fill="#5A3210"/>
<circle cx="1664.25" cy="918.3" r="4.55" fill="#5A3210"/>
<circle cx="1664.25" cy="923.8" r="4.55" fill="#5A3210"/>
<circle cx="1664.25" cy="1028.8" r="4.55" fill="#5A3210"/>
<circle cx="1664.25" cy="1033.9" r="4.55" fill="#5A3210"/>
<path d="M1664.25 928.3V962M1664.25 988.4V1023.9" stroke="#5A3210" stroke-width="2.1" fill="none"/>
<rect x="1656.65" y="962.9" width="15.2" height="24.6" fill="#fff" stroke="#5A3210" stroke-width="2.1"/>
<path d="M1656.65 974.3H1671.85" stroke="#5A3210" stroke-width="4" fill="none"/>
<circle cx="1681.75" cy="852.9" r="4.55" fill="#A2C5E4"/>
<circle cx="1681.75" cy="867.9" r="4.55" fill="#A2C5E4"/>
<circle cx="1681.75" cy="876.4" r="4.55" fill="#A2C5E4"/>
<circle cx="1681.75" cy="888.8" r="4.55" fill="#A2C5E4"/>
<circle cx="1681.75" cy="892.8" r="4.55" fill="#A2C5E4"/>
<circle cx="1681.75" cy="1016.9" r="4.55" fill="#A2C5E4"/>
<circle cx="1681.75" cy="1028" r="4.55" fill="#A2C5E4"/>
<path d="M1681.75 900.1V939.4M1681.75 971.1V1012.9" stroke="#A2C5E4" stroke-width="2.1" fill="none"/>
<rect x="1674.15" y="940.3" width="15.2" height="29.9" fill="#fff" stroke="#A2C5E4" stroke-width="2.1"/>
<path d="M1674.15 955.6H1689.35" stroke="#A2C5E4" stroke-width="4" fill="none"/>
<text x="1579.4" y="785" font-size="21" text-anchor="middle">****</text>
<text x="1626.2" y="785" font-size="21" text-anchor="middle">****</text>
<text x="1673" y="785" font-size="21" text-anchor="middle">****</text>
<rect x="1551.7" y="759.6" width="148.6" height="605.7" fill="none" stroke="#3b3b3b" stroke-width="1.4"/>
<rect x="1551.7" y="725.4" width="148.6" height="34.2" fill="#fff" stroke="#3b3b3b" stroke-width="1.4"/>
<line x1="1551" y1="759.6" x2="1701" y2="759.6" stroke="#3b3b3b" stroke-width="2.3"/>
<text x="1626" y="749" font-size="17.6" text-anchor="middle" fill="#1a1a1a">HGF</text>
<line x1="1579.4" y1="1365.3" x2="1579.4" y2="1371.3" stroke="#3b3b3b" stroke-width="1.8"/>
<text x="1579.4" y="1393.4" font-size="24" text-anchor="middle">1</text>
<line x1="1626.2" y1="1365.3" x2="1626.2" y2="1371.3" stroke="#3b3b3b" stroke-width="1.8"/>
<text x="1626.2" y="1393.4" font-size="24" text-anchor="middle">2</text>
<line x1="1673" y1="1365.3" x2="1673" y2="1371.3" stroke="#3b3b3b" stroke-width="1.8"/>
<text x="1673" y="1393.4" font-size="24" text-anchor="middle">3</text>
<line x1="1063.6" y1="899" x2="1069.6" y2="899" stroke="#3b3b3b" stroke-width="1.8"/>
<text x="1058.5" y="907.6" font-size="24" text-anchor="end">9</text>
<line x1="1063.6" y1="1079.6" x2="1069.6" y2="1079.6" stroke="#3b3b3b" stroke-width="1.8"/>
<text x="1058.5" y="1088.2" font-size="24" text-anchor="end">6</text>
<line x1="1063.6" y1="1260.2" x2="1069.6" y2="1260.2" stroke="#3b3b3b" stroke-width="1.8"/>
<text x="1058.5" y="1268.8" font-size="24" text-anchor="end">3</text>
<text x="1037" y="1062.5" font-size="24" text-anchor="middle" transform="rotate(-90 1037 1062.5)">NPX</text>
<text x="1385" y="1421.1" font-size="24" text-anchor="middle">Age group</text>
<path d="M1751.8 1048.2V1075.8" stroke="#5A3210" stroke-width="1.8" fill="none"/>
<rect x="1738.4" y="1053.1" width="26.7" height="17.8" fill="#fff" stroke="#5A3210" stroke-width="1.8"/>
<path d="M1738.4 1062H1765.1" stroke="#5A3210" stroke-width="1.8" fill="none"/>
<text x="1780.2" y="1070.2" font-size="24">Normal weight</text>
<path d="M1751.8 1083.4V1111" stroke="#A2C5E4" stroke-width="1.8" fill="none"/>
<rect x="1738.4" y="1088.3" width="26.7" height="17.8" fill="#fff" stroke="#A2C5E4" stroke-width="1.8"/>
<path d="M1738.4 1097.2H1765.1" stroke="#A2C5E4" stroke-width="1.8" fill="none"/>
<text x="1780.2" y="1105.4" font-size="24">Overweight / obesity</text>
</svg>
</body>
</html>
